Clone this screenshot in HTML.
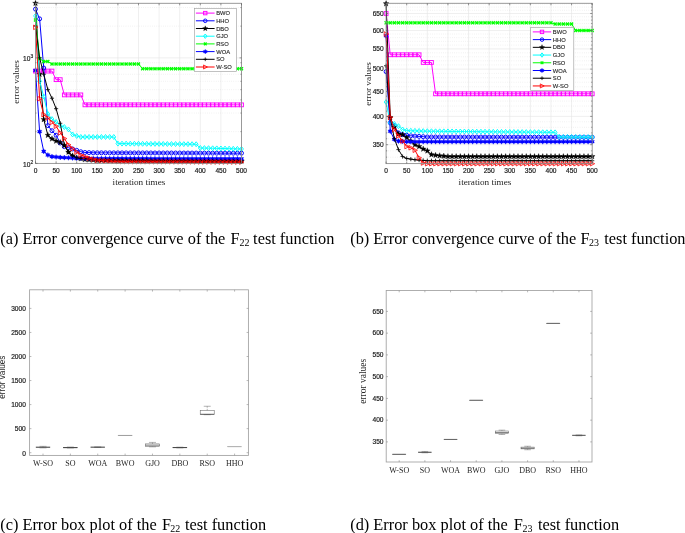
<!DOCTYPE html>
<html><head><meta charset="utf-8"><title>Figure</title>
<style>html,body{margin:0;padding:0;background:#fff;width:685px;height:533px;overflow:hidden}svg{display:block;will-change:transform}</style>
</head><body>
<svg width="685" height="533" viewBox="0 0 685 533">
<defs>
<clipPath id="ca"><rect x="35.5" y="0" width="209.0" height="164.4"/></clipPath>
<clipPath id="cb"><rect x="384.1" y="0" width="210.10000000000002" height="164.6"/></clipPath>
</defs>
<style>
.g{stroke:#e4e4e4;stroke-width:0.6}
.gm{stroke:#d2d2d2;stroke-width:0.5;stroke-dasharray:0.6 1.6}
.ax{stroke:#8f8f8f;stroke-width:0.9}
.axb{stroke:#a0a0a0;stroke-width:0.85}
.tk{stroke:#555;stroke-width:0.6}
.tkb{stroke:#8a8a8a;stroke-width:0.6}
.tl{font-family:"Liberation Sans",sans-serif;font-size:6.6px;fill:#1a1a1a;stroke:#1a1a1a;stroke-width:0.18px}
.lg{font-family:"Liberation Sans",sans-serif;font-size:5.8px;fill:#262626;stroke:#262626;stroke-width:0.12px}
.al{font-family:"Liberation Serif",serif;font-size:9.2px;fill:#262626}
.al2{font-family:"Liberation Serif",serif;font-size:9.5px;fill:#262626}
.al3{font-family:"Liberation Sans",sans-serif;font-size:8.2px;fill:#262626}
.bl{font-family:"Liberation Serif",serif;font-size:8px;fill:#262626}
.cap{font-family:"Liberation Serif",serif;font-size:16.35px;fill:#000}
.sub{font-size:10px}
</style>
<rect width="685" height="533" fill="#fff"/>
<line x1="56.1" y1="3.3" x2="56.1" y2="163.4" class="g"/>
<line x1="76.7" y1="3.3" x2="76.7" y2="163.4" class="g"/>
<line x1="97.3" y1="3.3" x2="97.3" y2="163.4" class="g"/>
<line x1="117.9" y1="3.3" x2="117.9" y2="163.4" class="g"/>
<line x1="138.5" y1="3.3" x2="138.5" y2="163.4" class="g"/>
<line x1="159.1" y1="3.3" x2="159.1" y2="163.4" class="g"/>
<line x1="179.7" y1="3.3" x2="179.7" y2="163.4" class="g"/>
<line x1="200.3" y1="3.3" x2="200.3" y2="163.4" class="g"/>
<line x1="220.9" y1="3.3" x2="220.9" y2="163.4" class="g"/>
<line x1="35.5" y1="57.9" x2="241.5" y2="57.9" class="g"/>
<line x1="35.5" y1="131.64" x2="241.5" y2="131.64" class="gm"/>
<line x1="35.5" y1="113.06" x2="241.5" y2="113.06" class="gm"/>
<line x1="35.5" y1="99.88" x2="241.5" y2="99.88" class="gm"/>
<line x1="35.5" y1="89.66" x2="241.5" y2="89.66" class="gm"/>
<line x1="35.5" y1="81.31" x2="241.5" y2="81.31" class="gm"/>
<line x1="35.5" y1="74.24" x2="241.5" y2="74.24" class="gm"/>
<line x1="35.5" y1="68.12" x2="241.5" y2="68.12" class="gm"/>
<line x1="35.5" y1="62.73" x2="241.5" y2="62.73" class="gm"/>
<line x1="35.5" y1="26.14" x2="241.5" y2="26.14" class="gm"/>
<line x1="35.5" y1="7.56" x2="241.5" y2="7.56" class="gm"/>
<g><path d="M35.5,71.08 L39.62,71.08 L43.74,71.08 L47.86,71.08 L51.98,71.08 L56.1,79.66 L60.22,79.66 L64.34,94.9 L68.46,94.9 L72.58,94.9 L76.7,94.9 L80.82,94.9 L84.94,104.84 L89.06,104.84 L93.18,104.84 L97.3,104.84 L101.42,104.84 L105.54,104.84 L109.66,104.84 L113.78,104.84 L117.9,104.84 L122.02,104.84 L126.14,104.84 L130.26,104.84 L134.38,104.84 L138.5,104.84 L142.62,104.84 L146.74,104.84 L150.86,104.84 L154.98,104.84 L159.1,104.84 L163.22,104.84 L167.34,104.84 L171.46,104.84 L175.58,104.84 L179.7,104.84 L183.82,104.84 L187.94,104.84 L192.06,104.84 L196.18,104.84 L200.3,104.84 L204.42,104.84 L208.54,104.84 L212.66,104.84 L216.78,104.84 L220.9,104.84 L225.02,104.84 L229.14,104.84 L233.26,104.84 L237.38,104.84 L241.5,104.84" fill="none" stroke="#ff00ff" stroke-width="1" stroke-linejoin="round"/><rect x="33.6" y="69.18" width="3.8" height="3.8" fill="none" stroke="#ff00ff" stroke-width="0.95"/><rect x="37.72" y="69.18" width="3.8" height="3.8" fill="none" stroke="#ff00ff" stroke-width="0.95"/><rect x="41.84" y="69.18" width="3.8" height="3.8" fill="none" stroke="#ff00ff" stroke-width="0.95"/><rect x="45.96" y="69.18" width="3.8" height="3.8" fill="none" stroke="#ff00ff" stroke-width="0.95"/><rect x="50.08" y="69.18" width="3.8" height="3.8" fill="none" stroke="#ff00ff" stroke-width="0.95"/><rect x="54.2" y="77.76" width="3.8" height="3.8" fill="none" stroke="#ff00ff" stroke-width="0.95"/><rect x="58.32" y="77.76" width="3.8" height="3.8" fill="none" stroke="#ff00ff" stroke-width="0.95"/><rect x="62.44" y="93" width="3.8" height="3.8" fill="none" stroke="#ff00ff" stroke-width="0.95"/><rect x="66.56" y="93" width="3.8" height="3.8" fill="none" stroke="#ff00ff" stroke-width="0.95"/><rect x="70.68" y="93" width="3.8" height="3.8" fill="none" stroke="#ff00ff" stroke-width="0.95"/><rect x="74.8" y="93" width="3.8" height="3.8" fill="none" stroke="#ff00ff" stroke-width="0.95"/><rect x="78.92" y="93" width="3.8" height="3.8" fill="none" stroke="#ff00ff" stroke-width="0.95"/><rect x="83.04" y="102.94" width="3.8" height="3.8" fill="none" stroke="#ff00ff" stroke-width="0.95"/><rect x="87.16" y="102.94" width="3.8" height="3.8" fill="none" stroke="#ff00ff" stroke-width="0.95"/><rect x="91.28" y="102.94" width="3.8" height="3.8" fill="none" stroke="#ff00ff" stroke-width="0.95"/><rect x="95.4" y="102.94" width="3.8" height="3.8" fill="none" stroke="#ff00ff" stroke-width="0.95"/><rect x="99.52" y="102.94" width="3.8" height="3.8" fill="none" stroke="#ff00ff" stroke-width="0.95"/><rect x="103.64" y="102.94" width="3.8" height="3.8" fill="none" stroke="#ff00ff" stroke-width="0.95"/><rect x="107.76" y="102.94" width="3.8" height="3.8" fill="none" stroke="#ff00ff" stroke-width="0.95"/><rect x="111.88" y="102.94" width="3.8" height="3.8" fill="none" stroke="#ff00ff" stroke-width="0.95"/><rect x="116" y="102.94" width="3.8" height="3.8" fill="none" stroke="#ff00ff" stroke-width="0.95"/><rect x="120.12" y="102.94" width="3.8" height="3.8" fill="none" stroke="#ff00ff" stroke-width="0.95"/><rect x="124.24" y="102.94" width="3.8" height="3.8" fill="none" stroke="#ff00ff" stroke-width="0.95"/><rect x="128.36" y="102.94" width="3.8" height="3.8" fill="none" stroke="#ff00ff" stroke-width="0.95"/><rect x="132.48" y="102.94" width="3.8" height="3.8" fill="none" stroke="#ff00ff" stroke-width="0.95"/><rect x="136.6" y="102.94" width="3.8" height="3.8" fill="none" stroke="#ff00ff" stroke-width="0.95"/><rect x="140.72" y="102.94" width="3.8" height="3.8" fill="none" stroke="#ff00ff" stroke-width="0.95"/><rect x="144.84" y="102.94" width="3.8" height="3.8" fill="none" stroke="#ff00ff" stroke-width="0.95"/><rect x="148.96" y="102.94" width="3.8" height="3.8" fill="none" stroke="#ff00ff" stroke-width="0.95"/><rect x="153.08" y="102.94" width="3.8" height="3.8" fill="none" stroke="#ff00ff" stroke-width="0.95"/><rect x="157.2" y="102.94" width="3.8" height="3.8" fill="none" stroke="#ff00ff" stroke-width="0.95"/><rect x="161.32" y="102.94" width="3.8" height="3.8" fill="none" stroke="#ff00ff" stroke-width="0.95"/><rect x="165.44" y="102.94" width="3.8" height="3.8" fill="none" stroke="#ff00ff" stroke-width="0.95"/><rect x="169.56" y="102.94" width="3.8" height="3.8" fill="none" stroke="#ff00ff" stroke-width="0.95"/><rect x="173.68" y="102.94" width="3.8" height="3.8" fill="none" stroke="#ff00ff" stroke-width="0.95"/><rect x="177.8" y="102.94" width="3.8" height="3.8" fill="none" stroke="#ff00ff" stroke-width="0.95"/><rect x="181.92" y="102.94" width="3.8" height="3.8" fill="none" stroke="#ff00ff" stroke-width="0.95"/><rect x="186.04" y="102.94" width="3.8" height="3.8" fill="none" stroke="#ff00ff" stroke-width="0.95"/><rect x="190.16" y="102.94" width="3.8" height="3.8" fill="none" stroke="#ff00ff" stroke-width="0.95"/><rect x="194.28" y="102.94" width="3.8" height="3.8" fill="none" stroke="#ff00ff" stroke-width="0.95"/><rect x="198.4" y="102.94" width="3.8" height="3.8" fill="none" stroke="#ff00ff" stroke-width="0.95"/><rect x="202.52" y="102.94" width="3.8" height="3.8" fill="none" stroke="#ff00ff" stroke-width="0.95"/><rect x="206.64" y="102.94" width="3.8" height="3.8" fill="none" stroke="#ff00ff" stroke-width="0.95"/><rect x="210.76" y="102.94" width="3.8" height="3.8" fill="none" stroke="#ff00ff" stroke-width="0.95"/><rect x="214.88" y="102.94" width="3.8" height="3.8" fill="none" stroke="#ff00ff" stroke-width="0.95"/><rect x="219" y="102.94" width="3.8" height="3.8" fill="none" stroke="#ff00ff" stroke-width="0.95"/><rect x="223.12" y="102.94" width="3.8" height="3.8" fill="none" stroke="#ff00ff" stroke-width="0.95"/><rect x="227.24" y="102.94" width="3.8" height="3.8" fill="none" stroke="#ff00ff" stroke-width="0.95"/><rect x="231.36" y="102.94" width="3.8" height="3.8" fill="none" stroke="#ff00ff" stroke-width="0.95"/><rect x="235.48" y="102.94" width="3.8" height="3.8" fill="none" stroke="#ff00ff" stroke-width="0.95"/><rect x="239.6" y="102.94" width="3.8" height="3.8" fill="none" stroke="#ff00ff" stroke-width="0.95"/></g>
<g><path d="M35.5,9.12 L39.62,18.85 L43.74,68.01 L47.86,125.64 L51.98,130.73 L56.1,135.21 L60.22,143.03 L64.34,146.69 L68.46,147.66 L72.58,148.98 L76.7,150.33 L80.82,151.73 L84.94,152.45 L89.06,152.63 L93.18,152.81 L97.3,152.82 L101.42,152.83 L105.54,152.84 L109.66,152.85 L113.78,152.86 L117.9,152.87 L122.02,152.88 L126.14,152.89 L130.26,152.9 L134.38,152.91 L138.5,152.92 L142.62,152.93 L146.74,152.94 L150.86,152.95 L154.98,152.96 L159.1,152.97 L163.22,152.98 L167.34,152.99 L171.46,153 L175.58,153.01 L179.7,153.02 L183.82,153.03 L187.94,153.04 L192.06,153.05 L196.18,153.06 L200.3,153.07 L204.42,153.08 L208.54,153.09 L212.66,153.11 L216.78,153.12 L220.9,153.13 L225.02,153.14 L229.14,153.15 L233.26,153.16 L237.38,153.17 L241.5,153.18" fill="none" stroke="#0000ff" stroke-width="1" stroke-linejoin="round"/><circle cx="35.5" cy="9.12" r="1.99" fill="none" stroke="#0000ff" stroke-width="0.95"/><circle cx="39.62" cy="18.85" r="1.99" fill="none" stroke="#0000ff" stroke-width="0.95"/><circle cx="43.74" cy="68.01" r="1.99" fill="none" stroke="#0000ff" stroke-width="0.95"/><circle cx="47.86" cy="125.64" r="1.99" fill="none" stroke="#0000ff" stroke-width="0.95"/><circle cx="51.98" cy="130.73" r="1.99" fill="none" stroke="#0000ff" stroke-width="0.95"/><circle cx="56.1" cy="135.21" r="1.99" fill="none" stroke="#0000ff" stroke-width="0.95"/><circle cx="60.22" cy="143.03" r="1.99" fill="none" stroke="#0000ff" stroke-width="0.95"/><circle cx="64.34" cy="146.69" r="1.99" fill="none" stroke="#0000ff" stroke-width="0.95"/><circle cx="68.46" cy="147.66" r="1.99" fill="none" stroke="#0000ff" stroke-width="0.95"/><circle cx="72.58" cy="148.98" r="1.99" fill="none" stroke="#0000ff" stroke-width="0.95"/><circle cx="76.7" cy="150.33" r="1.99" fill="none" stroke="#0000ff" stroke-width="0.95"/><circle cx="80.82" cy="151.73" r="1.99" fill="none" stroke="#0000ff" stroke-width="0.95"/><circle cx="84.94" cy="152.45" r="1.99" fill="none" stroke="#0000ff" stroke-width="0.95"/><circle cx="89.06" cy="152.63" r="1.99" fill="none" stroke="#0000ff" stroke-width="0.95"/><circle cx="93.18" cy="152.81" r="1.99" fill="none" stroke="#0000ff" stroke-width="0.95"/><circle cx="97.3" cy="152.82" r="1.99" fill="none" stroke="#0000ff" stroke-width="0.95"/><circle cx="101.42" cy="152.83" r="1.99" fill="none" stroke="#0000ff" stroke-width="0.95"/><circle cx="105.54" cy="152.84" r="1.99" fill="none" stroke="#0000ff" stroke-width="0.95"/><circle cx="109.66" cy="152.85" r="1.99" fill="none" stroke="#0000ff" stroke-width="0.95"/><circle cx="113.78" cy="152.86" r="1.99" fill="none" stroke="#0000ff" stroke-width="0.95"/><circle cx="117.9" cy="152.87" r="1.99" fill="none" stroke="#0000ff" stroke-width="0.95"/><circle cx="122.02" cy="152.88" r="1.99" fill="none" stroke="#0000ff" stroke-width="0.95"/><circle cx="126.14" cy="152.89" r="1.99" fill="none" stroke="#0000ff" stroke-width="0.95"/><circle cx="130.26" cy="152.9" r="1.99" fill="none" stroke="#0000ff" stroke-width="0.95"/><circle cx="134.38" cy="152.91" r="1.99" fill="none" stroke="#0000ff" stroke-width="0.95"/><circle cx="138.5" cy="152.92" r="1.99" fill="none" stroke="#0000ff" stroke-width="0.95"/><circle cx="142.62" cy="152.93" r="1.99" fill="none" stroke="#0000ff" stroke-width="0.95"/><circle cx="146.74" cy="152.94" r="1.99" fill="none" stroke="#0000ff" stroke-width="0.95"/><circle cx="150.86" cy="152.95" r="1.99" fill="none" stroke="#0000ff" stroke-width="0.95"/><circle cx="154.98" cy="152.96" r="1.99" fill="none" stroke="#0000ff" stroke-width="0.95"/><circle cx="159.1" cy="152.97" r="1.99" fill="none" stroke="#0000ff" stroke-width="0.95"/><circle cx="163.22" cy="152.98" r="1.99" fill="none" stroke="#0000ff" stroke-width="0.95"/><circle cx="167.34" cy="152.99" r="1.99" fill="none" stroke="#0000ff" stroke-width="0.95"/><circle cx="171.46" cy="153" r="1.99" fill="none" stroke="#0000ff" stroke-width="0.95"/><circle cx="175.58" cy="153.01" r="1.99" fill="none" stroke="#0000ff" stroke-width="0.95"/><circle cx="179.7" cy="153.02" r="1.99" fill="none" stroke="#0000ff" stroke-width="0.95"/><circle cx="183.82" cy="153.03" r="1.99" fill="none" stroke="#0000ff" stroke-width="0.95"/><circle cx="187.94" cy="153.04" r="1.99" fill="none" stroke="#0000ff" stroke-width="0.95"/><circle cx="192.06" cy="153.05" r="1.99" fill="none" stroke="#0000ff" stroke-width="0.95"/><circle cx="196.18" cy="153.06" r="1.99" fill="none" stroke="#0000ff" stroke-width="0.95"/><circle cx="200.3" cy="153.07" r="1.99" fill="none" stroke="#0000ff" stroke-width="0.95"/><circle cx="204.42" cy="153.08" r="1.99" fill="none" stroke="#0000ff" stroke-width="0.95"/><circle cx="208.54" cy="153.09" r="1.99" fill="none" stroke="#0000ff" stroke-width="0.95"/><circle cx="212.66" cy="153.11" r="1.99" fill="none" stroke="#0000ff" stroke-width="0.95"/><circle cx="216.78" cy="153.12" r="1.99" fill="none" stroke="#0000ff" stroke-width="0.95"/><circle cx="220.9" cy="153.13" r="1.99" fill="none" stroke="#0000ff" stroke-width="0.95"/><circle cx="225.02" cy="153.14" r="1.99" fill="none" stroke="#0000ff" stroke-width="0.95"/><circle cx="229.14" cy="153.15" r="1.99" fill="none" stroke="#0000ff" stroke-width="0.95"/><circle cx="233.26" cy="153.16" r="1.99" fill="none" stroke="#0000ff" stroke-width="0.95"/><circle cx="237.38" cy="153.17" r="1.99" fill="none" stroke="#0000ff" stroke-width="0.95"/><circle cx="241.5" cy="153.18" r="1.99" fill="none" stroke="#0000ff" stroke-width="0.95"/></g>
<g><path d="M35.5,3.2 L39.62,74.24 L43.74,119.44 L47.86,135.21 L51.98,138.82 L56.1,141.01 L60.22,142.44 L64.34,145.44 L68.46,152.09 L72.58,155.82 L76.7,157.8 L80.82,158.63 L84.94,159.45 L89.06,159.73 L93.18,160.02 L97.3,160.3 L101.42,160.32 L105.54,160.35 L109.66,160.37 L113.78,160.4 L117.9,160.42 L122.02,160.45 L126.14,160.47 L130.26,160.5 L134.38,160.52 L138.5,160.55 L142.62,160.57 L146.74,160.6 L150.86,160.62 L154.98,160.65 L159.1,160.67 L163.22,160.7 L167.34,160.72 L171.46,160.74 L175.58,160.77 L179.7,160.79 L183.82,160.82 L187.94,160.84 L192.06,160.87 L196.18,160.89 L200.3,160.92 L204.42,160.94 L208.54,160.97 L212.66,160.99 L216.78,161.02 L220.9,161.04 L225.02,161.07 L229.14,161.09 L233.26,161.12 L237.38,161.14 L241.5,161.16" fill="none" stroke="#000000" stroke-width="1" stroke-linejoin="round"/><polygon points="35.5,0.16 36.26,2.15 38.39,2.26 36.73,3.6 37.29,5.66 35.5,4.49 33.71,5.66 34.27,3.6 32.61,2.26 34.74,2.15" fill="#000000" stroke="#000000" stroke-width="0.3"/><polygon points="39.62,71.2 40.38,73.2 42.51,73.3 40.85,74.64 41.41,76.7 39.62,75.53 37.83,76.7 38.39,74.64 36.73,73.3 38.86,73.2" fill="#000000" stroke="#000000" stroke-width="0.3"/><polygon points="43.74,116.4 44.5,118.4 46.63,118.51 44.97,119.84 45.53,121.9 43.74,120.74 41.95,121.9 42.51,119.84 40.85,118.51 42.98,118.4" fill="#000000" stroke="#000000" stroke-width="0.3"/><polygon points="47.86,132.17 48.62,134.17 50.75,134.27 49.09,135.61 49.65,137.67 47.86,136.51 46.07,137.67 46.63,135.61 44.97,134.27 47.1,134.17" fill="#000000" stroke="#000000" stroke-width="0.3"/><polygon points="51.98,135.78 52.74,137.77 54.87,137.88 53.21,139.22 53.77,141.28 51.98,140.11 50.19,141.28 50.75,139.22 49.09,137.88 51.22,137.77" fill="#000000" stroke="#000000" stroke-width="0.3"/><polygon points="56.1,137.97 56.86,139.97 58.99,140.07 57.33,141.41 57.89,143.47 56.1,142.31 54.31,143.47 54.87,141.41 53.21,140.07 55.34,139.97" fill="#000000" stroke="#000000" stroke-width="0.3"/><polygon points="60.22,139.4 60.98,141.4 63.11,141.5 61.45,142.84 62.01,144.9 60.22,143.73 58.43,144.9 58.99,142.84 57.33,141.5 59.46,141.4" fill="#000000" stroke="#000000" stroke-width="0.3"/><polygon points="64.34,142.4 65.1,144.39 67.23,144.5 65.57,145.84 66.13,147.9 64.34,146.73 62.55,147.9 63.11,145.84 61.45,144.5 63.58,144.39" fill="#000000" stroke="#000000" stroke-width="0.3"/><polygon points="68.46,149.05 69.22,151.04 71.35,151.15 69.69,152.49 70.25,154.55 68.46,153.38 66.67,154.55 67.23,152.49 65.57,151.15 67.7,151.04" fill="#000000" stroke="#000000" stroke-width="0.3"/><polygon points="72.58,152.78 73.34,154.77 75.47,154.88 73.81,156.22 74.37,158.28 72.58,157.11 70.79,158.28 71.35,156.22 69.69,154.88 71.82,154.77" fill="#000000" stroke="#000000" stroke-width="0.3"/><polygon points="76.7,154.76 77.46,156.75 79.59,156.86 77.93,158.2 78.49,160.26 76.7,159.09 74.91,160.26 75.47,158.2 73.81,156.86 75.94,156.75" fill="#000000" stroke="#000000" stroke-width="0.3"/><polygon points="80.82,155.59 81.58,157.58 83.71,157.69 82.05,159.03 82.61,161.09 80.82,159.92 79.03,161.09 79.59,159.03 77.93,157.69 80.06,157.58" fill="#000000" stroke="#000000" stroke-width="0.3"/><polygon points="84.94,156.41 85.7,158.41 87.83,158.51 86.17,159.85 86.73,161.91 84.94,160.74 83.15,161.91 83.71,159.85 82.05,158.51 84.18,158.41" fill="#000000" stroke="#000000" stroke-width="0.3"/><polygon points="89.06,156.69 89.82,158.69 91.95,158.79 90.29,160.13 90.85,162.19 89.06,161.03 87.27,162.19 87.83,160.13 86.17,158.79 88.3,158.69" fill="#000000" stroke="#000000" stroke-width="0.3"/><polygon points="93.18,156.98 93.94,158.97 96.07,159.08 94.41,160.42 94.97,162.48 93.18,161.31 91.39,162.48 91.95,160.42 90.29,159.08 92.42,158.97" fill="#000000" stroke="#000000" stroke-width="0.3"/><polygon points="97.3,157.26 98.06,159.25 100.19,159.36 98.53,160.7 99.09,162.76 97.3,161.59 95.51,162.76 96.07,160.7 94.41,159.36 96.54,159.25" fill="#000000" stroke="#000000" stroke-width="0.3"/><polygon points="101.42,157.28 102.18,159.28 104.31,159.39 102.65,160.72 103.21,162.78 101.42,161.62 99.63,162.78 100.19,160.72 98.53,159.39 100.66,159.28" fill="#000000" stroke="#000000" stroke-width="0.3"/><polygon points="105.54,157.31 106.3,159.3 108.43,159.41 106.77,160.75 107.33,162.81 105.54,161.64 103.75,162.81 104.31,160.75 102.65,159.41 104.78,159.3" fill="#000000" stroke="#000000" stroke-width="0.3"/><polygon points="109.66,157.33 110.42,159.33 112.55,159.43 110.89,160.77 111.45,162.83 109.66,161.67 107.87,162.83 108.43,160.77 106.77,159.43 108.9,159.33" fill="#000000" stroke="#000000" stroke-width="0.3"/><polygon points="113.78,157.36 114.54,159.35 116.67,159.46 115.01,160.8 115.57,162.86 113.78,161.69 111.99,162.86 112.55,160.8 110.89,159.46 113.02,159.35" fill="#000000" stroke="#000000" stroke-width="0.3"/><polygon points="117.9,157.38 118.66,159.38 120.79,159.48 119.13,160.82 119.69,162.88 117.9,161.72 116.11,162.88 116.67,160.82 115.01,159.48 117.14,159.38" fill="#000000" stroke="#000000" stroke-width="0.3"/><polygon points="122.02,157.41 122.78,159.4 124.91,159.51 123.25,160.85 123.81,162.91 122.02,161.74 120.23,162.91 120.79,160.85 119.13,159.51 121.26,159.4" fill="#000000" stroke="#000000" stroke-width="0.3"/><polygon points="126.14,157.43 126.9,159.43 129.03,159.53 127.37,160.87 127.93,162.93 126.14,161.76 124.35,162.93 124.91,160.87 123.25,159.53 125.38,159.43" fill="#000000" stroke="#000000" stroke-width="0.3"/><polygon points="130.26,157.46 131.02,159.45 133.15,159.56 131.49,160.9 132.05,162.96 130.26,161.79 128.47,162.96 129.03,160.9 127.37,159.56 129.5,159.45" fill="#000000" stroke="#000000" stroke-width="0.3"/><polygon points="134.38,157.48 135.14,159.48 137.27,159.58 135.61,160.92 136.17,162.98 134.38,161.81 132.59,162.98 133.15,160.92 131.49,159.58 133.62,159.48" fill="#000000" stroke="#000000" stroke-width="0.3"/><polygon points="138.5,157.51 139.26,159.5 141.39,159.61 139.73,160.95 140.29,163.01 138.5,161.84 136.71,163.01 137.27,160.95 135.61,159.61 137.74,159.5" fill="#000000" stroke="#000000" stroke-width="0.3"/><polygon points="142.62,157.53 143.38,159.53 145.51,159.63 143.85,160.97 144.41,163.03 142.62,161.86 140.83,163.03 141.39,160.97 139.73,159.63 141.86,159.53" fill="#000000" stroke="#000000" stroke-width="0.3"/><polygon points="146.74,157.56 147.5,159.55 149.63,159.66 147.97,161 148.53,163.06 146.74,161.89 144.95,163.06 145.51,161 143.85,159.66 145.98,159.55" fill="#000000" stroke="#000000" stroke-width="0.3"/><polygon points="150.86,157.58 151.62,159.58 153.75,159.68 152.09,161.02 152.65,163.08 150.86,161.91 149.07,163.08 149.63,161.02 147.97,159.68 150.1,159.58" fill="#000000" stroke="#000000" stroke-width="0.3"/><polygon points="154.98,157.61 155.74,159.6 157.87,159.71 156.21,161.05 156.77,163.11 154.98,161.94 153.19,163.11 153.75,161.05 152.09,159.71 154.22,159.6" fill="#000000" stroke="#000000" stroke-width="0.3"/><polygon points="159.1,157.63 159.86,159.63 161.99,159.73 160.33,161.07 160.89,163.13 159.1,161.96 157.31,163.13 157.87,161.07 156.21,159.73 158.34,159.63" fill="#000000" stroke="#000000" stroke-width="0.3"/><polygon points="163.22,157.66 163.98,159.65 166.11,159.76 164.45,161.09 165.01,163.15 163.22,161.99 161.43,163.15 161.99,161.09 160.33,159.76 162.46,159.65" fill="#000000" stroke="#000000" stroke-width="0.3"/><polygon points="167.34,157.68 168.1,159.67 170.23,159.78 168.57,161.12 169.13,163.18 167.34,162.01 165.55,163.18 166.11,161.12 164.45,159.78 166.58,159.67" fill="#000000" stroke="#000000" stroke-width="0.3"/><polygon points="171.46,157.7 172.22,159.7 174.35,159.81 172.69,161.14 173.25,163.2 171.46,162.04 169.67,163.2 170.23,161.14 168.57,159.81 170.7,159.7" fill="#000000" stroke="#000000" stroke-width="0.3"/><polygon points="175.58,157.73 176.34,159.72 178.47,159.83 176.81,161.17 177.37,163.23 175.58,162.06 173.79,163.23 174.35,161.17 172.69,159.83 174.82,159.72" fill="#000000" stroke="#000000" stroke-width="0.3"/><polygon points="179.7,157.75 180.46,159.75 182.59,159.85 180.93,161.19 181.49,163.25 179.7,162.09 177.91,163.25 178.47,161.19 176.81,159.85 178.94,159.75" fill="#000000" stroke="#000000" stroke-width="0.3"/><polygon points="183.82,157.78 184.58,159.77 186.71,159.88 185.05,161.22 185.61,163.28 183.82,162.11 182.03,163.28 182.59,161.22 180.93,159.88 183.06,159.77" fill="#000000" stroke="#000000" stroke-width="0.3"/><polygon points="187.94,157.8 188.7,159.8 190.83,159.9 189.17,161.24 189.73,163.3 187.94,162.14 186.15,163.3 186.71,161.24 185.05,159.9 187.18,159.8" fill="#000000" stroke="#000000" stroke-width="0.3"/><polygon points="192.06,157.83 192.82,159.82 194.95,159.93 193.29,161.27 193.85,163.33 192.06,162.16 190.27,163.33 190.83,161.27 189.17,159.93 191.3,159.82" fill="#000000" stroke="#000000" stroke-width="0.3"/><polygon points="196.18,157.85 196.94,159.85 199.07,159.95 197.41,161.29 197.97,163.35 196.18,162.18 194.39,163.35 194.95,161.29 193.29,159.95 195.42,159.85" fill="#000000" stroke="#000000" stroke-width="0.3"/><polygon points="200.3,157.88 201.06,159.87 203.19,159.98 201.53,161.32 202.09,163.38 200.3,162.21 198.51,163.38 199.07,161.32 197.41,159.98 199.54,159.87" fill="#000000" stroke="#000000" stroke-width="0.3"/><polygon points="204.42,157.9 205.18,159.9 207.31,160 205.65,161.34 206.21,163.4 204.42,162.23 202.63,163.4 203.19,161.34 201.53,160 203.66,159.9" fill="#000000" stroke="#000000" stroke-width="0.3"/><polygon points="208.54,157.93 209.3,159.92 211.43,160.03 209.77,161.37 210.33,163.43 208.54,162.26 206.75,163.43 207.31,161.37 205.65,160.03 207.78,159.92" fill="#000000" stroke="#000000" stroke-width="0.3"/><polygon points="212.66,157.95 213.42,159.95 215.55,160.05 213.89,161.39 214.45,163.45 212.66,162.28 210.87,163.45 211.43,161.39 209.77,160.05 211.9,159.95" fill="#000000" stroke="#000000" stroke-width="0.3"/><polygon points="216.78,157.98 217.54,159.97 219.67,160.08 218.01,161.42 218.57,163.48 216.78,162.31 214.99,163.48 215.55,161.42 213.89,160.08 216.02,159.97" fill="#000000" stroke="#000000" stroke-width="0.3"/><polygon points="220.9,158 221.66,160 223.79,160.1 222.13,161.44 222.69,163.5 220.9,162.33 219.11,163.5 219.67,161.44 218.01,160.1 220.14,160" fill="#000000" stroke="#000000" stroke-width="0.3"/><polygon points="225.02,158.03 225.78,160.02 227.91,160.13 226.25,161.46 226.81,163.53 225.02,162.36 223.23,163.53 223.79,161.46 222.13,160.13 224.26,160.02" fill="#000000" stroke="#000000" stroke-width="0.3"/><polygon points="229.14,158.05 229.9,160.05 232.03,160.15 230.37,161.49 230.93,163.55 229.14,162.38 227.35,163.55 227.91,161.49 226.25,160.15 228.38,160.05" fill="#000000" stroke="#000000" stroke-width="0.3"/><polygon points="233.26,158.08 234.02,160.07 236.15,160.18 234.49,161.51 235.05,163.57 233.26,162.41 231.47,163.57 232.03,161.51 230.37,160.18 232.5,160.07" fill="#000000" stroke="#000000" stroke-width="0.3"/><polygon points="237.38,158.1 238.14,160.09 240.27,160.2 238.61,161.54 239.17,163.6 237.38,162.43 235.59,163.6 236.15,161.54 234.49,160.2 236.62,160.09" fill="#000000" stroke="#000000" stroke-width="0.3"/><polygon points="241.5,158.12 242.26,160.12 244.39,160.23 242.73,161.56 243.29,163.62 241.5,162.46 239.71,163.62 240.27,161.56 238.61,160.23 240.74,160.12" fill="#000000" stroke="#000000" stroke-width="0.3"/></g>
<g><path d="M35.5,15.92 L39.62,81.31 L43.74,96.57 L47.86,113.99 L51.98,119.09 L56.1,121.97 L60.22,125.64 L64.34,127.07 L68.46,129.41 L72.58,134.48 L76.7,135.96 L80.82,136.98 L84.94,136.98 L89.06,136.98 L93.18,136.98 L97.3,136.98 L101.42,136.98 L105.54,136.98 L109.66,136.98 L113.78,136.98 L117.9,143.62 L122.02,143.65 L126.14,143.68 L130.26,143.71 L134.38,143.74 L138.5,143.77 L142.62,143.81 L146.74,143.84 L150.86,143.87 L154.98,143.9 L159.1,143.93 L163.22,143.96 L167.34,143.99 L171.46,144.03 L175.58,144.06 L179.7,144.09 L183.82,144.12 L187.94,144.15 L192.06,144.18 L196.18,144.22 L200.3,147.98 L204.42,148.08 L208.54,148.18 L212.66,148.28 L216.78,148.38 L220.9,148.48 L225.02,148.58 L229.14,148.68 L233.26,148.78 L237.38,148.88 L241.5,148.98" fill="none" stroke="#00ffff" stroke-width="1" stroke-linejoin="round"/><polygon points="35.5,13.45 37.4,15.92 35.5,18.39 33.6,15.92" fill="none" stroke="#00ffff" stroke-width="0.95"/><polygon points="39.62,78.84 41.52,81.31 39.62,83.78 37.72,81.31" fill="none" stroke="#00ffff" stroke-width="0.95"/><polygon points="43.74,94.1 45.64,96.57 43.74,99.04 41.84,96.57" fill="none" stroke="#00ffff" stroke-width="0.95"/><polygon points="47.86,111.52 49.76,113.99 47.86,116.46 45.96,113.99" fill="none" stroke="#00ffff" stroke-width="0.95"/><polygon points="51.98,116.62 53.88,119.09 51.98,121.56 50.08,119.09" fill="none" stroke="#00ffff" stroke-width="0.95"/><polygon points="56.1,119.5 58,121.97 56.1,124.44 54.2,121.97" fill="none" stroke="#00ffff" stroke-width="0.95"/><polygon points="60.22,123.17 62.12,125.64 60.22,128.11 58.32,125.64" fill="none" stroke="#00ffff" stroke-width="0.95"/><polygon points="64.34,124.6 66.24,127.07 64.34,129.54 62.44,127.07" fill="none" stroke="#00ffff" stroke-width="0.95"/><polygon points="68.46,126.94 70.36,129.41 68.46,131.88 66.56,129.41" fill="none" stroke="#00ffff" stroke-width="0.95"/><polygon points="72.58,132.01 74.48,134.48 72.58,136.95 70.68,134.48" fill="none" stroke="#00ffff" stroke-width="0.95"/><polygon points="76.7,133.49 78.6,135.96 76.7,138.43 74.8,135.96" fill="none" stroke="#00ffff" stroke-width="0.95"/><polygon points="80.82,134.51 82.72,136.98 80.82,139.45 78.92,136.98" fill="none" stroke="#00ffff" stroke-width="0.95"/><polygon points="84.94,134.51 86.84,136.98 84.94,139.45 83.04,136.98" fill="none" stroke="#00ffff" stroke-width="0.95"/><polygon points="89.06,134.51 90.96,136.98 89.06,139.45 87.16,136.98" fill="none" stroke="#00ffff" stroke-width="0.95"/><polygon points="93.18,134.51 95.08,136.98 93.18,139.45 91.28,136.98" fill="none" stroke="#00ffff" stroke-width="0.95"/><polygon points="97.3,134.51 99.2,136.98 97.3,139.45 95.4,136.98" fill="none" stroke="#00ffff" stroke-width="0.95"/><polygon points="101.42,134.51 103.32,136.98 101.42,139.45 99.52,136.98" fill="none" stroke="#00ffff" stroke-width="0.95"/><polygon points="105.54,134.51 107.44,136.98 105.54,139.45 103.64,136.98" fill="none" stroke="#00ffff" stroke-width="0.95"/><polygon points="109.66,134.51 111.56,136.98 109.66,139.45 107.76,136.98" fill="none" stroke="#00ffff" stroke-width="0.95"/><polygon points="113.78,134.51 115.68,136.98 113.78,139.45 111.88,136.98" fill="none" stroke="#00ffff" stroke-width="0.95"/><polygon points="117.9,141.15 119.8,143.62 117.9,146.09 116,143.62" fill="none" stroke="#00ffff" stroke-width="0.95"/><polygon points="122.02,141.18 123.92,143.65 122.02,146.12 120.12,143.65" fill="none" stroke="#00ffff" stroke-width="0.95"/><polygon points="126.14,141.21 128.04,143.68 126.14,146.15 124.24,143.68" fill="none" stroke="#00ffff" stroke-width="0.95"/><polygon points="130.26,141.24 132.16,143.71 130.26,146.18 128.36,143.71" fill="none" stroke="#00ffff" stroke-width="0.95"/><polygon points="134.38,141.27 136.28,143.74 134.38,146.21 132.48,143.74" fill="none" stroke="#00ffff" stroke-width="0.95"/><polygon points="138.5,141.3 140.4,143.77 138.5,146.24 136.6,143.77" fill="none" stroke="#00ffff" stroke-width="0.95"/><polygon points="142.62,141.34 144.52,143.81 142.62,146.28 140.72,143.81" fill="none" stroke="#00ffff" stroke-width="0.95"/><polygon points="146.74,141.37 148.64,143.84 146.74,146.31 144.84,143.84" fill="none" stroke="#00ffff" stroke-width="0.95"/><polygon points="150.86,141.4 152.76,143.87 150.86,146.34 148.96,143.87" fill="none" stroke="#00ffff" stroke-width="0.95"/><polygon points="154.98,141.43 156.88,143.9 154.98,146.37 153.08,143.9" fill="none" stroke="#00ffff" stroke-width="0.95"/><polygon points="159.1,141.46 161,143.93 159.1,146.4 157.2,143.93" fill="none" stroke="#00ffff" stroke-width="0.95"/><polygon points="163.22,141.49 165.12,143.96 163.22,146.43 161.32,143.96" fill="none" stroke="#00ffff" stroke-width="0.95"/><polygon points="167.34,141.52 169.24,143.99 167.34,146.46 165.44,143.99" fill="none" stroke="#00ffff" stroke-width="0.95"/><polygon points="171.46,141.56 173.36,144.03 171.46,146.5 169.56,144.03" fill="none" stroke="#00ffff" stroke-width="0.95"/><polygon points="175.58,141.59 177.48,144.06 175.58,146.53 173.68,144.06" fill="none" stroke="#00ffff" stroke-width="0.95"/><polygon points="179.7,141.62 181.6,144.09 179.7,146.56 177.8,144.09" fill="none" stroke="#00ffff" stroke-width="0.95"/><polygon points="183.82,141.65 185.72,144.12 183.82,146.59 181.92,144.12" fill="none" stroke="#00ffff" stroke-width="0.95"/><polygon points="187.94,141.68 189.84,144.15 187.94,146.62 186.04,144.15" fill="none" stroke="#00ffff" stroke-width="0.95"/><polygon points="192.06,141.71 193.96,144.18 192.06,146.65 190.16,144.18" fill="none" stroke="#00ffff" stroke-width="0.95"/><polygon points="196.18,141.75 198.08,144.22 196.18,146.69 194.28,144.22" fill="none" stroke="#00ffff" stroke-width="0.95"/><polygon points="200.3,145.51 202.2,147.98 200.3,150.45 198.4,147.98" fill="none" stroke="#00ffff" stroke-width="0.95"/><polygon points="204.42,145.61 206.32,148.08 204.42,150.55 202.52,148.08" fill="none" stroke="#00ffff" stroke-width="0.95"/><polygon points="208.54,145.71 210.44,148.18 208.54,150.65 206.64,148.18" fill="none" stroke="#00ffff" stroke-width="0.95"/><polygon points="212.66,145.81 214.56,148.28 212.66,150.75 210.76,148.28" fill="none" stroke="#00ffff" stroke-width="0.95"/><polygon points="216.78,145.91 218.68,148.38 216.78,150.85 214.88,148.38" fill="none" stroke="#00ffff" stroke-width="0.95"/><polygon points="220.9,146.01 222.8,148.48 220.9,150.95 219,148.48" fill="none" stroke="#00ffff" stroke-width="0.95"/><polygon points="225.02,146.11 226.92,148.58 225.02,151.05 223.12,148.58" fill="none" stroke="#00ffff" stroke-width="0.95"/><polygon points="229.14,146.21 231.04,148.68 229.14,151.15 227.24,148.68" fill="none" stroke="#00ffff" stroke-width="0.95"/><polygon points="233.26,146.31 235.16,148.78 233.26,151.25 231.36,148.78" fill="none" stroke="#00ffff" stroke-width="0.95"/><polygon points="237.38,146.41 239.28,148.88 237.38,151.35 235.48,148.88" fill="none" stroke="#00ffff" stroke-width="0.95"/><polygon points="241.5,146.51 243.4,148.98 241.5,151.45 239.6,148.98" fill="none" stroke="#00ffff" stroke-width="0.95"/></g>
<g><path d="M35.5,19.94 L39.62,58.64 L43.74,61.47 L47.86,61.47 L51.98,63.97 L56.1,63.97 L60.22,63.97 L64.34,63.97 L68.46,63.97 L72.58,63.97 L76.7,63.97 L80.82,63.97 L84.94,63.97 L89.06,63.97 L93.18,63.97 L97.3,63.97 L101.42,63.97 L105.54,63.97 L109.66,63.97 L113.78,63.97 L117.9,63.97 L122.02,63.97 L126.14,63.97 L130.26,63.97 L134.38,63.97 L138.5,63.97 L142.62,68.7 L146.74,68.7 L150.86,68.7 L154.98,68.7 L159.1,68.7 L163.22,68.7 L167.34,68.7 L171.46,68.7 L175.58,68.7 L179.7,68.7 L183.82,68.7 L187.94,68.7 L192.06,68.7 L196.18,68.7 L200.3,68.7 L204.42,68.7 L208.54,68.7 L212.66,68.7 L216.78,68.7 L220.9,68.7 L225.02,68.7 L229.14,68.7 L233.26,68.7 L237.38,68.7 L241.5,68.7" fill="none" stroke="#00ff00" stroke-width="1" stroke-linejoin="round"/><path d="M33.98,18.42L37.02,21.46M33.98,21.46L37.02,18.42" stroke="#00ff00" stroke-width="1.3"/><path d="M38.1,57.12L41.14,60.16M38.1,60.16L41.14,57.12" stroke="#00ff00" stroke-width="1.3"/><path d="M42.22,59.95L45.26,62.99M42.22,62.99L45.26,59.95" stroke="#00ff00" stroke-width="1.3"/><path d="M46.34,59.95L49.38,62.99M46.34,62.99L49.38,59.95" stroke="#00ff00" stroke-width="1.3"/><path d="M50.46,62.45L53.5,65.49M50.46,65.49L53.5,62.45" stroke="#00ff00" stroke-width="1.3"/><path d="M54.58,62.45L57.62,65.49M54.58,65.49L57.62,62.45" stroke="#00ff00" stroke-width="1.3"/><path d="M58.7,62.45L61.74,65.49M58.7,65.49L61.74,62.45" stroke="#00ff00" stroke-width="1.3"/><path d="M62.82,62.45L65.86,65.49M62.82,65.49L65.86,62.45" stroke="#00ff00" stroke-width="1.3"/><path d="M66.94,62.45L69.98,65.49M66.94,65.49L69.98,62.45" stroke="#00ff00" stroke-width="1.3"/><path d="M71.06,62.45L74.1,65.49M71.06,65.49L74.1,62.45" stroke="#00ff00" stroke-width="1.3"/><path d="M75.18,62.45L78.22,65.49M75.18,65.49L78.22,62.45" stroke="#00ff00" stroke-width="1.3"/><path d="M79.3,62.45L82.34,65.49M79.3,65.49L82.34,62.45" stroke="#00ff00" stroke-width="1.3"/><path d="M83.42,62.45L86.46,65.49M83.42,65.49L86.46,62.45" stroke="#00ff00" stroke-width="1.3"/><path d="M87.54,62.45L90.58,65.49M87.54,65.49L90.58,62.45" stroke="#00ff00" stroke-width="1.3"/><path d="M91.66,62.45L94.7,65.49M91.66,65.49L94.7,62.45" stroke="#00ff00" stroke-width="1.3"/><path d="M95.78,62.45L98.82,65.49M95.78,65.49L98.82,62.45" stroke="#00ff00" stroke-width="1.3"/><path d="M99.9,62.45L102.94,65.49M99.9,65.49L102.94,62.45" stroke="#00ff00" stroke-width="1.3"/><path d="M104.02,62.45L107.06,65.49M104.02,65.49L107.06,62.45" stroke="#00ff00" stroke-width="1.3"/><path d="M108.14,62.45L111.18,65.49M108.14,65.49L111.18,62.45" stroke="#00ff00" stroke-width="1.3"/><path d="M112.26,62.45L115.3,65.49M112.26,65.49L115.3,62.45" stroke="#00ff00" stroke-width="1.3"/><path d="M116.38,62.45L119.42,65.49M116.38,65.49L119.42,62.45" stroke="#00ff00" stroke-width="1.3"/><path d="M120.5,62.45L123.54,65.49M120.5,65.49L123.54,62.45" stroke="#00ff00" stroke-width="1.3"/><path d="M124.62,62.45L127.66,65.49M124.62,65.49L127.66,62.45" stroke="#00ff00" stroke-width="1.3"/><path d="M128.74,62.45L131.78,65.49M128.74,65.49L131.78,62.45" stroke="#00ff00" stroke-width="1.3"/><path d="M132.86,62.45L135.9,65.49M132.86,65.49L135.9,62.45" stroke="#00ff00" stroke-width="1.3"/><path d="M136.98,62.45L140.02,65.49M136.98,65.49L140.02,62.45" stroke="#00ff00" stroke-width="1.3"/><path d="M141.1,67.18L144.14,70.22M141.1,70.22L144.14,67.18" stroke="#00ff00" stroke-width="1.3"/><path d="M145.22,67.18L148.26,70.22M145.22,70.22L148.26,67.18" stroke="#00ff00" stroke-width="1.3"/><path d="M149.34,67.18L152.38,70.22M149.34,70.22L152.38,67.18" stroke="#00ff00" stroke-width="1.3"/><path d="M153.46,67.18L156.5,70.22M153.46,70.22L156.5,67.18" stroke="#00ff00" stroke-width="1.3"/><path d="M157.58,67.18L160.62,70.22M157.58,70.22L160.62,67.18" stroke="#00ff00" stroke-width="1.3"/><path d="M161.7,67.18L164.74,70.22M161.7,70.22L164.74,67.18" stroke="#00ff00" stroke-width="1.3"/><path d="M165.82,67.18L168.86,70.22M165.82,70.22L168.86,67.18" stroke="#00ff00" stroke-width="1.3"/><path d="M169.94,67.18L172.98,70.22M169.94,70.22L172.98,67.18" stroke="#00ff00" stroke-width="1.3"/><path d="M174.06,67.18L177.1,70.22M174.06,70.22L177.1,67.18" stroke="#00ff00" stroke-width="1.3"/><path d="M178.18,67.18L181.22,70.22M178.18,70.22L181.22,67.18" stroke="#00ff00" stroke-width="1.3"/><path d="M182.3,67.18L185.34,70.22M182.3,70.22L185.34,67.18" stroke="#00ff00" stroke-width="1.3"/><path d="M186.42,67.18L189.46,70.22M186.42,70.22L189.46,67.18" stroke="#00ff00" stroke-width="1.3"/><path d="M190.54,67.18L193.58,70.22M190.54,70.22L193.58,67.18" stroke="#00ff00" stroke-width="1.3"/><path d="M194.66,67.18L197.7,70.22M194.66,70.22L197.7,67.18" stroke="#00ff00" stroke-width="1.3"/><path d="M198.78,67.18L201.82,70.22M198.78,70.22L201.82,67.18" stroke="#00ff00" stroke-width="1.3"/><path d="M202.9,67.18L205.94,70.22M202.9,70.22L205.94,67.18" stroke="#00ff00" stroke-width="1.3"/><path d="M207.02,67.18L210.06,70.22M207.02,70.22L210.06,67.18" stroke="#00ff00" stroke-width="1.3"/><path d="M211.14,67.18L214.18,70.22M211.14,70.22L214.18,67.18" stroke="#00ff00" stroke-width="1.3"/><path d="M215.26,67.18L218.3,70.22M215.26,70.22L218.3,67.18" stroke="#00ff00" stroke-width="1.3"/><path d="M219.38,67.18L222.42,70.22M219.38,70.22L222.42,67.18" stroke="#00ff00" stroke-width="1.3"/><path d="M223.5,67.18L226.54,70.22M223.5,70.22L226.54,67.18" stroke="#00ff00" stroke-width="1.3"/><path d="M227.62,67.18L230.66,70.22M227.62,70.22L230.66,67.18" stroke="#00ff00" stroke-width="1.3"/><path d="M231.74,67.18L234.78,70.22M231.74,70.22L234.78,67.18" stroke="#00ff00" stroke-width="1.3"/><path d="M235.86,67.18L238.9,70.22M235.86,70.22L238.9,67.18" stroke="#00ff00" stroke-width="1.3"/><path d="M239.98,67.18L243.02,70.22M239.98,70.22L243.02,67.18" stroke="#00ff00" stroke-width="1.3"/></g>
<g><path d="M35.5,70.47 L39.62,131.64 L43.74,151.38 L47.86,155.05 L51.98,156.6 L56.1,157 L60.22,157.4 L64.34,157.6 L68.46,157.8 L72.58,158 L76.7,158.21 L80.82,158.29 L84.94,158.37 L89.06,158.45 L93.18,158.54 L97.3,158.62 L101.42,158.62 L105.54,158.63 L109.66,158.64 L113.78,158.64 L117.9,158.65 L122.02,158.65 L126.14,158.66 L130.26,158.67 L134.38,158.67 L138.5,158.68 L142.62,158.68 L146.74,158.69 L150.86,158.7 L154.98,158.7 L159.1,158.71 L163.22,158.71 L167.34,158.72 L171.46,158.72 L175.58,158.73 L179.7,158.74 L183.82,158.74 L187.94,158.75 L192.06,158.75 L196.18,158.76 L200.3,158.77 L204.42,158.77 L208.54,158.78 L212.66,158.78 L216.78,158.79 L220.9,158.8 L225.02,158.8 L229.14,158.81 L233.26,158.81 L237.38,158.82 L241.5,158.83" fill="none" stroke="#0000ff" stroke-width="1" stroke-linejoin="round"/><polygon points="35.5,67.91 36.26,69.16 37.72,69.19 37.02,70.47 37.72,71.76 36.26,71.79 35.5,73.04 34.74,71.79 33.28,71.76 33.98,70.47 33.28,69.19 34.74,69.16" fill="#0000ff" stroke="#0000ff" stroke-width="0.3"/><polygon points="39.62,129.08 40.38,130.32 41.84,130.36 41.14,131.64 41.84,132.92 40.38,132.96 39.62,134.21 38.86,132.96 37.4,132.92 38.1,131.64 37.4,130.36 38.86,130.32" fill="#0000ff" stroke="#0000ff" stroke-width="0.3"/><polygon points="43.74,148.81 44.5,150.06 45.96,150.1 45.26,151.38 45.96,152.66 44.5,152.7 43.74,153.94 42.98,152.7 41.52,152.66 42.22,151.38 41.52,150.1 42.98,150.06" fill="#0000ff" stroke="#0000ff" stroke-width="0.3"/><polygon points="47.86,152.48 48.62,153.73 50.08,153.76 49.38,155.05 50.08,156.33 48.62,156.36 47.86,157.61 47.1,156.36 45.64,156.33 46.34,155.05 45.64,153.76 47.1,153.73" fill="#0000ff" stroke="#0000ff" stroke-width="0.3"/><polygon points="51.98,154.03 52.74,155.28 54.2,155.32 53.5,156.6 54.2,157.88 52.74,157.92 51.98,159.16 51.22,157.92 49.76,157.88 50.46,156.6 49.76,155.32 51.22,155.28" fill="#0000ff" stroke="#0000ff" stroke-width="0.3"/><polygon points="56.1,154.43 56.86,155.68 58.32,155.72 57.62,157 58.32,158.28 56.86,158.31 56.1,159.56 55.34,158.31 53.88,158.28 54.58,157 53.88,155.72 55.34,155.68" fill="#0000ff" stroke="#0000ff" stroke-width="0.3"/><polygon points="60.22,154.83 60.98,156.08 62.44,156.11 61.74,157.4 62.44,158.68 60.98,158.71 60.22,159.96 59.46,158.71 58,158.68 58.7,157.4 58,156.11 59.46,156.08" fill="#0000ff" stroke="#0000ff" stroke-width="0.3"/><polygon points="64.34,155.03 65.1,156.28 66.56,156.32 65.86,157.6 66.56,158.88 65.1,158.92 64.34,160.16 63.58,158.92 62.12,158.88 62.82,157.6 62.12,156.32 63.58,156.28" fill="#0000ff" stroke="#0000ff" stroke-width="0.3"/><polygon points="68.46,155.24 69.22,156.49 70.68,156.52 69.98,157.8 70.68,159.08 69.22,159.12 68.46,160.37 67.7,159.12 66.24,159.08 66.94,157.8 66.24,156.52 67.7,156.49" fill="#0000ff" stroke="#0000ff" stroke-width="0.3"/><polygon points="72.58,155.44 73.34,156.69 74.8,156.72 74.1,158 74.8,159.29 73.34,159.32 72.58,160.57 71.82,159.32 70.36,159.29 71.06,158 70.36,156.72 71.82,156.69" fill="#0000ff" stroke="#0000ff" stroke-width="0.3"/><polygon points="76.7,155.64 77.46,156.89 78.92,156.92 78.22,158.21 78.92,159.49 77.46,159.52 76.7,160.77 75.94,159.52 74.48,159.49 75.18,158.21 74.48,156.92 75.94,156.89" fill="#0000ff" stroke="#0000ff" stroke-width="0.3"/><polygon points="80.82,155.72 81.58,156.97 83.04,157.01 82.34,158.29 83.04,159.57 81.58,159.61 80.82,160.85 80.06,159.61 78.6,159.57 79.3,158.29 78.6,157.01 80.06,156.97" fill="#0000ff" stroke="#0000ff" stroke-width="0.3"/><polygon points="84.94,155.81 85.7,157.06 87.16,157.09 86.46,158.37 87.16,159.65 85.7,159.69 84.94,160.94 84.18,159.69 82.72,159.65 83.42,158.37 82.72,157.09 84.18,157.06" fill="#0000ff" stroke="#0000ff" stroke-width="0.3"/><polygon points="89.06,155.89 89.82,157.14 91.28,157.17 90.58,158.45 91.28,159.74 89.82,159.77 89.06,161.02 88.3,159.77 86.84,159.74 87.54,158.45 86.84,157.17 88.3,157.14" fill="#0000ff" stroke="#0000ff" stroke-width="0.3"/><polygon points="93.18,155.97 93.94,157.22 95.4,157.25 94.7,158.54 95.4,159.82 93.94,159.85 93.18,161.1 92.42,159.85 90.96,159.82 91.66,158.54 90.96,157.25 92.42,157.22" fill="#0000ff" stroke="#0000ff" stroke-width="0.3"/><polygon points="97.3,156.05 98.06,157.3 99.52,157.34 98.82,158.62 99.52,159.9 98.06,159.93 97.3,161.18 96.54,159.93 95.08,159.9 95.78,158.62 95.08,157.34 96.54,157.3" fill="#0000ff" stroke="#0000ff" stroke-width="0.3"/><polygon points="101.42,156.06 102.18,157.31 103.64,157.34 102.94,158.62 103.64,159.91 102.18,159.94 101.42,161.19 100.66,159.94 99.2,159.91 99.9,158.62 99.2,157.34 100.66,157.31" fill="#0000ff" stroke="#0000ff" stroke-width="0.3"/><polygon points="105.54,156.07 106.3,157.31 107.76,157.35 107.06,158.63 107.76,159.91 106.3,159.95 105.54,161.2 104.78,159.95 103.32,159.91 104.02,158.63 103.32,157.35 104.78,157.31" fill="#0000ff" stroke="#0000ff" stroke-width="0.3"/><polygon points="109.66,156.07 110.42,157.32 111.88,157.35 111.18,158.64 111.88,159.92 110.42,159.95 109.66,161.2 108.9,159.95 107.44,159.92 108.14,158.64 107.44,157.35 108.9,157.32" fill="#0000ff" stroke="#0000ff" stroke-width="0.3"/><polygon points="113.78,156.08 114.54,157.33 116,157.36 115.3,158.64 116,159.92 114.54,159.96 113.78,161.21 113.02,159.96 111.56,159.92 112.26,158.64 111.56,157.36 113.02,157.33" fill="#0000ff" stroke="#0000ff" stroke-width="0.3"/><polygon points="117.9,156.08 118.66,157.33 120.12,157.37 119.42,158.65 120.12,159.93 118.66,159.96 117.9,161.21 117.14,159.96 115.68,159.93 116.38,158.65 115.68,157.37 117.14,157.33" fill="#0000ff" stroke="#0000ff" stroke-width="0.3"/><polygon points="122.02,156.09 122.78,157.34 124.24,157.37 123.54,158.65 124.24,159.94 122.78,159.97 122.02,161.22 121.26,159.97 119.8,159.94 120.5,158.65 119.8,157.37 121.26,157.34" fill="#0000ff" stroke="#0000ff" stroke-width="0.3"/><polygon points="126.14,156.09 126.9,157.34 128.36,157.38 127.66,158.66 128.36,159.94 126.9,159.98 126.14,161.22 125.38,159.98 123.92,159.94 124.62,158.66 123.92,157.38 125.38,157.34" fill="#0000ff" stroke="#0000ff" stroke-width="0.3"/><polygon points="130.26,156.1 131.02,157.35 132.48,157.38 131.78,158.67 132.48,159.95 131.02,159.98 130.26,161.23 129.5,159.98 128.04,159.95 128.74,158.67 128.04,157.38 129.5,157.35" fill="#0000ff" stroke="#0000ff" stroke-width="0.3"/><polygon points="134.38,156.11 135.14,157.36 136.6,157.39 135.9,158.67 136.6,159.95 135.14,159.99 134.38,161.24 133.62,159.99 132.16,159.95 132.86,158.67 132.16,157.39 133.62,157.36" fill="#0000ff" stroke="#0000ff" stroke-width="0.3"/><polygon points="138.5,156.11 139.26,157.36 140.72,157.4 140.02,158.68 140.72,159.96 139.26,159.99 138.5,161.24 137.74,159.99 136.28,159.96 136.98,158.68 136.28,157.4 137.74,157.36" fill="#0000ff" stroke="#0000ff" stroke-width="0.3"/><polygon points="142.62,156.12 143.38,157.37 144.84,157.4 144.14,158.68 144.84,159.97 143.38,160 142.62,161.25 141.86,160 140.4,159.97 141.1,158.68 140.4,157.4 141.86,157.37" fill="#0000ff" stroke="#0000ff" stroke-width="0.3"/><polygon points="146.74,156.12 147.5,157.37 148.96,157.41 148.26,158.69 148.96,159.97 147.5,160.01 146.74,161.25 145.98,160.01 144.52,159.97 145.22,158.69 144.52,157.41 145.98,157.37" fill="#0000ff" stroke="#0000ff" stroke-width="0.3"/><polygon points="150.86,156.13 151.62,157.38 153.08,157.41 152.38,158.7 153.08,159.98 151.62,160.01 150.86,161.26 150.1,160.01 148.64,159.98 149.34,158.7 148.64,157.41 150.1,157.38" fill="#0000ff" stroke="#0000ff" stroke-width="0.3"/><polygon points="154.98,156.14 155.74,157.38 157.2,157.42 156.5,158.7 157.2,159.98 155.74,160.02 154.98,161.27 154.22,160.02 152.76,159.98 153.46,158.7 152.76,157.42 154.22,157.38" fill="#0000ff" stroke="#0000ff" stroke-width="0.3"/><polygon points="159.1,156.14 159.86,157.39 161.32,157.42 160.62,158.71 161.32,159.99 159.86,160.02 159.1,161.27 158.34,160.02 156.88,159.99 157.58,158.71 156.88,157.42 158.34,157.39" fill="#0000ff" stroke="#0000ff" stroke-width="0.3"/><polygon points="163.22,156.15 163.98,157.4 165.44,157.43 164.74,158.71 165.44,160 163.98,160.03 163.22,161.28 162.46,160.03 161,160 161.7,158.71 161,157.43 162.46,157.4" fill="#0000ff" stroke="#0000ff" stroke-width="0.3"/><polygon points="167.34,156.15 168.1,157.4 169.56,157.44 168.86,158.72 169.56,160 168.1,160.04 167.34,161.28 166.58,160.04 165.12,160 165.82,158.72 165.12,157.44 166.58,157.4" fill="#0000ff" stroke="#0000ff" stroke-width="0.3"/><polygon points="171.46,156.16 172.22,157.41 173.68,157.44 172.98,158.72 173.68,160.01 172.22,160.04 171.46,161.29 170.7,160.04 169.24,160.01 169.94,158.72 169.24,157.44 170.7,157.41" fill="#0000ff" stroke="#0000ff" stroke-width="0.3"/><polygon points="175.58,156.17 176.34,157.41 177.8,157.45 177.1,158.73 177.8,160.01 176.34,160.05 175.58,161.3 174.82,160.05 173.36,160.01 174.06,158.73 173.36,157.45 174.82,157.41" fill="#0000ff" stroke="#0000ff" stroke-width="0.3"/><polygon points="179.7,156.17 180.46,157.42 181.92,157.45 181.22,158.74 181.92,160.02 180.46,160.05 179.7,161.3 178.94,160.05 177.48,160.02 178.18,158.74 177.48,157.45 178.94,157.42" fill="#0000ff" stroke="#0000ff" stroke-width="0.3"/><polygon points="183.82,156.18 184.58,157.43 186.04,157.46 185.34,158.74 186.04,160.03 184.58,160.06 183.82,161.31 183.06,160.06 181.6,160.03 182.3,158.74 181.6,157.46 183.06,157.43" fill="#0000ff" stroke="#0000ff" stroke-width="0.3"/><polygon points="187.94,156.18 188.7,157.43 190.16,157.47 189.46,158.75 190.16,160.03 188.7,160.06 187.94,161.31 187.18,160.06 185.72,160.03 186.42,158.75 185.72,157.47 187.18,157.43" fill="#0000ff" stroke="#0000ff" stroke-width="0.3"/><polygon points="192.06,156.19 192.82,157.44 194.28,157.47 193.58,158.75 194.28,160.04 192.82,160.07 192.06,161.32 191.3,160.07 189.84,160.04 190.54,158.75 189.84,157.47 191.3,157.44" fill="#0000ff" stroke="#0000ff" stroke-width="0.3"/><polygon points="196.18,156.2 196.94,157.44 198.4,157.48 197.7,158.76 198.4,160.04 196.94,160.08 196.18,161.33 195.42,160.08 193.96,160.04 194.66,158.76 193.96,157.48 195.42,157.44" fill="#0000ff" stroke="#0000ff" stroke-width="0.3"/><polygon points="200.3,156.2 201.06,157.45 202.52,157.48 201.82,158.77 202.52,160.05 201.06,160.08 200.3,161.33 199.54,160.08 198.08,160.05 198.78,158.77 198.08,157.48 199.54,157.45" fill="#0000ff" stroke="#0000ff" stroke-width="0.3"/><polygon points="204.42,156.21 205.18,157.46 206.64,157.49 205.94,158.77 206.64,160.05 205.18,160.09 204.42,161.34 203.66,160.09 202.2,160.05 202.9,158.77 202.2,157.49 203.66,157.46" fill="#0000ff" stroke="#0000ff" stroke-width="0.3"/><polygon points="208.54,156.21 209.3,157.46 210.76,157.5 210.06,158.78 210.76,160.06 209.3,160.09 208.54,161.34 207.78,160.09 206.32,160.06 207.02,158.78 206.32,157.5 207.78,157.46" fill="#0000ff" stroke="#0000ff" stroke-width="0.3"/><polygon points="212.66,156.22 213.42,157.47 214.88,157.5 214.18,158.78 214.88,160.07 213.42,160.1 212.66,161.35 211.9,160.1 210.44,160.07 211.14,158.78 210.44,157.5 211.9,157.47" fill="#0000ff" stroke="#0000ff" stroke-width="0.3"/><polygon points="216.78,156.22 217.54,157.47 219,157.51 218.3,158.79 219,160.07 217.54,160.11 216.78,161.35 216.02,160.11 214.56,160.07 215.26,158.79 214.56,157.51 216.02,157.47" fill="#0000ff" stroke="#0000ff" stroke-width="0.3"/><polygon points="220.9,156.23 221.66,157.48 223.12,157.51 222.42,158.8 223.12,160.08 221.66,160.11 220.9,161.36 220.14,160.11 218.68,160.08 219.38,158.8 218.68,157.51 220.14,157.48" fill="#0000ff" stroke="#0000ff" stroke-width="0.3"/><polygon points="225.02,156.24 225.78,157.49 227.24,157.52 226.54,158.8 227.24,160.08 225.78,160.12 225.02,161.37 224.26,160.12 222.8,160.08 223.5,158.8 222.8,157.52 224.26,157.49" fill="#0000ff" stroke="#0000ff" stroke-width="0.3"/><polygon points="229.14,156.24 229.9,157.49 231.36,157.53 230.66,158.81 231.36,160.09 229.9,160.12 229.14,161.37 228.38,160.12 226.92,160.09 227.62,158.81 226.92,157.53 228.38,157.49" fill="#0000ff" stroke="#0000ff" stroke-width="0.3"/><polygon points="233.26,156.25 234.02,157.5 235.48,157.53 234.78,158.81 235.48,160.1 234.02,160.13 233.26,161.38 232.5,160.13 231.04,160.1 231.74,158.81 231.04,157.53 232.5,157.5" fill="#0000ff" stroke="#0000ff" stroke-width="0.3"/><polygon points="237.38,156.25 238.14,157.5 239.6,157.54 238.9,158.82 239.6,160.1 238.14,160.14 237.38,161.38 236.62,160.14 235.16,160.1 235.86,158.82 235.16,157.54 236.62,157.5" fill="#0000ff" stroke="#0000ff" stroke-width="0.3"/><polygon points="241.5,156.26 242.26,157.51 243.72,157.54 243.02,158.83 243.72,160.11 242.26,160.14 241.5,161.39 240.74,160.14 239.28,160.11 239.98,158.83 239.28,157.54 240.74,157.51" fill="#0000ff" stroke="#0000ff" stroke-width="0.3"/></g>
<g><path d="M35.5,26.14 L39.62,57.9 L43.74,74.24 L47.86,89.66 L51.98,98.2 L56.1,108.7 L60.22,123.29 L64.34,144.82 L68.46,152.09 L72.58,155.82 L76.7,157.8 L80.82,158.21 L84.94,158.63 L89.06,159.04 L93.18,159.46 L97.3,159.87 L101.42,159.91 L105.54,159.95 L109.66,159.98 L113.78,160.02 L117.9,160.06 L122.02,160.1 L126.14,160.13 L130.26,160.17 L134.38,160.21 L138.5,160.24 L142.62,160.28 L146.74,160.32 L150.86,160.35 L154.98,160.39 L159.1,160.43 L163.22,160.46 L167.34,160.5 L171.46,160.54 L175.58,160.57 L179.7,160.61 L183.82,160.65 L187.94,160.69 L192.06,160.72 L196.18,160.76 L200.3,160.8 L204.42,160.83 L208.54,160.87 L212.66,160.91 L216.78,160.94 L220.9,160.98 L225.02,161.02 L229.14,161.05 L233.26,161.09 L237.38,161.13 L241.5,161.16" fill="none" stroke="#000000" stroke-width="1" stroke-linejoin="round"/><path d="M33.41,26.14L37.59,26.14M35.5,24.05L35.5,28.23" stroke="#000000" stroke-width="0.8"/><path d="M37.53,57.9L41.71,57.9M39.62,55.81L39.62,59.99" stroke="#000000" stroke-width="0.8"/><path d="M41.65,74.24L45.83,74.24M43.74,72.15L43.74,76.33" stroke="#000000" stroke-width="0.8"/><path d="M45.77,89.66L49.95,89.66M47.86,87.57L47.86,91.75" stroke="#000000" stroke-width="0.8"/><path d="M49.89,98.2L54.07,98.2M51.98,96.11L51.98,100.29" stroke="#000000" stroke-width="0.8"/><path d="M54.01,108.7L58.19,108.7M56.1,106.61L56.1,110.79" stroke="#000000" stroke-width="0.8"/><path d="M58.13,123.29L62.31,123.29M60.22,121.2L60.22,125.38" stroke="#000000" stroke-width="0.8"/><path d="M62.25,144.82L66.43,144.82M64.34,142.73L64.34,146.91" stroke="#000000" stroke-width="0.8"/><path d="M66.37,152.09L70.55,152.09M68.46,150L68.46,154.18" stroke="#000000" stroke-width="0.8"/><path d="M70.49,155.82L74.67,155.82M72.58,153.73L72.58,157.91" stroke="#000000" stroke-width="0.8"/><path d="M74.61,157.8L78.79,157.8M76.7,155.71L76.7,159.89" stroke="#000000" stroke-width="0.8"/><path d="M78.73,158.21L82.91,158.21M80.82,156.12L80.82,160.3" stroke="#000000" stroke-width="0.8"/><path d="M82.85,158.63L87.03,158.63M84.94,156.54L84.94,160.72" stroke="#000000" stroke-width="0.8"/><path d="M86.97,159.04L91.15,159.04M89.06,156.95L89.06,161.13" stroke="#000000" stroke-width="0.8"/><path d="M91.09,159.46L95.27,159.46M93.18,157.37L93.18,161.55" stroke="#000000" stroke-width="0.8"/><path d="M95.21,159.87L99.39,159.87M97.3,157.78L97.3,161.96" stroke="#000000" stroke-width="0.8"/><path d="M99.33,159.91L103.51,159.91M101.42,157.82L101.42,162" stroke="#000000" stroke-width="0.8"/><path d="M103.45,159.95L107.63,159.95M105.54,157.86L105.54,162.04" stroke="#000000" stroke-width="0.8"/><path d="M107.57,159.98L111.75,159.98M109.66,157.89L109.66,162.07" stroke="#000000" stroke-width="0.8"/><path d="M111.69,160.02L115.87,160.02M113.78,157.93L113.78,162.11" stroke="#000000" stroke-width="0.8"/><path d="M115.81,160.06L119.99,160.06M117.9,157.97L117.9,162.15" stroke="#000000" stroke-width="0.8"/><path d="M119.93,160.1L124.11,160.1M122.02,158.01L122.02,162.19" stroke="#000000" stroke-width="0.8"/><path d="M124.05,160.13L128.23,160.13M126.14,158.04L126.14,162.22" stroke="#000000" stroke-width="0.8"/><path d="M128.17,160.17L132.35,160.17M130.26,158.08L130.26,162.26" stroke="#000000" stroke-width="0.8"/><path d="M132.29,160.21L136.47,160.21M134.38,158.12L134.38,162.3" stroke="#000000" stroke-width="0.8"/><path d="M136.41,160.24L140.59,160.24M138.5,158.15L138.5,162.33" stroke="#000000" stroke-width="0.8"/><path d="M140.53,160.28L144.71,160.28M142.62,158.19L142.62,162.37" stroke="#000000" stroke-width="0.8"/><path d="M144.65,160.32L148.83,160.32M146.74,158.23L146.74,162.41" stroke="#000000" stroke-width="0.8"/><path d="M148.77,160.35L152.95,160.35M150.86,158.26L150.86,162.44" stroke="#000000" stroke-width="0.8"/><path d="M152.89,160.39L157.07,160.39M154.98,158.3L154.98,162.48" stroke="#000000" stroke-width="0.8"/><path d="M157.01,160.43L161.19,160.43M159.1,158.34L159.1,162.52" stroke="#000000" stroke-width="0.8"/><path d="M161.13,160.46L165.31,160.46M163.22,158.37L163.22,162.55" stroke="#000000" stroke-width="0.8"/><path d="M165.25,160.5L169.43,160.5M167.34,158.41L167.34,162.59" stroke="#000000" stroke-width="0.8"/><path d="M169.37,160.54L173.55,160.54M171.46,158.45L171.46,162.63" stroke="#000000" stroke-width="0.8"/><path d="M173.49,160.57L177.67,160.57M175.58,158.48L175.58,162.66" stroke="#000000" stroke-width="0.8"/><path d="M177.61,160.61L181.79,160.61M179.7,158.52L179.7,162.7" stroke="#000000" stroke-width="0.8"/><path d="M181.73,160.65L185.91,160.65M183.82,158.56L183.82,162.74" stroke="#000000" stroke-width="0.8"/><path d="M185.85,160.69L190.03,160.69M187.94,158.6L187.94,162.78" stroke="#000000" stroke-width="0.8"/><path d="M189.97,160.72L194.15,160.72M192.06,158.63L192.06,162.81" stroke="#000000" stroke-width="0.8"/><path d="M194.09,160.76L198.27,160.76M196.18,158.67L196.18,162.85" stroke="#000000" stroke-width="0.8"/><path d="M198.21,160.8L202.39,160.8M200.3,158.71L200.3,162.89" stroke="#000000" stroke-width="0.8"/><path d="M202.33,160.83L206.51,160.83M204.42,158.74L204.42,162.92" stroke="#000000" stroke-width="0.8"/><path d="M206.45,160.87L210.63,160.87M208.54,158.78L208.54,162.96" stroke="#000000" stroke-width="0.8"/><path d="M210.57,160.91L214.75,160.91M212.66,158.82L212.66,163" stroke="#000000" stroke-width="0.8"/><path d="M214.69,160.94L218.87,160.94M216.78,158.85L216.78,163.03" stroke="#000000" stroke-width="0.8"/><path d="M218.81,160.98L222.99,160.98M220.9,158.89L220.9,163.07" stroke="#000000" stroke-width="0.8"/><path d="M222.93,161.02L227.11,161.02M225.02,158.93L225.02,163.11" stroke="#000000" stroke-width="0.8"/><path d="M227.05,161.05L231.23,161.05M229.14,158.96L229.14,163.14" stroke="#000000" stroke-width="0.8"/><path d="M231.17,161.09L235.35,161.09M233.26,159L233.26,163.18" stroke="#000000" stroke-width="0.8"/><path d="M235.29,161.13L239.47,161.13M237.38,159.04L237.38,163.22" stroke="#000000" stroke-width="0.8"/><path d="M239.41,161.16L243.59,161.16M241.5,159.07L241.5,163.25" stroke="#000000" stroke-width="0.8"/></g>
<g><path d="M35.5,27.3 L39.62,98.75 L43.74,114.62 L47.86,117.89 L51.98,122.34 L56.1,126.24 L60.22,132.8 L64.34,138.55 L68.46,144.82 L72.58,148.64 L76.7,152.09 L80.82,155.05 L84.94,156.63 L89.06,158.21 L93.18,159.25 L97.3,160.3 L101.42,160.56 L105.54,160.82 L109.66,161.08 L113.78,161.34 L117.9,161.6 L122.02,161.62 L126.14,161.63 L130.26,161.65 L134.38,161.66 L138.5,161.68 L142.62,161.69 L146.74,161.71 L150.86,161.72 L154.98,161.74 L159.1,161.75 L163.22,161.77 L167.34,161.78 L171.46,161.79 L175.58,161.81 L179.7,161.82 L183.82,161.84 L187.94,161.85 L192.06,161.87 L196.18,161.88 L200.3,161.9 L204.42,161.91 L208.54,161.93 L212.66,161.94 L216.78,161.96 L220.9,161.97 L225.02,161.99 L229.14,162 L233.26,162.02 L237.38,162.03 L241.5,162.05" fill="none" stroke="#ff0000" stroke-width="1" stroke-linejoin="round"/><polygon points="33.6,25.02 37.97,27.3 33.6,29.58" fill="none" stroke="#ff0000" stroke-width="0.8"/><polygon points="37.72,96.47 42.09,98.75 37.72,101.03" fill="none" stroke="#ff0000" stroke-width="0.8"/><polygon points="41.84,112.34 46.21,114.62 41.84,116.9" fill="none" stroke="#ff0000" stroke-width="0.8"/><polygon points="45.96,115.61 50.33,117.89 45.96,120.17" fill="none" stroke="#ff0000" stroke-width="0.8"/><polygon points="50.08,120.06 54.45,122.34 50.08,124.62" fill="none" stroke="#ff0000" stroke-width="0.8"/><polygon points="54.2,123.96 58.57,126.24 54.2,128.52" fill="none" stroke="#ff0000" stroke-width="0.8"/><polygon points="58.32,130.52 62.69,132.8 58.32,135.08" fill="none" stroke="#ff0000" stroke-width="0.8"/><polygon points="62.44,136.27 66.81,138.55 62.44,140.83" fill="none" stroke="#ff0000" stroke-width="0.8"/><polygon points="66.56,142.54 70.93,144.82 66.56,147.1" fill="none" stroke="#ff0000" stroke-width="0.8"/><polygon points="70.68,146.36 75.05,148.64 70.68,150.92" fill="none" stroke="#ff0000" stroke-width="0.8"/><polygon points="74.8,149.81 79.17,152.09 74.8,154.37" fill="none" stroke="#ff0000" stroke-width="0.8"/><polygon points="78.92,152.77 83.29,155.05 78.92,157.33" fill="none" stroke="#ff0000" stroke-width="0.8"/><polygon points="83.04,154.35 87.41,156.63 83.04,158.91" fill="none" stroke="#ff0000" stroke-width="0.8"/><polygon points="87.16,155.93 91.53,158.21 87.16,160.49" fill="none" stroke="#ff0000" stroke-width="0.8"/><polygon points="91.28,156.97 95.65,159.25 91.28,161.53" fill="none" stroke="#ff0000" stroke-width="0.8"/><polygon points="95.4,158.02 99.77,160.3 95.4,162.58" fill="none" stroke="#ff0000" stroke-width="0.8"/><polygon points="99.52,158.28 103.89,160.56 99.52,162.84" fill="none" stroke="#ff0000" stroke-width="0.8"/><polygon points="103.64,158.54 108.01,160.82 103.64,163.1" fill="none" stroke="#ff0000" stroke-width="0.8"/><polygon points="107.76,158.8 112.13,161.08 107.76,163.36" fill="none" stroke="#ff0000" stroke-width="0.8"/><polygon points="111.88,159.06 116.25,161.34 111.88,163.62" fill="none" stroke="#ff0000" stroke-width="0.8"/><polygon points="116,159.32 120.37,161.6 116,163.88" fill="none" stroke="#ff0000" stroke-width="0.8"/><polygon points="120.12,159.34 124.49,161.62 120.12,163.9" fill="none" stroke="#ff0000" stroke-width="0.8"/><polygon points="124.24,159.35 128.61,161.63 124.24,163.91" fill="none" stroke="#ff0000" stroke-width="0.8"/><polygon points="128.36,159.37 132.73,161.65 128.36,163.93" fill="none" stroke="#ff0000" stroke-width="0.8"/><polygon points="132.48,159.38 136.85,161.66 132.48,163.94" fill="none" stroke="#ff0000" stroke-width="0.8"/><polygon points="136.6,159.4 140.97,161.68 136.6,163.96" fill="none" stroke="#ff0000" stroke-width="0.8"/><polygon points="140.72,159.41 145.09,161.69 140.72,163.97" fill="none" stroke="#ff0000" stroke-width="0.8"/><polygon points="144.84,159.43 149.21,161.71 144.84,163.99" fill="none" stroke="#ff0000" stroke-width="0.8"/><polygon points="148.96,159.44 153.33,161.72 148.96,164" fill="none" stroke="#ff0000" stroke-width="0.8"/><polygon points="153.08,159.46 157.45,161.74 153.08,164.02" fill="none" stroke="#ff0000" stroke-width="0.8"/><polygon points="157.2,159.47 161.57,161.75 157.2,164.03" fill="none" stroke="#ff0000" stroke-width="0.8"/><polygon points="161.32,159.49 165.69,161.77 161.32,164.05" fill="none" stroke="#ff0000" stroke-width="0.8"/><polygon points="165.44,159.5 169.81,161.78 165.44,164.06" fill="none" stroke="#ff0000" stroke-width="0.8"/><polygon points="169.56,159.51 173.93,161.79 169.56,164.07" fill="none" stroke="#ff0000" stroke-width="0.8"/><polygon points="173.68,159.53 178.05,161.81 173.68,164.09" fill="none" stroke="#ff0000" stroke-width="0.8"/><polygon points="177.8,159.54 182.17,161.82 177.8,164.1" fill="none" stroke="#ff0000" stroke-width="0.8"/><polygon points="181.92,159.56 186.29,161.84 181.92,164.12" fill="none" stroke="#ff0000" stroke-width="0.8"/><polygon points="186.04,159.57 190.41,161.85 186.04,164.13" fill="none" stroke="#ff0000" stroke-width="0.8"/><polygon points="190.16,159.59 194.53,161.87 190.16,164.15" fill="none" stroke="#ff0000" stroke-width="0.8"/><polygon points="194.28,159.6 198.65,161.88 194.28,164.16" fill="none" stroke="#ff0000" stroke-width="0.8"/><polygon points="198.4,159.62 202.77,161.9 198.4,164.18" fill="none" stroke="#ff0000" stroke-width="0.8"/><polygon points="202.52,159.63 206.89,161.91 202.52,164.19" fill="none" stroke="#ff0000" stroke-width="0.8"/><polygon points="206.64,159.65 211.01,161.93 206.64,164.21" fill="none" stroke="#ff0000" stroke-width="0.8"/><polygon points="210.76,159.66 215.13,161.94 210.76,164.22" fill="none" stroke="#ff0000" stroke-width="0.8"/><polygon points="214.88,159.68 219.25,161.96 214.88,164.24" fill="none" stroke="#ff0000" stroke-width="0.8"/><polygon points="219,159.69 223.37,161.97 219,164.25" fill="none" stroke="#ff0000" stroke-width="0.8"/><polygon points="223.12,159.71 227.49,161.99 223.12,164.27" fill="none" stroke="#ff0000" stroke-width="0.8"/><polygon points="227.24,159.72 231.61,162 227.24,164.28" fill="none" stroke="#ff0000" stroke-width="0.8"/><polygon points="231.36,159.74 235.73,162.02 231.36,164.3" fill="none" stroke="#ff0000" stroke-width="0.8"/><polygon points="235.48,159.75 239.85,162.03 235.48,164.31" fill="none" stroke="#ff0000" stroke-width="0.8"/><polygon points="239.6,159.77 243.97,162.05 239.6,164.33" fill="none" stroke="#ff0000" stroke-width="0.8"/></g>
<rect x="35.5" y="3.3" width="206" height="160.1" fill="none" class="ax"/>
<line x1="35.5" y1="163.4" x2="35.5" y2="161.4" class="tk"/>
<line x1="35.5" y1="3.3" x2="35.5" y2="5.3" class="tk"/>
<text x="35.5" y="172.8" class="tl" text-anchor="middle">0</text>
<line x1="56.1" y1="163.4" x2="56.1" y2="161.4" class="tk"/>
<line x1="56.1" y1="3.3" x2="56.1" y2="5.3" class="tk"/>
<text x="56.1" y="172.8" class="tl" text-anchor="middle">50</text>
<line x1="76.7" y1="163.4" x2="76.7" y2="161.4" class="tk"/>
<line x1="76.7" y1="3.3" x2="76.7" y2="5.3" class="tk"/>
<text x="76.7" y="172.8" class="tl" text-anchor="middle">100</text>
<line x1="97.3" y1="163.4" x2="97.3" y2="161.4" class="tk"/>
<line x1="97.3" y1="3.3" x2="97.3" y2="5.3" class="tk"/>
<text x="97.3" y="172.8" class="tl" text-anchor="middle">150</text>
<line x1="117.9" y1="163.4" x2="117.9" y2="161.4" class="tk"/>
<line x1="117.9" y1="3.3" x2="117.9" y2="5.3" class="tk"/>
<text x="117.9" y="172.8" class="tl" text-anchor="middle">200</text>
<line x1="138.5" y1="163.4" x2="138.5" y2="161.4" class="tk"/>
<line x1="138.5" y1="3.3" x2="138.5" y2="5.3" class="tk"/>
<text x="138.5" y="172.8" class="tl" text-anchor="middle">250</text>
<line x1="159.1" y1="163.4" x2="159.1" y2="161.4" class="tk"/>
<line x1="159.1" y1="3.3" x2="159.1" y2="5.3" class="tk"/>
<text x="159.1" y="172.8" class="tl" text-anchor="middle">300</text>
<line x1="179.7" y1="163.4" x2="179.7" y2="161.4" class="tk"/>
<line x1="179.7" y1="3.3" x2="179.7" y2="5.3" class="tk"/>
<text x="179.7" y="172.8" class="tl" text-anchor="middle">350</text>
<line x1="200.3" y1="163.4" x2="200.3" y2="161.4" class="tk"/>
<line x1="200.3" y1="3.3" x2="200.3" y2="5.3" class="tk"/>
<text x="200.3" y="172.8" class="tl" text-anchor="middle">400</text>
<line x1="220.9" y1="163.4" x2="220.9" y2="161.4" class="tk"/>
<line x1="220.9" y1="3.3" x2="220.9" y2="5.3" class="tk"/>
<text x="220.9" y="172.8" class="tl" text-anchor="middle">450</text>
<line x1="241.5" y1="163.4" x2="241.5" y2="161.4" class="tk"/>
<line x1="241.5" y1="3.3" x2="241.5" y2="5.3" class="tk"/>
<text x="241.5" y="172.8" class="tl" text-anchor="middle">500</text>
<line x1="35.5" y1="163.4" x2="37.5" y2="163.4" class="tk"/>
<line x1="241.5" y1="163.4" x2="239.5" y2="163.4" class="tk"/>
<line x1="35.5" y1="57.9" x2="37.5" y2="57.9" class="tk"/>
<line x1="241.5" y1="57.9" x2="239.5" y2="57.9" class="tk"/>
<line x1="35.5" y1="131.64" x2="36.5" y2="131.64" class="tk"/>
<line x1="241.5" y1="131.64" x2="240.5" y2="131.64" class="tk"/>
<line x1="35.5" y1="113.06" x2="36.5" y2="113.06" class="tk"/>
<line x1="241.5" y1="113.06" x2="240.5" y2="113.06" class="tk"/>
<line x1="35.5" y1="99.88" x2="36.5" y2="99.88" class="tk"/>
<line x1="241.5" y1="99.88" x2="240.5" y2="99.88" class="tk"/>
<line x1="35.5" y1="89.66" x2="36.5" y2="89.66" class="tk"/>
<line x1="241.5" y1="89.66" x2="240.5" y2="89.66" class="tk"/>
<line x1="35.5" y1="81.31" x2="36.5" y2="81.31" class="tk"/>
<line x1="241.5" y1="81.31" x2="240.5" y2="81.31" class="tk"/>
<line x1="35.5" y1="74.24" x2="36.5" y2="74.24" class="tk"/>
<line x1="241.5" y1="74.24" x2="240.5" y2="74.24" class="tk"/>
<line x1="35.5" y1="68.12" x2="36.5" y2="68.12" class="tk"/>
<line x1="241.5" y1="68.12" x2="240.5" y2="68.12" class="tk"/>
<line x1="35.5" y1="62.73" x2="36.5" y2="62.73" class="tk"/>
<line x1="241.5" y1="62.73" x2="240.5" y2="62.73" class="tk"/>
<line x1="35.5" y1="26.14" x2="36.5" y2="26.14" class="tk"/>
<line x1="241.5" y1="26.14" x2="240.5" y2="26.14" class="tk"/>
<line x1="35.5" y1="7.56" x2="36.5" y2="7.56" class="tk"/>
<line x1="241.5" y1="7.56" x2="240.5" y2="7.56" class="tk"/>
<text x="23.1" y="166.9" class="tl" font-size="6.8">10<tspan dy="-2.7" font-size="4.9">2</tspan></text>
<text x="23.1" y="61.2" class="tl" font-size="6.8">10<tspan dy="-3.4" font-size="4.9">3</tspan></text>
<text x="139" y="185" class="al" text-anchor="middle">iteration times</text>
<text transform="translate(19.3,82) rotate(-90)" class="al" text-anchor="middle">error values</text>
<rect x="194.3" y="8.6" width="42.3" height="62.8" fill="#fff" stroke="#999" stroke-width="0.6"/>
<line x1="195.9" y1="13.1" x2="214.6" y2="13.1" stroke="#ff00ff" stroke-width="1"/>
<rect x="203.55" y="11.4" width="3.4" height="3.4" fill="none" stroke="#ff00ff" stroke-width="0.95"/>
<text x="216.2" y="15.2" class="lg">BWO</text>
<line x1="195.9" y1="20.8" x2="214.6" y2="20.8" stroke="#0000ff" stroke-width="1"/>
<circle cx="205.25" cy="20.8" r="1.78" fill="none" stroke="#0000ff" stroke-width="0.95"/>
<text x="216.2" y="22.9" class="lg">HHO</text>
<line x1="195.9" y1="28.5" x2="214.6" y2="28.5" stroke="#000000" stroke-width="1"/>
<polygon points="205.25,25.78 205.93,27.56 207.84,27.66 206.35,28.86 206.85,30.7 205.25,29.66 203.65,30.7 204.15,28.86 202.66,27.66 204.57,27.56" fill="#000000" stroke="#000000" stroke-width="0.3"/>
<text x="216.2" y="30.6" class="lg">DBO</text>
<line x1="195.9" y1="36.2" x2="214.6" y2="36.2" stroke="#00ffff" stroke-width="1"/>
<polygon points="205.25,33.99 206.95,36.2 205.25,38.41 203.55,36.2" fill="none" stroke="#00ffff" stroke-width="0.95"/>
<text x="216.2" y="38.3" class="lg">GJO</text>
<line x1="195.9" y1="43.9" x2="214.6" y2="43.9" stroke="#00ff00" stroke-width="1"/>
<path d="M203.89,42.54L206.61,45.26M203.89,45.26L206.61,42.54" stroke="#00ff00" stroke-width="1.3"/>
<text x="216.2" y="46" class="lg">RSO</text>
<line x1="195.9" y1="51.6" x2="214.6" y2="51.6" stroke="#0000ff" stroke-width="1"/>
<polygon points="205.25,49.3 205.93,50.42 207.24,50.45 206.61,51.6 207.24,52.75 205.93,52.78 205.25,53.9 204.57,52.78 203.26,52.75 203.89,51.6 203.26,50.45 204.57,50.42" fill="#0000ff" stroke="#0000ff" stroke-width="0.3"/>
<text x="216.2" y="53.7" class="lg">WOA</text>
<line x1="195.9" y1="59.3" x2="214.6" y2="59.3" stroke="#000000" stroke-width="1"/>
<path d="M203.38,59.3L207.12,59.3M205.25,57.43L205.25,61.17" stroke="#000000" stroke-width="0.8"/>
<text x="216.2" y="61.4" class="lg">SO</text>
<line x1="195.9" y1="67" x2="214.6" y2="67" stroke="#ff0000" stroke-width="1"/>
<polygon points="203.55,64.96 207.46,67 203.55,69.04" fill="none" stroke="#ff0000" stroke-width="0.8"/>
<text x="216.2" y="69.1" class="lg">W-SO</text>
<line x1="406.71" y1="3.3" x2="406.71" y2="163.6" class="g"/>
<line x1="427.32" y1="3.3" x2="427.32" y2="163.6" class="g"/>
<line x1="447.93" y1="3.3" x2="447.93" y2="163.6" class="g"/>
<line x1="468.54" y1="3.3" x2="468.54" y2="163.6" class="g"/>
<line x1="489.15" y1="3.3" x2="489.15" y2="163.6" class="g"/>
<line x1="509.76" y1="3.3" x2="509.76" y2="163.6" class="g"/>
<line x1="530.37" y1="3.3" x2="530.37" y2="163.6" class="g"/>
<line x1="550.98" y1="3.3" x2="550.98" y2="163.6" class="g"/>
<line x1="571.59" y1="3.3" x2="571.59" y2="163.6" class="g"/>
<line x1="386.1" y1="157.17" x2="592.2" y2="157.17" class="gm"/>
<line x1="386.1" y1="150.84" x2="592.2" y2="150.84" class="gm"/>
<line x1="386.1" y1="144.7" x2="592.2" y2="144.7" class="g"/>
<line x1="386.1" y1="138.73" x2="592.2" y2="138.73" class="gm"/>
<line x1="386.1" y1="132.92" x2="592.2" y2="132.92" class="gm"/>
<line x1="386.1" y1="127.27" x2="592.2" y2="127.27" class="gm"/>
<line x1="386.1" y1="121.77" x2="592.2" y2="121.77" class="gm"/>
<line x1="386.1" y1="116.4" x2="592.2" y2="116.4" class="g"/>
<line x1="386.1" y1="111.17" x2="592.2" y2="111.17" class="gm"/>
<line x1="386.1" y1="106.06" x2="592.2" y2="106.06" class="gm"/>
<line x1="386.1" y1="101.07" x2="592.2" y2="101.07" class="gm"/>
<line x1="386.1" y1="96.2" x2="592.2" y2="96.2" class="gm"/>
<line x1="386.1" y1="91.44" x2="592.2" y2="91.44" class="g"/>
<line x1="386.1" y1="86.78" x2="592.2" y2="86.78" class="gm"/>
<line x1="386.1" y1="82.22" x2="592.2" y2="82.22" class="gm"/>
<line x1="386.1" y1="77.76" x2="592.2" y2="77.76" class="gm"/>
<line x1="386.1" y1="73.39" x2="592.2" y2="73.39" class="gm"/>
<line x1="386.1" y1="69.11" x2="592.2" y2="69.11" class="g"/>
<line x1="386.1" y1="64.91" x2="592.2" y2="64.91" class="gm"/>
<line x1="386.1" y1="60.8" x2="592.2" y2="60.8" class="gm"/>
<line x1="386.1" y1="56.76" x2="592.2" y2="56.76" class="gm"/>
<line x1="386.1" y1="52.8" x2="592.2" y2="52.8" class="gm"/>
<line x1="386.1" y1="48.91" x2="592.2" y2="48.91" class="g"/>
<line x1="386.1" y1="45.09" x2="592.2" y2="45.09" class="gm"/>
<line x1="386.1" y1="41.34" x2="592.2" y2="41.34" class="gm"/>
<line x1="386.1" y1="37.65" x2="592.2" y2="37.65" class="gm"/>
<line x1="386.1" y1="34.03" x2="592.2" y2="34.03" class="gm"/>
<line x1="386.1" y1="30.47" x2="592.2" y2="30.47" class="g"/>
<line x1="386.1" y1="26.96" x2="592.2" y2="26.96" class="gm"/>
<line x1="386.1" y1="23.52" x2="592.2" y2="23.52" class="gm"/>
<line x1="386.1" y1="20.13" x2="592.2" y2="20.13" class="gm"/>
<line x1="386.1" y1="16.79" x2="592.2" y2="16.79" class="gm"/>
<line x1="386.1" y1="13.5" x2="592.2" y2="13.5" class="g"/>
<line x1="386.1" y1="10.27" x2="592.2" y2="10.27" class="gm"/>
<line x1="386.1" y1="7.08" x2="592.2" y2="7.08" class="gm"/>
<line x1="386.1" y1="3.94" x2="592.2" y2="3.94" class="gm"/>
<g><path d="M386.1,13.5 L390.22,54.77 L394.34,54.77 L398.47,54.77 L402.59,54.77 L406.71,54.77 L410.83,54.77 L414.95,54.77 L419.08,54.77 L423.2,62.43 L427.32,62.43 L431.44,62.43 L435.56,93.81 L439.69,93.81 L443.81,93.81 L447.93,93.81 L452.05,93.81 L456.17,93.81 L460.3,93.81 L464.42,93.81 L468.54,93.81 L472.66,93.81 L476.78,93.81 L480.91,93.81 L485.03,93.81 L489.15,93.81 L493.27,93.81 L497.39,93.81 L501.52,93.81 L505.64,93.81 L509.76,93.81 L513.88,93.81 L518,93.81 L522.13,93.81 L526.25,93.81 L530.37,93.81 L534.49,93.81 L538.61,93.81 L542.74,93.81 L546.86,93.81 L550.98,93.81 L555.1,93.81 L559.22,93.81 L563.35,93.81 L567.47,93.81 L571.59,93.81 L575.71,93.81 L579.83,93.81 L583.96,93.81 L588.08,93.81 L592.2,93.81" fill="none" stroke="#ff00ff" stroke-width="1" stroke-linejoin="round"/><rect x="384.2" y="11.6" width="3.8" height="3.8" fill="none" stroke="#ff00ff" stroke-width="0.95"/><rect x="388.32" y="52.87" width="3.8" height="3.8" fill="none" stroke="#ff00ff" stroke-width="0.95"/><rect x="392.44" y="52.87" width="3.8" height="3.8" fill="none" stroke="#ff00ff" stroke-width="0.95"/><rect x="396.57" y="52.87" width="3.8" height="3.8" fill="none" stroke="#ff00ff" stroke-width="0.95"/><rect x="400.69" y="52.87" width="3.8" height="3.8" fill="none" stroke="#ff00ff" stroke-width="0.95"/><rect x="404.81" y="52.87" width="3.8" height="3.8" fill="none" stroke="#ff00ff" stroke-width="0.95"/><rect x="408.93" y="52.87" width="3.8" height="3.8" fill="none" stroke="#ff00ff" stroke-width="0.95"/><rect x="413.05" y="52.87" width="3.8" height="3.8" fill="none" stroke="#ff00ff" stroke-width="0.95"/><rect x="417.18" y="52.87" width="3.8" height="3.8" fill="none" stroke="#ff00ff" stroke-width="0.95"/><rect x="421.3" y="60.53" width="3.8" height="3.8" fill="none" stroke="#ff00ff" stroke-width="0.95"/><rect x="425.42" y="60.53" width="3.8" height="3.8" fill="none" stroke="#ff00ff" stroke-width="0.95"/><rect x="429.54" y="60.53" width="3.8" height="3.8" fill="none" stroke="#ff00ff" stroke-width="0.95"/><rect x="433.66" y="91.91" width="3.8" height="3.8" fill="none" stroke="#ff00ff" stroke-width="0.95"/><rect x="437.79" y="91.91" width="3.8" height="3.8" fill="none" stroke="#ff00ff" stroke-width="0.95"/><rect x="441.91" y="91.91" width="3.8" height="3.8" fill="none" stroke="#ff00ff" stroke-width="0.95"/><rect x="446.03" y="91.91" width="3.8" height="3.8" fill="none" stroke="#ff00ff" stroke-width="0.95"/><rect x="450.15" y="91.91" width="3.8" height="3.8" fill="none" stroke="#ff00ff" stroke-width="0.95"/><rect x="454.27" y="91.91" width="3.8" height="3.8" fill="none" stroke="#ff00ff" stroke-width="0.95"/><rect x="458.4" y="91.91" width="3.8" height="3.8" fill="none" stroke="#ff00ff" stroke-width="0.95"/><rect x="462.52" y="91.91" width="3.8" height="3.8" fill="none" stroke="#ff00ff" stroke-width="0.95"/><rect x="466.64" y="91.91" width="3.8" height="3.8" fill="none" stroke="#ff00ff" stroke-width="0.95"/><rect x="470.76" y="91.91" width="3.8" height="3.8" fill="none" stroke="#ff00ff" stroke-width="0.95"/><rect x="474.88" y="91.91" width="3.8" height="3.8" fill="none" stroke="#ff00ff" stroke-width="0.95"/><rect x="479.01" y="91.91" width="3.8" height="3.8" fill="none" stroke="#ff00ff" stroke-width="0.95"/><rect x="483.13" y="91.91" width="3.8" height="3.8" fill="none" stroke="#ff00ff" stroke-width="0.95"/><rect x="487.25" y="91.91" width="3.8" height="3.8" fill="none" stroke="#ff00ff" stroke-width="0.95"/><rect x="491.37" y="91.91" width="3.8" height="3.8" fill="none" stroke="#ff00ff" stroke-width="0.95"/><rect x="495.49" y="91.91" width="3.8" height="3.8" fill="none" stroke="#ff00ff" stroke-width="0.95"/><rect x="499.62" y="91.91" width="3.8" height="3.8" fill="none" stroke="#ff00ff" stroke-width="0.95"/><rect x="503.74" y="91.91" width="3.8" height="3.8" fill="none" stroke="#ff00ff" stroke-width="0.95"/><rect x="507.86" y="91.91" width="3.8" height="3.8" fill="none" stroke="#ff00ff" stroke-width="0.95"/><rect x="511.98" y="91.91" width="3.8" height="3.8" fill="none" stroke="#ff00ff" stroke-width="0.95"/><rect x="516.1" y="91.91" width="3.8" height="3.8" fill="none" stroke="#ff00ff" stroke-width="0.95"/><rect x="520.23" y="91.91" width="3.8" height="3.8" fill="none" stroke="#ff00ff" stroke-width="0.95"/><rect x="524.35" y="91.91" width="3.8" height="3.8" fill="none" stroke="#ff00ff" stroke-width="0.95"/><rect x="528.47" y="91.91" width="3.8" height="3.8" fill="none" stroke="#ff00ff" stroke-width="0.95"/><rect x="532.59" y="91.91" width="3.8" height="3.8" fill="none" stroke="#ff00ff" stroke-width="0.95"/><rect x="536.71" y="91.91" width="3.8" height="3.8" fill="none" stroke="#ff00ff" stroke-width="0.95"/><rect x="540.84" y="91.91" width="3.8" height="3.8" fill="none" stroke="#ff00ff" stroke-width="0.95"/><rect x="544.96" y="91.91" width="3.8" height="3.8" fill="none" stroke="#ff00ff" stroke-width="0.95"/><rect x="549.08" y="91.91" width="3.8" height="3.8" fill="none" stroke="#ff00ff" stroke-width="0.95"/><rect x="553.2" y="91.91" width="3.8" height="3.8" fill="none" stroke="#ff00ff" stroke-width="0.95"/><rect x="557.32" y="91.91" width="3.8" height="3.8" fill="none" stroke="#ff00ff" stroke-width="0.95"/><rect x="561.45" y="91.91" width="3.8" height="3.8" fill="none" stroke="#ff00ff" stroke-width="0.95"/><rect x="565.57" y="91.91" width="3.8" height="3.8" fill="none" stroke="#ff00ff" stroke-width="0.95"/><rect x="569.69" y="91.91" width="3.8" height="3.8" fill="none" stroke="#ff00ff" stroke-width="0.95"/><rect x="573.81" y="91.91" width="3.8" height="3.8" fill="none" stroke="#ff00ff" stroke-width="0.95"/><rect x="577.93" y="91.91" width="3.8" height="3.8" fill="none" stroke="#ff00ff" stroke-width="0.95"/><rect x="582.06" y="91.91" width="3.8" height="3.8" fill="none" stroke="#ff00ff" stroke-width="0.95"/><rect x="586.18" y="91.91" width="3.8" height="3.8" fill="none" stroke="#ff00ff" stroke-width="0.95"/><rect x="590.3" y="91.91" width="3.8" height="3.8" fill="none" stroke="#ff00ff" stroke-width="0.95"/></g>
<g><path d="M386.1,71.67 L390.22,122.86 L394.34,125.6 L398.47,132.92 L402.59,134.65 L406.71,135.23 L410.83,135.81 L414.95,136.1 L419.08,136.39 L423.2,136.68 L427.32,136.97 L431.44,136.98 L435.56,136.98 L439.69,136.99 L443.81,136.99 L447.93,137 L452.05,137.01 L456.17,137.01 L460.3,137.02 L464.42,137.02 L468.54,137.03 L472.66,137.04 L476.78,137.04 L480.91,137.05 L485.03,137.05 L489.15,137.06 L493.27,137.06 L497.39,137.07 L501.52,137.08 L505.64,137.08 L509.76,137.09 L513.88,137.09 L518,137.1 L522.13,137.11 L526.25,137.11 L530.37,137.12 L534.49,137.12 L538.61,137.13 L542.74,137.13 L546.86,137.14 L550.98,137.15 L555.1,137.15 L559.22,137.16 L563.35,137.16 L567.47,137.17 L571.59,137.18 L575.71,137.18 L579.83,137.19 L583.96,137.19 L588.08,137.2 L592.2,137.2" fill="none" stroke="#0000ff" stroke-width="1" stroke-linejoin="round"/><circle cx="386.1" cy="71.67" r="1.99" fill="none" stroke="#0000ff" stroke-width="0.95"/><circle cx="390.22" cy="122.86" r="1.99" fill="none" stroke="#0000ff" stroke-width="0.95"/><circle cx="394.34" cy="125.6" r="1.99" fill="none" stroke="#0000ff" stroke-width="0.95"/><circle cx="398.47" cy="132.92" r="1.99" fill="none" stroke="#0000ff" stroke-width="0.95"/><circle cx="402.59" cy="134.65" r="1.99" fill="none" stroke="#0000ff" stroke-width="0.95"/><circle cx="406.71" cy="135.23" r="1.99" fill="none" stroke="#0000ff" stroke-width="0.95"/><circle cx="410.83" cy="135.81" r="1.99" fill="none" stroke="#0000ff" stroke-width="0.95"/><circle cx="414.95" cy="136.1" r="1.99" fill="none" stroke="#0000ff" stroke-width="0.95"/><circle cx="419.08" cy="136.39" r="1.99" fill="none" stroke="#0000ff" stroke-width="0.95"/><circle cx="423.2" cy="136.68" r="1.99" fill="none" stroke="#0000ff" stroke-width="0.95"/><circle cx="427.32" cy="136.97" r="1.99" fill="none" stroke="#0000ff" stroke-width="0.95"/><circle cx="431.44" cy="136.98" r="1.99" fill="none" stroke="#0000ff" stroke-width="0.95"/><circle cx="435.56" cy="136.98" r="1.99" fill="none" stroke="#0000ff" stroke-width="0.95"/><circle cx="439.69" cy="136.99" r="1.99" fill="none" stroke="#0000ff" stroke-width="0.95"/><circle cx="443.81" cy="136.99" r="1.99" fill="none" stroke="#0000ff" stroke-width="0.95"/><circle cx="447.93" cy="137" r="1.99" fill="none" stroke="#0000ff" stroke-width="0.95"/><circle cx="452.05" cy="137.01" r="1.99" fill="none" stroke="#0000ff" stroke-width="0.95"/><circle cx="456.17" cy="137.01" r="1.99" fill="none" stroke="#0000ff" stroke-width="0.95"/><circle cx="460.3" cy="137.02" r="1.99" fill="none" stroke="#0000ff" stroke-width="0.95"/><circle cx="464.42" cy="137.02" r="1.99" fill="none" stroke="#0000ff" stroke-width="0.95"/><circle cx="468.54" cy="137.03" r="1.99" fill="none" stroke="#0000ff" stroke-width="0.95"/><circle cx="472.66" cy="137.04" r="1.99" fill="none" stroke="#0000ff" stroke-width="0.95"/><circle cx="476.78" cy="137.04" r="1.99" fill="none" stroke="#0000ff" stroke-width="0.95"/><circle cx="480.91" cy="137.05" r="1.99" fill="none" stroke="#0000ff" stroke-width="0.95"/><circle cx="485.03" cy="137.05" r="1.99" fill="none" stroke="#0000ff" stroke-width="0.95"/><circle cx="489.15" cy="137.06" r="1.99" fill="none" stroke="#0000ff" stroke-width="0.95"/><circle cx="493.27" cy="137.06" r="1.99" fill="none" stroke="#0000ff" stroke-width="0.95"/><circle cx="497.39" cy="137.07" r="1.99" fill="none" stroke="#0000ff" stroke-width="0.95"/><circle cx="501.52" cy="137.08" r="1.99" fill="none" stroke="#0000ff" stroke-width="0.95"/><circle cx="505.64" cy="137.08" r="1.99" fill="none" stroke="#0000ff" stroke-width="0.95"/><circle cx="509.76" cy="137.09" r="1.99" fill="none" stroke="#0000ff" stroke-width="0.95"/><circle cx="513.88" cy="137.09" r="1.99" fill="none" stroke="#0000ff" stroke-width="0.95"/><circle cx="518" cy="137.1" r="1.99" fill="none" stroke="#0000ff" stroke-width="0.95"/><circle cx="522.13" cy="137.11" r="1.99" fill="none" stroke="#0000ff" stroke-width="0.95"/><circle cx="526.25" cy="137.11" r="1.99" fill="none" stroke="#0000ff" stroke-width="0.95"/><circle cx="530.37" cy="137.12" r="1.99" fill="none" stroke="#0000ff" stroke-width="0.95"/><circle cx="534.49" cy="137.12" r="1.99" fill="none" stroke="#0000ff" stroke-width="0.95"/><circle cx="538.61" cy="137.13" r="1.99" fill="none" stroke="#0000ff" stroke-width="0.95"/><circle cx="542.74" cy="137.13" r="1.99" fill="none" stroke="#0000ff" stroke-width="0.95"/><circle cx="546.86" cy="137.14" r="1.99" fill="none" stroke="#0000ff" stroke-width="0.95"/><circle cx="550.98" cy="137.15" r="1.99" fill="none" stroke="#0000ff" stroke-width="0.95"/><circle cx="555.1" cy="137.15" r="1.99" fill="none" stroke="#0000ff" stroke-width="0.95"/><circle cx="559.22" cy="137.16" r="1.99" fill="none" stroke="#0000ff" stroke-width="0.95"/><circle cx="563.35" cy="137.16" r="1.99" fill="none" stroke="#0000ff" stroke-width="0.95"/><circle cx="567.47" cy="137.17" r="1.99" fill="none" stroke="#0000ff" stroke-width="0.95"/><circle cx="571.59" cy="137.18" r="1.99" fill="none" stroke="#0000ff" stroke-width="0.95"/><circle cx="575.71" cy="137.18" r="1.99" fill="none" stroke="#0000ff" stroke-width="0.95"/><circle cx="579.83" cy="137.19" r="1.99" fill="none" stroke="#0000ff" stroke-width="0.95"/><circle cx="583.96" cy="137.19" r="1.99" fill="none" stroke="#0000ff" stroke-width="0.95"/><circle cx="588.08" cy="137.2" r="1.99" fill="none" stroke="#0000ff" stroke-width="0.95"/><circle cx="592.2" cy="137.2" r="1.99" fill="none" stroke="#0000ff" stroke-width="0.95"/></g>
<g><path d="M386.1,3.63 L390.22,117.46 L394.34,127.27 L398.47,134.07 L402.59,134.65 L406.71,137.56 L410.83,141.1 L414.95,144.7 L419.08,146.52 L423.2,148.98 L427.32,150.84 L431.44,154.62 L435.56,155.25 L439.69,155.68 L443.81,156.1 L447.93,156.53 L452.05,156.53 L456.17,156.53 L460.3,156.53 L464.42,156.53 L468.54,156.53 L472.66,156.53 L476.78,156.53 L480.91,156.53 L485.03,156.53 L489.15,156.53 L493.27,156.53 L497.39,156.53 L501.52,156.53 L505.64,156.53 L509.76,156.53 L513.88,156.53 L518,156.53 L522.13,156.53 L526.25,156.53 L530.37,156.53 L534.49,156.53 L538.61,156.53 L542.74,156.53 L546.86,156.53 L550.98,156.53 L555.1,156.53 L559.22,156.53 L563.35,156.53 L567.47,156.53 L571.59,156.53 L575.71,156.53 L579.83,156.53 L583.96,156.53 L588.08,156.53 L592.2,156.53" fill="none" stroke="#000000" stroke-width="1" stroke-linejoin="round"/><polygon points="386.1,0.59 386.86,2.58 388.99,2.69 387.33,4.03 387.89,6.09 386.1,4.92 384.31,6.09 384.87,4.03 383.21,2.69 385.34,2.58" fill="#000000" stroke="#000000" stroke-width="0.3"/><polygon points="390.22,114.42 390.98,116.42 393.11,116.52 391.45,117.86 392.01,119.92 390.22,118.75 388.44,119.92 388.99,117.86 387.33,116.52 389.46,116.42" fill="#000000" stroke="#000000" stroke-width="0.3"/><polygon points="394.34,124.23 395.1,126.23 397.24,126.33 395.57,127.67 396.13,129.73 394.34,128.56 392.56,129.73 393.12,127.67 391.45,126.33 393.58,126.23" fill="#000000" stroke="#000000" stroke-width="0.3"/><polygon points="398.47,131.03 399.23,133.03 401.36,133.13 399.69,134.47 400.25,136.53 398.47,135.36 396.68,136.53 397.24,134.47 395.57,133.13 397.71,133.03" fill="#000000" stroke="#000000" stroke-width="0.3"/><polygon points="402.59,131.61 403.35,133.6 405.48,133.71 403.82,135.05 404.37,137.11 402.59,135.94 400.8,137.11 401.36,135.05 399.7,133.71 401.83,133.6" fill="#000000" stroke="#000000" stroke-width="0.3"/><polygon points="406.71,134.52 407.47,136.51 409.6,136.62 407.94,137.95 408.5,140.01 406.71,138.85 404.92,140.01 405.48,137.95 403.82,136.62 405.95,136.51" fill="#000000" stroke="#000000" stroke-width="0.3"/><polygon points="410.83,138.06 411.59,140.05 413.72,140.16 412.06,141.5 412.62,143.56 410.83,142.39 409.05,143.56 409.6,141.5 407.94,140.16 410.07,140.05" fill="#000000" stroke="#000000" stroke-width="0.3"/><polygon points="414.95,141.66 415.71,143.65 417.85,143.76 416.18,145.1 416.74,147.16 414.95,145.99 413.17,147.16 413.73,145.1 412.06,143.76 414.19,143.65" fill="#000000" stroke="#000000" stroke-width="0.3"/><polygon points="419.08,143.48 419.84,145.48 421.97,145.59 420.3,146.92 420.86,148.98 419.08,147.82 417.29,148.98 417.85,146.92 416.18,145.59 418.32,145.48" fill="#000000" stroke="#000000" stroke-width="0.3"/><polygon points="423.2,145.94 423.96,147.94 426.09,148.04 424.43,149.38 424.98,151.44 423.2,150.27 421.41,151.44 421.97,149.38 420.31,148.04 422.44,147.94" fill="#000000" stroke="#000000" stroke-width="0.3"/><polygon points="427.32,147.8 428.08,149.8 430.21,149.9 428.55,151.24 429.11,153.3 427.32,152.14 425.53,153.3 426.09,151.24 424.43,149.9 426.56,149.8" fill="#000000" stroke="#000000" stroke-width="0.3"/><polygon points="431.44,151.58 432.2,153.57 434.33,153.68 432.67,155.02 433.23,157.08 431.44,155.91 429.66,157.08 430.21,155.02 428.55,153.68 430.68,153.57" fill="#000000" stroke="#000000" stroke-width="0.3"/><polygon points="435.56,152.21 436.32,154.21 438.46,154.31 436.79,155.65 437.35,157.71 435.56,156.54 433.78,157.71 434.34,155.65 432.67,154.31 434.8,154.21" fill="#000000" stroke="#000000" stroke-width="0.3"/><polygon points="439.69,152.64 440.45,154.63 442.58,154.74 440.91,156.08 441.47,158.14 439.69,156.97 437.9,158.14 438.46,156.08 436.79,154.74 438.93,154.63" fill="#000000" stroke="#000000" stroke-width="0.3"/><polygon points="443.81,153.06 444.57,155.06 446.7,155.16 445.04,156.5 445.59,158.56 443.81,157.4 442.02,158.56 442.58,156.5 440.92,155.16 443.05,155.06" fill="#000000" stroke="#000000" stroke-width="0.3"/><polygon points="447.93,153.49 448.69,155.48 450.82,155.59 449.16,156.93 449.72,158.99 447.93,157.82 446.14,158.99 446.7,156.93 445.04,155.59 447.17,155.48" fill="#000000" stroke="#000000" stroke-width="0.3"/><polygon points="452.05,153.49 452.81,155.48 454.94,155.59 453.28,156.93 453.84,158.99 452.05,157.82 450.27,158.99 450.82,156.93 449.16,155.59 451.29,155.48" fill="#000000" stroke="#000000" stroke-width="0.3"/><polygon points="456.17,153.49 456.93,155.48 459.07,155.59 457.4,156.93 457.96,158.99 456.17,157.82 454.39,158.99 454.95,156.93 453.28,155.59 455.41,155.48" fill="#000000" stroke="#000000" stroke-width="0.3"/><polygon points="460.3,153.49 461.06,155.48 463.19,155.59 461.52,156.93 462.08,158.99 460.3,157.82 458.51,158.99 459.07,156.93 457.4,155.59 459.54,155.48" fill="#000000" stroke="#000000" stroke-width="0.3"/><polygon points="464.42,153.49 465.18,155.48 467.31,155.59 465.65,156.93 466.2,158.99 464.42,157.82 462.63,158.99 463.19,156.93 461.53,155.59 463.66,155.48" fill="#000000" stroke="#000000" stroke-width="0.3"/><polygon points="468.54,153.49 469.3,155.48 471.43,155.59 469.77,156.93 470.33,158.99 468.54,157.82 466.75,158.99 467.31,156.93 465.65,155.59 467.78,155.48" fill="#000000" stroke="#000000" stroke-width="0.3"/><polygon points="472.66,153.49 473.42,155.48 475.55,155.59 473.89,156.93 474.45,158.99 472.66,157.82 470.88,158.99 471.43,156.93 469.77,155.59 471.9,155.48" fill="#000000" stroke="#000000" stroke-width="0.3"/><polygon points="476.78,153.49 477.54,155.48 479.68,155.59 478.01,156.93 478.57,158.99 476.78,157.82 475,158.99 475.56,156.93 473.89,155.59 476.02,155.48" fill="#000000" stroke="#000000" stroke-width="0.3"/><polygon points="480.91,153.49 481.67,155.48 483.8,155.59 482.13,156.93 482.69,158.99 480.91,157.82 479.12,158.99 479.68,156.93 478.01,155.59 480.15,155.48" fill="#000000" stroke="#000000" stroke-width="0.3"/><polygon points="485.03,153.49 485.79,155.48 487.92,155.59 486.26,156.93 486.81,158.99 485.03,157.82 483.24,158.99 483.8,156.93 482.14,155.59 484.27,155.48" fill="#000000" stroke="#000000" stroke-width="0.3"/><polygon points="489.15,153.49 489.91,155.48 492.04,155.59 490.38,156.93 490.94,158.99 489.15,157.82 487.36,158.99 487.92,156.93 486.26,155.59 488.39,155.48" fill="#000000" stroke="#000000" stroke-width="0.3"/><polygon points="493.27,153.49 494.03,155.48 496.16,155.59 494.5,156.93 495.06,158.99 493.27,157.82 491.49,158.99 492.04,156.93 490.38,155.59 492.51,155.48" fill="#000000" stroke="#000000" stroke-width="0.3"/><polygon points="497.39,153.49 498.15,155.48 500.29,155.59 498.62,156.93 499.18,158.99 497.39,157.82 495.61,158.99 496.17,156.93 494.5,155.59 496.63,155.48" fill="#000000" stroke="#000000" stroke-width="0.3"/><polygon points="501.52,153.49 502.28,155.48 504.41,155.59 502.74,156.93 503.3,158.99 501.52,157.82 499.73,158.99 500.29,156.93 498.62,155.59 500.76,155.48" fill="#000000" stroke="#000000" stroke-width="0.3"/><polygon points="505.64,153.49 506.4,155.48 508.53,155.59 506.87,156.93 507.42,158.99 505.64,157.82 503.85,158.99 504.41,156.93 502.75,155.59 504.88,155.48" fill="#000000" stroke="#000000" stroke-width="0.3"/><polygon points="509.76,153.49 510.52,155.48 512.65,155.59 510.99,156.93 511.55,158.99 509.76,157.82 507.97,158.99 508.53,156.93 506.87,155.59 509,155.48" fill="#000000" stroke="#000000" stroke-width="0.3"/><polygon points="513.88,153.49 514.64,155.48 516.77,155.59 515.11,156.93 515.67,158.99 513.88,157.82 512.1,158.99 512.65,156.93 510.99,155.59 513.12,155.48" fill="#000000" stroke="#000000" stroke-width="0.3"/><polygon points="518,153.49 518.76,155.48 520.9,155.59 519.23,156.93 519.79,158.99 518,157.82 516.22,158.99 516.78,156.93 515.11,155.59 517.24,155.48" fill="#000000" stroke="#000000" stroke-width="0.3"/><polygon points="522.13,153.49 522.89,155.48 525.02,155.59 523.35,156.93 523.91,158.99 522.13,157.82 520.34,158.99 520.9,156.93 519.23,155.59 521.37,155.48" fill="#000000" stroke="#000000" stroke-width="0.3"/><polygon points="526.25,153.49 527.01,155.48 529.14,155.59 527.48,156.93 528.03,158.99 526.25,157.82 524.46,158.99 525.02,156.93 523.36,155.59 525.49,155.48" fill="#000000" stroke="#000000" stroke-width="0.3"/><polygon points="530.37,153.49 531.13,155.48 533.26,155.59 531.6,156.93 532.16,158.99 530.37,157.82 528.58,158.99 529.14,156.93 527.48,155.59 529.61,155.48" fill="#000000" stroke="#000000" stroke-width="0.3"/><polygon points="534.49,153.49 535.25,155.48 537.38,155.59 535.72,156.93 536.28,158.99 534.49,157.82 532.71,158.99 533.26,156.93 531.6,155.59 533.73,155.48" fill="#000000" stroke="#000000" stroke-width="0.3"/><polygon points="538.61,153.49 539.37,155.48 541.51,155.59 539.84,156.93 540.4,158.99 538.61,157.82 536.83,158.99 537.39,156.93 535.72,155.59 537.85,155.48" fill="#000000" stroke="#000000" stroke-width="0.3"/><polygon points="542.74,153.49 543.5,155.48 545.63,155.59 543.96,156.93 544.52,158.99 542.74,157.82 540.95,158.99 541.51,156.93 539.84,155.59 541.98,155.48" fill="#000000" stroke="#000000" stroke-width="0.3"/><polygon points="546.86,153.49 547.62,155.48 549.75,155.59 548.09,156.93 548.64,158.99 546.86,157.82 545.07,158.99 545.63,156.93 543.97,155.59 546.1,155.48" fill="#000000" stroke="#000000" stroke-width="0.3"/><polygon points="550.98,153.49 551.74,155.48 553.87,155.59 552.21,156.93 552.77,158.99 550.98,157.82 549.19,158.99 549.75,156.93 548.09,155.59 550.22,155.48" fill="#000000" stroke="#000000" stroke-width="0.3"/><polygon points="555.1,153.49 555.86,155.48 557.99,155.59 556.33,156.93 556.89,158.99 555.1,157.82 553.32,158.99 553.87,156.93 552.21,155.59 554.34,155.48" fill="#000000" stroke="#000000" stroke-width="0.3"/><polygon points="559.22,153.49 559.98,155.48 562.12,155.59 560.45,156.93 561.01,158.99 559.22,157.82 557.44,158.99 558,156.93 556.33,155.59 558.46,155.48" fill="#000000" stroke="#000000" stroke-width="0.3"/><polygon points="563.35,153.49 564.11,155.48 566.24,155.59 564.57,156.93 565.13,158.99 563.35,157.82 561.56,158.99 562.12,156.93 560.45,155.59 562.59,155.48" fill="#000000" stroke="#000000" stroke-width="0.3"/><polygon points="567.47,153.49 568.23,155.48 570.36,155.59 568.7,156.93 569.25,158.99 567.47,157.82 565.68,158.99 566.24,156.93 564.58,155.59 566.71,155.48" fill="#000000" stroke="#000000" stroke-width="0.3"/><polygon points="571.59,153.49 572.35,155.48 574.48,155.59 572.82,156.93 573.38,158.99 571.59,157.82 569.8,158.99 570.36,156.93 568.7,155.59 570.83,155.48" fill="#000000" stroke="#000000" stroke-width="0.3"/><polygon points="575.71,153.49 576.47,155.48 578.6,155.59 576.94,156.93 577.5,158.99 575.71,157.82 573.93,158.99 574.48,156.93 572.82,155.59 574.95,155.48" fill="#000000" stroke="#000000" stroke-width="0.3"/><polygon points="579.83,153.49 580.59,155.48 582.73,155.59 581.06,156.93 581.62,158.99 579.83,157.82 578.05,158.99 578.61,156.93 576.94,155.59 579.07,155.48" fill="#000000" stroke="#000000" stroke-width="0.3"/><polygon points="583.96,153.49 584.72,155.48 586.85,155.59 585.18,156.93 585.74,158.99 583.96,157.82 582.17,158.99 582.73,156.93 581.06,155.59 583.2,155.48" fill="#000000" stroke="#000000" stroke-width="0.3"/><polygon points="588.08,153.49 588.84,155.48 590.97,155.59 589.31,156.93 589.86,158.99 588.08,157.82 586.29,158.99 586.85,156.93 585.19,155.59 587.32,155.48" fill="#000000" stroke="#000000" stroke-width="0.3"/><polygon points="592.2,153.49 592.96,155.48 595.09,155.59 593.43,156.93 593.99,158.99 592.2,157.82 590.41,158.99 590.97,156.93 589.31,155.59 591.44,155.48" fill="#000000" stroke="#000000" stroke-width="0.3"/></g>
<g><path d="M386.1,102.06 L390.22,122.86 L394.34,123.95 L398.47,126.16 L402.59,129.51 L406.71,130.64 L410.83,130.76 L414.95,130.87 L419.08,130.98 L423.2,131.1 L427.32,131.21 L431.44,131.25 L435.56,131.28 L439.69,131.32 L443.81,131.36 L447.93,131.4 L452.05,131.43 L456.17,131.47 L460.3,131.51 L464.42,131.54 L468.54,131.58 L472.66,131.62 L476.78,131.65 L480.91,131.69 L485.03,131.73 L489.15,131.76 L493.27,131.8 L497.39,131.84 L501.52,131.87 L505.64,131.91 L509.76,131.95 L513.88,131.98 L518,132.02 L522.13,132.06 L526.25,132.09 L530.37,132.13 L534.49,132.17 L538.61,132.2 L542.74,132.24 L546.86,132.28 L550.98,132.31 L555.1,132.35 L559.22,136.97 L563.35,137 L567.47,137.03 L571.59,137.06 L575.71,137.09 L579.83,137.12 L583.96,137.15 L588.08,137.18 L592.2,137.2" fill="none" stroke="#00ffff" stroke-width="1" stroke-linejoin="round"/><polygon points="386.1,99.59 388,102.06 386.1,104.53 384.2,102.06" fill="none" stroke="#00ffff" stroke-width="0.95"/><polygon points="390.22,120.39 392.12,122.86 390.22,125.33 388.32,122.86" fill="none" stroke="#00ffff" stroke-width="0.95"/><polygon points="394.34,121.48 396.24,123.95 394.34,126.42 392.44,123.95" fill="none" stroke="#00ffff" stroke-width="0.95"/><polygon points="398.47,123.69 400.37,126.16 398.47,128.63 396.57,126.16" fill="none" stroke="#00ffff" stroke-width="0.95"/><polygon points="402.59,127.04 404.49,129.51 402.59,131.98 400.69,129.51" fill="none" stroke="#00ffff" stroke-width="0.95"/><polygon points="406.71,128.17 408.61,130.64 406.71,133.11 404.81,130.64" fill="none" stroke="#00ffff" stroke-width="0.95"/><polygon points="410.83,128.29 412.73,130.76 410.83,133.23 408.93,130.76" fill="none" stroke="#00ffff" stroke-width="0.95"/><polygon points="414.95,128.4 416.85,130.87 414.95,133.34 413.05,130.87" fill="none" stroke="#00ffff" stroke-width="0.95"/><polygon points="419.08,128.51 420.98,130.98 419.08,133.45 417.18,130.98" fill="none" stroke="#00ffff" stroke-width="0.95"/><polygon points="423.2,128.63 425.1,131.1 423.2,133.57 421.3,131.1" fill="none" stroke="#00ffff" stroke-width="0.95"/><polygon points="427.32,128.74 429.22,131.21 427.32,133.68 425.42,131.21" fill="none" stroke="#00ffff" stroke-width="0.95"/><polygon points="431.44,128.78 433.34,131.25 431.44,133.72 429.54,131.25" fill="none" stroke="#00ffff" stroke-width="0.95"/><polygon points="435.56,128.81 437.46,131.28 435.56,133.75 433.66,131.28" fill="none" stroke="#00ffff" stroke-width="0.95"/><polygon points="439.69,128.85 441.59,131.32 439.69,133.79 437.79,131.32" fill="none" stroke="#00ffff" stroke-width="0.95"/><polygon points="443.81,128.89 445.71,131.36 443.81,133.83 441.91,131.36" fill="none" stroke="#00ffff" stroke-width="0.95"/><polygon points="447.93,128.93 449.83,131.4 447.93,133.87 446.03,131.4" fill="none" stroke="#00ffff" stroke-width="0.95"/><polygon points="452.05,128.96 453.95,131.43 452.05,133.9 450.15,131.43" fill="none" stroke="#00ffff" stroke-width="0.95"/><polygon points="456.17,129 458.07,131.47 456.17,133.94 454.27,131.47" fill="none" stroke="#00ffff" stroke-width="0.95"/><polygon points="460.3,129.04 462.2,131.51 460.3,133.98 458.4,131.51" fill="none" stroke="#00ffff" stroke-width="0.95"/><polygon points="464.42,129.07 466.32,131.54 464.42,134.01 462.52,131.54" fill="none" stroke="#00ffff" stroke-width="0.95"/><polygon points="468.54,129.11 470.44,131.58 468.54,134.05 466.64,131.58" fill="none" stroke="#00ffff" stroke-width="0.95"/><polygon points="472.66,129.15 474.56,131.62 472.66,134.09 470.76,131.62" fill="none" stroke="#00ffff" stroke-width="0.95"/><polygon points="476.78,129.18 478.68,131.65 476.78,134.12 474.88,131.65" fill="none" stroke="#00ffff" stroke-width="0.95"/><polygon points="480.91,129.22 482.81,131.69 480.91,134.16 479.01,131.69" fill="none" stroke="#00ffff" stroke-width="0.95"/><polygon points="485.03,129.26 486.93,131.73 485.03,134.2 483.13,131.73" fill="none" stroke="#00ffff" stroke-width="0.95"/><polygon points="489.15,129.29 491.05,131.76 489.15,134.23 487.25,131.76" fill="none" stroke="#00ffff" stroke-width="0.95"/><polygon points="493.27,129.33 495.17,131.8 493.27,134.27 491.37,131.8" fill="none" stroke="#00ffff" stroke-width="0.95"/><polygon points="497.39,129.37 499.29,131.84 497.39,134.31 495.49,131.84" fill="none" stroke="#00ffff" stroke-width="0.95"/><polygon points="501.52,129.4 503.42,131.87 501.52,134.34 499.62,131.87" fill="none" stroke="#00ffff" stroke-width="0.95"/><polygon points="505.64,129.44 507.54,131.91 505.64,134.38 503.74,131.91" fill="none" stroke="#00ffff" stroke-width="0.95"/><polygon points="509.76,129.48 511.66,131.95 509.76,134.42 507.86,131.95" fill="none" stroke="#00ffff" stroke-width="0.95"/><polygon points="513.88,129.51 515.78,131.98 513.88,134.45 511.98,131.98" fill="none" stroke="#00ffff" stroke-width="0.95"/><polygon points="518,129.55 519.9,132.02 518,134.49 516.1,132.02" fill="none" stroke="#00ffff" stroke-width="0.95"/><polygon points="522.13,129.59 524.03,132.06 522.13,134.53 520.23,132.06" fill="none" stroke="#00ffff" stroke-width="0.95"/><polygon points="526.25,129.62 528.15,132.09 526.25,134.56 524.35,132.09" fill="none" stroke="#00ffff" stroke-width="0.95"/><polygon points="530.37,129.66 532.27,132.13 530.37,134.6 528.47,132.13" fill="none" stroke="#00ffff" stroke-width="0.95"/><polygon points="534.49,129.7 536.39,132.17 534.49,134.64 532.59,132.17" fill="none" stroke="#00ffff" stroke-width="0.95"/><polygon points="538.61,129.73 540.51,132.2 538.61,134.67 536.71,132.2" fill="none" stroke="#00ffff" stroke-width="0.95"/><polygon points="542.74,129.77 544.64,132.24 542.74,134.71 540.84,132.24" fill="none" stroke="#00ffff" stroke-width="0.95"/><polygon points="546.86,129.81 548.76,132.28 546.86,134.75 544.96,132.28" fill="none" stroke="#00ffff" stroke-width="0.95"/><polygon points="550.98,129.84 552.88,132.31 550.98,134.78 549.08,132.31" fill="none" stroke="#00ffff" stroke-width="0.95"/><polygon points="555.1,129.88 557,132.35 555.1,134.82 553.2,132.35" fill="none" stroke="#00ffff" stroke-width="0.95"/><polygon points="559.22,134.5 561.12,136.97 559.22,139.44 557.32,136.97" fill="none" stroke="#00ffff" stroke-width="0.95"/><polygon points="563.35,134.53 565.25,137 563.35,139.47 561.45,137" fill="none" stroke="#00ffff" stroke-width="0.95"/><polygon points="567.47,134.56 569.37,137.03 567.47,139.5 565.57,137.03" fill="none" stroke="#00ffff" stroke-width="0.95"/><polygon points="571.59,134.59 573.49,137.06 571.59,139.53 569.69,137.06" fill="none" stroke="#00ffff" stroke-width="0.95"/><polygon points="575.71,134.62 577.61,137.09 575.71,139.56 573.81,137.09" fill="none" stroke="#00ffff" stroke-width="0.95"/><polygon points="579.83,134.65 581.73,137.12 579.83,139.59 577.93,137.12" fill="none" stroke="#00ffff" stroke-width="0.95"/><polygon points="583.96,134.68 585.86,137.15 583.96,139.62 582.06,137.15" fill="none" stroke="#00ffff" stroke-width="0.95"/><polygon points="588.08,134.71 589.98,137.18 588.08,139.65 586.18,137.18" fill="none" stroke="#00ffff" stroke-width="0.95"/><polygon points="592.2,134.73 594.1,137.2 592.2,139.67 590.3,137.2" fill="none" stroke="#00ffff" stroke-width="0.95"/></g>
<g><path d="M386.1,22.84 L390.22,22.84 L394.34,22.84 L398.47,22.84 L402.59,22.84 L406.71,22.84 L410.83,22.84 L414.95,22.84 L419.08,22.84 L423.2,22.84 L427.32,22.84 L431.44,22.84 L435.56,22.84 L439.69,22.84 L443.81,22.84 L447.93,22.84 L452.05,22.84 L456.17,22.84 L460.3,22.84 L464.42,22.84 L468.54,22.84 L472.66,22.84 L476.78,22.84 L480.91,22.84 L485.03,22.84 L489.15,22.84 L493.27,22.84 L497.39,22.84 L501.52,22.84 L505.64,22.84 L509.76,22.84 L513.88,22.84 L518,22.84 L522.13,22.84 L526.25,22.84 L530.37,22.84 L534.49,22.84 L538.61,22.84 L542.74,22.84 L546.86,22.84 L550.98,22.84 L555.1,24.03 L559.22,24.03 L563.35,24.03 L567.47,24.03 L571.59,24.03 L575.71,30.47 L579.83,30.47 L583.96,30.47 L588.08,30.47 L592.2,30.47" fill="none" stroke="#00ff00" stroke-width="1" stroke-linejoin="round"/><path d="M384.58,21.32L387.62,24.36M384.58,24.36L387.62,21.32" stroke="#00ff00" stroke-width="1.3"/><path d="M388.7,21.32L391.74,24.36M388.7,24.36L391.74,21.32" stroke="#00ff00" stroke-width="1.3"/><path d="M392.82,21.32L395.86,24.36M392.82,24.36L395.86,21.32" stroke="#00ff00" stroke-width="1.3"/><path d="M396.95,21.32L399.99,24.36M396.95,24.36L399.99,21.32" stroke="#00ff00" stroke-width="1.3"/><path d="M401.07,21.32L404.11,24.36M401.07,24.36L404.11,21.32" stroke="#00ff00" stroke-width="1.3"/><path d="M405.19,21.32L408.23,24.36M405.19,24.36L408.23,21.32" stroke="#00ff00" stroke-width="1.3"/><path d="M409.31,21.32L412.35,24.36M409.31,24.36L412.35,21.32" stroke="#00ff00" stroke-width="1.3"/><path d="M413.43,21.32L416.47,24.36M413.43,24.36L416.47,21.32" stroke="#00ff00" stroke-width="1.3"/><path d="M417.56,21.32L420.6,24.36M417.56,24.36L420.6,21.32" stroke="#00ff00" stroke-width="1.3"/><path d="M421.68,21.32L424.72,24.36M421.68,24.36L424.72,21.32" stroke="#00ff00" stroke-width="1.3"/><path d="M425.8,21.32L428.84,24.36M425.8,24.36L428.84,21.32" stroke="#00ff00" stroke-width="1.3"/><path d="M429.92,21.32L432.96,24.36M429.92,24.36L432.96,21.32" stroke="#00ff00" stroke-width="1.3"/><path d="M434.04,21.32L437.08,24.36M434.04,24.36L437.08,21.32" stroke="#00ff00" stroke-width="1.3"/><path d="M438.17,21.32L441.21,24.36M438.17,24.36L441.21,21.32" stroke="#00ff00" stroke-width="1.3"/><path d="M442.29,21.32L445.33,24.36M442.29,24.36L445.33,21.32" stroke="#00ff00" stroke-width="1.3"/><path d="M446.41,21.32L449.45,24.36M446.41,24.36L449.45,21.32" stroke="#00ff00" stroke-width="1.3"/><path d="M450.53,21.32L453.57,24.36M450.53,24.36L453.57,21.32" stroke="#00ff00" stroke-width="1.3"/><path d="M454.65,21.32L457.69,24.36M454.65,24.36L457.69,21.32" stroke="#00ff00" stroke-width="1.3"/><path d="M458.78,21.32L461.82,24.36M458.78,24.36L461.82,21.32" stroke="#00ff00" stroke-width="1.3"/><path d="M462.9,21.32L465.94,24.36M462.9,24.36L465.94,21.32" stroke="#00ff00" stroke-width="1.3"/><path d="M467.02,21.32L470.06,24.36M467.02,24.36L470.06,21.32" stroke="#00ff00" stroke-width="1.3"/><path d="M471.14,21.32L474.18,24.36M471.14,24.36L474.18,21.32" stroke="#00ff00" stroke-width="1.3"/><path d="M475.26,21.32L478.3,24.36M475.26,24.36L478.3,21.32" stroke="#00ff00" stroke-width="1.3"/><path d="M479.39,21.32L482.43,24.36M479.39,24.36L482.43,21.32" stroke="#00ff00" stroke-width="1.3"/><path d="M483.51,21.32L486.55,24.36M483.51,24.36L486.55,21.32" stroke="#00ff00" stroke-width="1.3"/><path d="M487.63,21.32L490.67,24.36M487.63,24.36L490.67,21.32" stroke="#00ff00" stroke-width="1.3"/><path d="M491.75,21.32L494.79,24.36M491.75,24.36L494.79,21.32" stroke="#00ff00" stroke-width="1.3"/><path d="M495.87,21.32L498.91,24.36M495.87,24.36L498.91,21.32" stroke="#00ff00" stroke-width="1.3"/><path d="M500,21.32L503.04,24.36M500,24.36L503.04,21.32" stroke="#00ff00" stroke-width="1.3"/><path d="M504.12,21.32L507.16,24.36M504.12,24.36L507.16,21.32" stroke="#00ff00" stroke-width="1.3"/><path d="M508.24,21.32L511.28,24.36M508.24,24.36L511.28,21.32" stroke="#00ff00" stroke-width="1.3"/><path d="M512.36,21.32L515.4,24.36M512.36,24.36L515.4,21.32" stroke="#00ff00" stroke-width="1.3"/><path d="M516.48,21.32L519.52,24.36M516.48,24.36L519.52,21.32" stroke="#00ff00" stroke-width="1.3"/><path d="M520.61,21.32L523.65,24.36M520.61,24.36L523.65,21.32" stroke="#00ff00" stroke-width="1.3"/><path d="M524.73,21.32L527.77,24.36M524.73,24.36L527.77,21.32" stroke="#00ff00" stroke-width="1.3"/><path d="M528.85,21.32L531.89,24.36M528.85,24.36L531.89,21.32" stroke="#00ff00" stroke-width="1.3"/><path d="M532.97,21.32L536.01,24.36M532.97,24.36L536.01,21.32" stroke="#00ff00" stroke-width="1.3"/><path d="M537.09,21.32L540.13,24.36M537.09,24.36L540.13,21.32" stroke="#00ff00" stroke-width="1.3"/><path d="M541.22,21.32L544.26,24.36M541.22,24.36L544.26,21.32" stroke="#00ff00" stroke-width="1.3"/><path d="M545.34,21.32L548.38,24.36M545.34,24.36L548.38,21.32" stroke="#00ff00" stroke-width="1.3"/><path d="M549.46,21.32L552.5,24.36M549.46,24.36L552.5,21.32" stroke="#00ff00" stroke-width="1.3"/><path d="M553.58,22.51L556.62,25.55M553.58,25.55L556.62,22.51" stroke="#00ff00" stroke-width="1.3"/><path d="M557.7,22.51L560.74,25.55M557.7,25.55L560.74,22.51" stroke="#00ff00" stroke-width="1.3"/><path d="M561.83,22.51L564.87,25.55M561.83,25.55L564.87,22.51" stroke="#00ff00" stroke-width="1.3"/><path d="M565.95,22.51L568.99,25.55M565.95,25.55L568.99,22.51" stroke="#00ff00" stroke-width="1.3"/><path d="M570.07,22.51L573.11,25.55M570.07,25.55L573.11,22.51" stroke="#00ff00" stroke-width="1.3"/><path d="M574.19,28.95L577.23,31.99M574.19,31.99L577.23,28.95" stroke="#00ff00" stroke-width="1.3"/><path d="M578.31,28.95L581.35,31.99M578.31,31.99L581.35,28.95" stroke="#00ff00" stroke-width="1.3"/><path d="M582.44,28.95L585.48,31.99M582.44,31.99L585.48,28.95" stroke="#00ff00" stroke-width="1.3"/><path d="M586.56,28.95L589.6,31.99M586.56,31.99L589.6,28.95" stroke="#00ff00" stroke-width="1.3"/><path d="M590.68,28.95L593.72,31.99M590.68,31.99L593.72,28.95" stroke="#00ff00" stroke-width="1.3"/></g>
<g><path d="M386.1,35.83 L390.22,131.21 L394.34,139.32 L398.47,141.1 L402.59,141.4 L406.71,141.69 L410.83,141.69 L414.95,141.69 L419.08,141.69 L423.2,141.69 L427.32,141.69 L431.44,141.69 L435.56,141.69 L439.69,141.69 L443.81,141.69 L447.93,141.69 L452.05,141.69 L456.17,141.69 L460.3,141.69 L464.42,141.69 L468.54,141.69 L472.66,141.69 L476.78,141.69 L480.91,141.69 L485.03,141.69 L489.15,141.69 L493.27,141.69 L497.39,141.69 L501.52,141.69 L505.64,141.69 L509.76,141.69 L513.88,141.69 L518,141.69 L522.13,141.69 L526.25,141.69 L530.37,141.69 L534.49,141.69 L538.61,141.69 L542.74,141.69 L546.86,141.69 L550.98,141.69 L555.1,141.69 L559.22,141.69 L563.35,141.69 L567.47,141.69 L571.59,141.69 L575.71,141.69 L579.83,141.69 L583.96,141.69 L588.08,141.69 L592.2,141.69" fill="none" stroke="#0000ff" stroke-width="1" stroke-linejoin="round"/><polygon points="386.1,33.27 386.86,34.52 388.32,34.55 387.62,35.83 388.32,37.12 386.86,37.15 386.1,38.4 385.34,37.15 383.88,37.12 384.58,35.83 383.88,34.55 385.34,34.52" fill="#0000ff" stroke="#0000ff" stroke-width="0.3"/><polygon points="390.22,128.65 390.98,129.89 392.44,129.93 391.74,131.21 392.44,132.49 390.98,132.53 390.22,133.78 389.46,132.53 388,132.49 388.7,131.21 388,129.93 389.46,129.89" fill="#0000ff" stroke="#0000ff" stroke-width="0.3"/><polygon points="394.34,136.75 395.1,138 396.57,138.04 395.86,139.32 396.57,140.6 395.1,140.64 394.34,141.88 393.58,140.64 392.12,140.6 392.82,139.32 392.12,138.04 393.58,138" fill="#0000ff" stroke="#0000ff" stroke-width="0.3"/><polygon points="398.47,138.53 399.23,139.78 400.69,139.82 399.99,141.1 400.69,142.38 399.23,142.41 398.47,143.66 397.71,142.41 396.24,142.38 396.95,141.1 396.24,139.82 397.71,139.78" fill="#0000ff" stroke="#0000ff" stroke-width="0.3"/><polygon points="402.59,138.83 403.35,140.08 404.81,140.11 404.11,141.4 404.81,142.68 403.35,142.71 402.59,143.96 401.83,142.71 400.37,142.68 401.07,141.4 400.37,140.11 401.83,140.08" fill="#0000ff" stroke="#0000ff" stroke-width="0.3"/><polygon points="406.71,139.13 407.47,140.38 408.93,140.41 408.23,141.69 408.93,142.98 407.47,143.01 406.71,144.26 405.95,143.01 404.49,142.98 405.19,141.69 404.49,140.41 405.95,140.38" fill="#0000ff" stroke="#0000ff" stroke-width="0.3"/><polygon points="410.83,139.13 411.59,140.38 413.05,140.41 412.35,141.69 413.05,142.98 411.59,143.01 410.83,144.26 410.07,143.01 408.61,142.98 409.31,141.69 408.61,140.41 410.07,140.38" fill="#0000ff" stroke="#0000ff" stroke-width="0.3"/><polygon points="414.95,139.13 415.71,140.38 417.18,140.41 416.47,141.69 417.18,142.98 415.71,143.01 414.95,144.26 414.19,143.01 412.73,142.98 413.43,141.69 412.73,140.41 414.19,140.38" fill="#0000ff" stroke="#0000ff" stroke-width="0.3"/><polygon points="419.08,139.13 419.84,140.38 421.3,140.41 420.6,141.69 421.3,142.98 419.84,143.01 419.08,144.26 418.32,143.01 416.85,142.98 417.56,141.69 416.85,140.41 418.32,140.38" fill="#0000ff" stroke="#0000ff" stroke-width="0.3"/><polygon points="423.2,139.13 423.96,140.38 425.42,140.41 424.72,141.69 425.42,142.98 423.96,143.01 423.2,144.26 422.44,143.01 420.98,142.98 421.68,141.69 420.98,140.41 422.44,140.38" fill="#0000ff" stroke="#0000ff" stroke-width="0.3"/><polygon points="427.32,139.13 428.08,140.38 429.54,140.41 428.84,141.69 429.54,142.98 428.08,143.01 427.32,144.26 426.56,143.01 425.1,142.98 425.8,141.69 425.1,140.41 426.56,140.38" fill="#0000ff" stroke="#0000ff" stroke-width="0.3"/><polygon points="431.44,139.13 432.2,140.38 433.66,140.41 432.96,141.69 433.66,142.98 432.2,143.01 431.44,144.26 430.68,143.01 429.22,142.98 429.92,141.69 429.22,140.41 430.68,140.38" fill="#0000ff" stroke="#0000ff" stroke-width="0.3"/><polygon points="435.56,139.13 436.32,140.38 437.79,140.41 437.08,141.69 437.79,142.98 436.32,143.01 435.56,144.26 434.8,143.01 433.34,142.98 434.04,141.69 433.34,140.41 434.8,140.38" fill="#0000ff" stroke="#0000ff" stroke-width="0.3"/><polygon points="439.69,139.13 440.45,140.38 441.91,140.41 441.21,141.69 441.91,142.98 440.45,143.01 439.69,144.26 438.93,143.01 437.46,142.98 438.17,141.69 437.46,140.41 438.93,140.38" fill="#0000ff" stroke="#0000ff" stroke-width="0.3"/><polygon points="443.81,139.13 444.57,140.38 446.03,140.41 445.33,141.69 446.03,142.98 444.57,143.01 443.81,144.26 443.05,143.01 441.59,142.98 442.29,141.69 441.59,140.41 443.05,140.38" fill="#0000ff" stroke="#0000ff" stroke-width="0.3"/><polygon points="447.93,139.13 448.69,140.38 450.15,140.41 449.45,141.69 450.15,142.98 448.69,143.01 447.93,144.26 447.17,143.01 445.71,142.98 446.41,141.69 445.71,140.41 447.17,140.38" fill="#0000ff" stroke="#0000ff" stroke-width="0.3"/><polygon points="452.05,139.13 452.81,140.38 454.27,140.41 453.57,141.69 454.27,142.98 452.81,143.01 452.05,144.26 451.29,143.01 449.83,142.98 450.53,141.69 449.83,140.41 451.29,140.38" fill="#0000ff" stroke="#0000ff" stroke-width="0.3"/><polygon points="456.17,139.13 456.93,140.38 458.4,140.41 457.69,141.69 458.4,142.98 456.93,143.01 456.17,144.26 455.41,143.01 453.95,142.98 454.65,141.69 453.95,140.41 455.41,140.38" fill="#0000ff" stroke="#0000ff" stroke-width="0.3"/><polygon points="460.3,139.13 461.06,140.38 462.52,140.41 461.82,141.69 462.52,142.98 461.06,143.01 460.3,144.26 459.54,143.01 458.07,142.98 458.78,141.69 458.07,140.41 459.54,140.38" fill="#0000ff" stroke="#0000ff" stroke-width="0.3"/><polygon points="464.42,139.13 465.18,140.38 466.64,140.41 465.94,141.69 466.64,142.98 465.18,143.01 464.42,144.26 463.66,143.01 462.2,142.98 462.9,141.69 462.2,140.41 463.66,140.38" fill="#0000ff" stroke="#0000ff" stroke-width="0.3"/><polygon points="468.54,139.13 469.3,140.38 470.76,140.41 470.06,141.69 470.76,142.98 469.3,143.01 468.54,144.26 467.78,143.01 466.32,142.98 467.02,141.69 466.32,140.41 467.78,140.38" fill="#0000ff" stroke="#0000ff" stroke-width="0.3"/><polygon points="472.66,139.13 473.42,140.38 474.88,140.41 474.18,141.69 474.88,142.98 473.42,143.01 472.66,144.26 471.9,143.01 470.44,142.98 471.14,141.69 470.44,140.41 471.9,140.38" fill="#0000ff" stroke="#0000ff" stroke-width="0.3"/><polygon points="476.78,139.13 477.54,140.38 479.01,140.41 478.3,141.69 479.01,142.98 477.54,143.01 476.78,144.26 476.02,143.01 474.56,142.98 475.26,141.69 474.56,140.41 476.02,140.38" fill="#0000ff" stroke="#0000ff" stroke-width="0.3"/><polygon points="480.91,139.13 481.67,140.38 483.13,140.41 482.43,141.69 483.13,142.98 481.67,143.01 480.91,144.26 480.15,143.01 478.68,142.98 479.39,141.69 478.68,140.41 480.15,140.38" fill="#0000ff" stroke="#0000ff" stroke-width="0.3"/><polygon points="485.03,139.13 485.79,140.38 487.25,140.41 486.55,141.69 487.25,142.98 485.79,143.01 485.03,144.26 484.27,143.01 482.81,142.98 483.51,141.69 482.81,140.41 484.27,140.38" fill="#0000ff" stroke="#0000ff" stroke-width="0.3"/><polygon points="489.15,139.13 489.91,140.38 491.37,140.41 490.67,141.69 491.37,142.98 489.91,143.01 489.15,144.26 488.39,143.01 486.93,142.98 487.63,141.69 486.93,140.41 488.39,140.38" fill="#0000ff" stroke="#0000ff" stroke-width="0.3"/><polygon points="493.27,139.13 494.03,140.38 495.49,140.41 494.79,141.69 495.49,142.98 494.03,143.01 493.27,144.26 492.51,143.01 491.05,142.98 491.75,141.69 491.05,140.41 492.51,140.38" fill="#0000ff" stroke="#0000ff" stroke-width="0.3"/><polygon points="497.39,139.13 498.15,140.38 499.62,140.41 498.91,141.69 499.62,142.98 498.15,143.01 497.39,144.26 496.63,143.01 495.17,142.98 495.87,141.69 495.17,140.41 496.63,140.38" fill="#0000ff" stroke="#0000ff" stroke-width="0.3"/><polygon points="501.52,139.13 502.28,140.38 503.74,140.41 503.04,141.69 503.74,142.98 502.28,143.01 501.52,144.26 500.76,143.01 499.29,142.98 500,141.69 499.29,140.41 500.76,140.38" fill="#0000ff" stroke="#0000ff" stroke-width="0.3"/><polygon points="505.64,139.13 506.4,140.38 507.86,140.41 507.16,141.69 507.86,142.98 506.4,143.01 505.64,144.26 504.88,143.01 503.42,142.98 504.12,141.69 503.42,140.41 504.88,140.38" fill="#0000ff" stroke="#0000ff" stroke-width="0.3"/><polygon points="509.76,139.13 510.52,140.38 511.98,140.41 511.28,141.69 511.98,142.98 510.52,143.01 509.76,144.26 509,143.01 507.54,142.98 508.24,141.69 507.54,140.41 509,140.38" fill="#0000ff" stroke="#0000ff" stroke-width="0.3"/><polygon points="513.88,139.13 514.64,140.38 516.1,140.41 515.4,141.69 516.1,142.98 514.64,143.01 513.88,144.26 513.12,143.01 511.66,142.98 512.36,141.69 511.66,140.41 513.12,140.38" fill="#0000ff" stroke="#0000ff" stroke-width="0.3"/><polygon points="518,139.13 518.76,140.38 520.23,140.41 519.52,141.69 520.23,142.98 518.76,143.01 518,144.26 517.24,143.01 515.78,142.98 516.48,141.69 515.78,140.41 517.24,140.38" fill="#0000ff" stroke="#0000ff" stroke-width="0.3"/><polygon points="522.13,139.13 522.89,140.38 524.35,140.41 523.65,141.69 524.35,142.98 522.89,143.01 522.13,144.26 521.37,143.01 519.9,142.98 520.61,141.69 519.9,140.41 521.37,140.38" fill="#0000ff" stroke="#0000ff" stroke-width="0.3"/><polygon points="526.25,139.13 527.01,140.38 528.47,140.41 527.77,141.69 528.47,142.98 527.01,143.01 526.25,144.26 525.49,143.01 524.03,142.98 524.73,141.69 524.03,140.41 525.49,140.38" fill="#0000ff" stroke="#0000ff" stroke-width="0.3"/><polygon points="530.37,139.13 531.13,140.38 532.59,140.41 531.89,141.69 532.59,142.98 531.13,143.01 530.37,144.26 529.61,143.01 528.15,142.98 528.85,141.69 528.15,140.41 529.61,140.38" fill="#0000ff" stroke="#0000ff" stroke-width="0.3"/><polygon points="534.49,139.13 535.25,140.38 536.71,140.41 536.01,141.69 536.71,142.98 535.25,143.01 534.49,144.26 533.73,143.01 532.27,142.98 532.97,141.69 532.27,140.41 533.73,140.38" fill="#0000ff" stroke="#0000ff" stroke-width="0.3"/><polygon points="538.61,139.13 539.37,140.38 540.84,140.41 540.13,141.69 540.84,142.98 539.37,143.01 538.61,144.26 537.85,143.01 536.39,142.98 537.09,141.69 536.39,140.41 537.85,140.38" fill="#0000ff" stroke="#0000ff" stroke-width="0.3"/><polygon points="542.74,139.13 543.5,140.38 544.96,140.41 544.26,141.69 544.96,142.98 543.5,143.01 542.74,144.26 541.98,143.01 540.51,142.98 541.22,141.69 540.51,140.41 541.98,140.38" fill="#0000ff" stroke="#0000ff" stroke-width="0.3"/><polygon points="546.86,139.13 547.62,140.38 549.08,140.41 548.38,141.69 549.08,142.98 547.62,143.01 546.86,144.26 546.1,143.01 544.64,142.98 545.34,141.69 544.64,140.41 546.1,140.38" fill="#0000ff" stroke="#0000ff" stroke-width="0.3"/><polygon points="550.98,139.13 551.74,140.38 553.2,140.41 552.5,141.69 553.2,142.98 551.74,143.01 550.98,144.26 550.22,143.01 548.76,142.98 549.46,141.69 548.76,140.41 550.22,140.38" fill="#0000ff" stroke="#0000ff" stroke-width="0.3"/><polygon points="555.1,139.13 555.86,140.38 557.32,140.41 556.62,141.69 557.32,142.98 555.86,143.01 555.1,144.26 554.34,143.01 552.88,142.98 553.58,141.69 552.88,140.41 554.34,140.38" fill="#0000ff" stroke="#0000ff" stroke-width="0.3"/><polygon points="559.22,139.13 559.98,140.38 561.45,140.41 560.74,141.69 561.45,142.98 559.98,143.01 559.22,144.26 558.46,143.01 557,142.98 557.7,141.69 557,140.41 558.46,140.38" fill="#0000ff" stroke="#0000ff" stroke-width="0.3"/><polygon points="563.35,139.13 564.11,140.38 565.57,140.41 564.87,141.69 565.57,142.98 564.11,143.01 563.35,144.26 562.59,143.01 561.12,142.98 561.83,141.69 561.12,140.41 562.59,140.38" fill="#0000ff" stroke="#0000ff" stroke-width="0.3"/><polygon points="567.47,139.13 568.23,140.38 569.69,140.41 568.99,141.69 569.69,142.98 568.23,143.01 567.47,144.26 566.71,143.01 565.25,142.98 565.95,141.69 565.25,140.41 566.71,140.38" fill="#0000ff" stroke="#0000ff" stroke-width="0.3"/><polygon points="571.59,139.13 572.35,140.38 573.81,140.41 573.11,141.69 573.81,142.98 572.35,143.01 571.59,144.26 570.83,143.01 569.37,142.98 570.07,141.69 569.37,140.41 570.83,140.38" fill="#0000ff" stroke="#0000ff" stroke-width="0.3"/><polygon points="575.71,139.13 576.47,140.38 577.93,140.41 577.23,141.69 577.93,142.98 576.47,143.01 575.71,144.26 574.95,143.01 573.49,142.98 574.19,141.69 573.49,140.41 574.95,140.38" fill="#0000ff" stroke="#0000ff" stroke-width="0.3"/><polygon points="579.83,139.13 580.59,140.38 582.06,140.41 581.35,141.69 582.06,142.98 580.59,143.01 579.83,144.26 579.07,143.01 577.61,142.98 578.31,141.69 577.61,140.41 579.07,140.38" fill="#0000ff" stroke="#0000ff" stroke-width="0.3"/><polygon points="583.96,139.13 584.72,140.38 586.18,140.41 585.48,141.69 586.18,142.98 584.72,143.01 583.96,144.26 583.2,143.01 581.73,142.98 582.44,141.69 581.73,140.41 583.2,140.38" fill="#0000ff" stroke="#0000ff" stroke-width="0.3"/><polygon points="588.08,139.13 588.84,140.38 590.3,140.41 589.6,141.69 590.3,142.98 588.84,143.01 588.08,144.26 587.32,143.01 585.86,142.98 586.56,141.69 585.86,140.41 587.32,140.38" fill="#0000ff" stroke="#0000ff" stroke-width="0.3"/><polygon points="592.2,139.13 592.96,140.38 594.42,140.41 593.72,141.69 594.42,142.98 592.96,143.01 592.2,144.26 591.44,143.01 589.98,142.98 590.68,141.69 589.98,140.41 591.44,140.38" fill="#0000ff" stroke="#0000ff" stroke-width="0.3"/></g>
<g><path d="M386.1,65.74 L390.22,117.46 L394.34,138.73 L398.47,149.6 L402.59,156.53 L406.71,158.46 L410.83,159.11 L414.95,159.76 L419.08,160.08 L423.2,160.41 L427.32,160.73 L431.44,160.73 L435.56,160.73 L439.69,160.73 L443.81,160.73 L447.93,160.73 L452.05,160.73 L456.17,160.73 L460.3,160.73 L464.42,160.73 L468.54,160.73 L472.66,160.73 L476.78,160.73 L480.91,160.73 L485.03,160.73 L489.15,160.73 L493.27,160.73 L497.39,160.73 L501.52,160.73 L505.64,160.73 L509.76,160.73 L513.88,160.73 L518,160.73 L522.13,160.73 L526.25,160.73 L530.37,160.73 L534.49,160.73 L538.61,160.73 L542.74,160.73 L546.86,160.73 L550.98,160.73 L555.1,160.73 L559.22,160.73 L563.35,160.73 L567.47,160.73 L571.59,160.73 L575.71,160.73 L579.83,160.73 L583.96,160.73 L588.08,160.73 L592.2,160.73" fill="none" stroke="#000000" stroke-width="1" stroke-linejoin="round"/><path d="M384.01,65.74L388.19,65.74M386.1,63.65L386.1,67.83" stroke="#000000" stroke-width="0.8"/><path d="M388.13,117.46L392.31,117.46M390.22,115.37L390.22,119.55" stroke="#000000" stroke-width="0.8"/><path d="M392.25,138.73L396.43,138.73M394.34,136.64L394.34,140.82" stroke="#000000" stroke-width="0.8"/><path d="M396.38,149.6L400.56,149.6M398.47,147.51L398.47,151.69" stroke="#000000" stroke-width="0.8"/><path d="M400.5,156.53L404.68,156.53M402.59,154.44L402.59,158.62" stroke="#000000" stroke-width="0.8"/><path d="M404.62,158.46L408.8,158.46M406.71,156.37L406.71,160.55" stroke="#000000" stroke-width="0.8"/><path d="M408.74,159.11L412.92,159.11M410.83,157.02L410.83,161.2" stroke="#000000" stroke-width="0.8"/><path d="M412.86,159.76L417.04,159.76M414.95,157.67L414.95,161.85" stroke="#000000" stroke-width="0.8"/><path d="M416.99,160.08L421.17,160.08M419.08,157.99L419.08,162.17" stroke="#000000" stroke-width="0.8"/><path d="M421.11,160.41L425.29,160.41M423.2,158.32L423.2,162.5" stroke="#000000" stroke-width="0.8"/><path d="M425.23,160.73L429.41,160.73M427.32,158.64L427.32,162.82" stroke="#000000" stroke-width="0.8"/><path d="M429.35,160.73L433.53,160.73M431.44,158.64L431.44,162.82" stroke="#000000" stroke-width="0.8"/><path d="M433.47,160.73L437.65,160.73M435.56,158.64L435.56,162.82" stroke="#000000" stroke-width="0.8"/><path d="M437.6,160.73L441.78,160.73M439.69,158.64L439.69,162.82" stroke="#000000" stroke-width="0.8"/><path d="M441.72,160.73L445.9,160.73M443.81,158.64L443.81,162.82" stroke="#000000" stroke-width="0.8"/><path d="M445.84,160.73L450.02,160.73M447.93,158.64L447.93,162.82" stroke="#000000" stroke-width="0.8"/><path d="M449.96,160.73L454.14,160.73M452.05,158.64L452.05,162.82" stroke="#000000" stroke-width="0.8"/><path d="M454.08,160.73L458.26,160.73M456.17,158.64L456.17,162.82" stroke="#000000" stroke-width="0.8"/><path d="M458.21,160.73L462.39,160.73M460.3,158.64L460.3,162.82" stroke="#000000" stroke-width="0.8"/><path d="M462.33,160.73L466.51,160.73M464.42,158.64L464.42,162.82" stroke="#000000" stroke-width="0.8"/><path d="M466.45,160.73L470.63,160.73M468.54,158.64L468.54,162.82" stroke="#000000" stroke-width="0.8"/><path d="M470.57,160.73L474.75,160.73M472.66,158.64L472.66,162.82" stroke="#000000" stroke-width="0.8"/><path d="M474.69,160.73L478.87,160.73M476.78,158.64L476.78,162.82" stroke="#000000" stroke-width="0.8"/><path d="M478.82,160.73L483,160.73M480.91,158.64L480.91,162.82" stroke="#000000" stroke-width="0.8"/><path d="M482.94,160.73L487.12,160.73M485.03,158.64L485.03,162.82" stroke="#000000" stroke-width="0.8"/><path d="M487.06,160.73L491.24,160.73M489.15,158.64L489.15,162.82" stroke="#000000" stroke-width="0.8"/><path d="M491.18,160.73L495.36,160.73M493.27,158.64L493.27,162.82" stroke="#000000" stroke-width="0.8"/><path d="M495.3,160.73L499.48,160.73M497.39,158.64L497.39,162.82" stroke="#000000" stroke-width="0.8"/><path d="M499.43,160.73L503.61,160.73M501.52,158.64L501.52,162.82" stroke="#000000" stroke-width="0.8"/><path d="M503.55,160.73L507.73,160.73M505.64,158.64L505.64,162.82" stroke="#000000" stroke-width="0.8"/><path d="M507.67,160.73L511.85,160.73M509.76,158.64L509.76,162.82" stroke="#000000" stroke-width="0.8"/><path d="M511.79,160.73L515.97,160.73M513.88,158.64L513.88,162.82" stroke="#000000" stroke-width="0.8"/><path d="M515.91,160.73L520.09,160.73M518,158.64L518,162.82" stroke="#000000" stroke-width="0.8"/><path d="M520.04,160.73L524.22,160.73M522.13,158.64L522.13,162.82" stroke="#000000" stroke-width="0.8"/><path d="M524.16,160.73L528.34,160.73M526.25,158.64L526.25,162.82" stroke="#000000" stroke-width="0.8"/><path d="M528.28,160.73L532.46,160.73M530.37,158.64L530.37,162.82" stroke="#000000" stroke-width="0.8"/><path d="M532.4,160.73L536.58,160.73M534.49,158.64L534.49,162.82" stroke="#000000" stroke-width="0.8"/><path d="M536.52,160.73L540.7,160.73M538.61,158.64L538.61,162.82" stroke="#000000" stroke-width="0.8"/><path d="M540.65,160.73L544.83,160.73M542.74,158.64L542.74,162.82" stroke="#000000" stroke-width="0.8"/><path d="M544.77,160.73L548.95,160.73M546.86,158.64L546.86,162.82" stroke="#000000" stroke-width="0.8"/><path d="M548.89,160.73L553.07,160.73M550.98,158.64L550.98,162.82" stroke="#000000" stroke-width="0.8"/><path d="M553.01,160.73L557.19,160.73M555.1,158.64L555.1,162.82" stroke="#000000" stroke-width="0.8"/><path d="M557.13,160.73L561.31,160.73M559.22,158.64L559.22,162.82" stroke="#000000" stroke-width="0.8"/><path d="M561.26,160.73L565.44,160.73M563.35,158.64L563.35,162.82" stroke="#000000" stroke-width="0.8"/><path d="M565.38,160.73L569.56,160.73M567.47,158.64L567.47,162.82" stroke="#000000" stroke-width="0.8"/><path d="M569.5,160.73L573.68,160.73M571.59,158.64L571.59,162.82" stroke="#000000" stroke-width="0.8"/><path d="M573.62,160.73L577.8,160.73M575.71,158.64L575.71,162.82" stroke="#000000" stroke-width="0.8"/><path d="M577.74,160.73L581.92,160.73M579.83,158.64L579.83,162.82" stroke="#000000" stroke-width="0.8"/><path d="M581.87,160.73L586.05,160.73M583.96,158.64L583.96,162.82" stroke="#000000" stroke-width="0.8"/><path d="M585.99,160.73L590.17,160.73M588.08,158.64L588.08,162.82" stroke="#000000" stroke-width="0.8"/><path d="M590.11,160.73L594.29,160.73M592.2,158.64L592.2,162.82" stroke="#000000" stroke-width="0.8"/></g>
<g><path d="M386.1,34.03 L390.22,117.46 L394.34,129.51 L398.47,135.81 L402.59,141.1 L406.71,146.52 L410.83,147.75 L414.95,150.22 L419.08,157.81 L423.2,163.03 L427.32,163.69 L431.44,163.69 L435.56,163.69 L439.69,163.69 L443.81,163.69 L447.93,163.69 L452.05,163.69 L456.17,163.69 L460.3,163.69 L464.42,163.69 L468.54,163.69 L472.66,163.69 L476.78,163.69 L480.91,163.69 L485.03,163.69 L489.15,163.69 L493.27,163.69 L497.39,163.69 L501.52,163.69 L505.64,163.69 L509.76,163.69 L513.88,163.69 L518,163.69 L522.13,163.69 L526.25,163.69 L530.37,163.69 L534.49,163.69 L538.61,163.69 L542.74,163.69 L546.86,163.69 L550.98,163.69 L555.1,163.69 L559.22,163.69 L563.35,163.69 L567.47,163.69 L571.59,163.69 L575.71,163.69 L579.83,163.69 L583.96,163.69 L588.08,163.69 L592.2,163.69" fill="none" stroke="#ff0000" stroke-width="1" stroke-linejoin="round"/><polygon points="384.2,31.75 388.57,34.03 384.2,36.31" fill="none" stroke="#ff0000" stroke-width="0.8"/><polygon points="388.32,115.18 392.69,117.46 388.32,119.74" fill="none" stroke="#ff0000" stroke-width="0.8"/><polygon points="392.44,127.23 396.81,129.51 392.44,131.79" fill="none" stroke="#ff0000" stroke-width="0.8"/><polygon points="396.57,133.53 400.94,135.81 396.57,138.09" fill="none" stroke="#ff0000" stroke-width="0.8"/><polygon points="400.69,138.82 405.06,141.1 400.69,143.38" fill="none" stroke="#ff0000" stroke-width="0.8"/><polygon points="404.81,144.24 409.18,146.52 404.81,148.8" fill="none" stroke="#ff0000" stroke-width="0.8"/><polygon points="408.93,145.47 413.3,147.75 408.93,150.03" fill="none" stroke="#ff0000" stroke-width="0.8"/><polygon points="413.05,147.94 417.42,150.22 413.05,152.5" fill="none" stroke="#ff0000" stroke-width="0.8"/><polygon points="417.18,155.53 421.55,157.81 417.18,160.09" fill="none" stroke="#ff0000" stroke-width="0.8"/><polygon points="421.3,160.75 425.67,163.03 421.3,165.31" fill="none" stroke="#ff0000" stroke-width="0.8"/><polygon points="425.42,161.41 429.79,163.69 425.42,165.97" fill="none" stroke="#ff0000" stroke-width="0.8"/><polygon points="429.54,161.41 433.91,163.69 429.54,165.97" fill="none" stroke="#ff0000" stroke-width="0.8"/><polygon points="433.66,161.41 438.03,163.69 433.66,165.97" fill="none" stroke="#ff0000" stroke-width="0.8"/><polygon points="437.79,161.41 442.16,163.69 437.79,165.97" fill="none" stroke="#ff0000" stroke-width="0.8"/><polygon points="441.91,161.41 446.28,163.69 441.91,165.97" fill="none" stroke="#ff0000" stroke-width="0.8"/><polygon points="446.03,161.41 450.4,163.69 446.03,165.97" fill="none" stroke="#ff0000" stroke-width="0.8"/><polygon points="450.15,161.41 454.52,163.69 450.15,165.97" fill="none" stroke="#ff0000" stroke-width="0.8"/><polygon points="454.27,161.41 458.64,163.69 454.27,165.97" fill="none" stroke="#ff0000" stroke-width="0.8"/><polygon points="458.4,161.41 462.77,163.69 458.4,165.97" fill="none" stroke="#ff0000" stroke-width="0.8"/><polygon points="462.52,161.41 466.89,163.69 462.52,165.97" fill="none" stroke="#ff0000" stroke-width="0.8"/><polygon points="466.64,161.41 471.01,163.69 466.64,165.97" fill="none" stroke="#ff0000" stroke-width="0.8"/><polygon points="470.76,161.41 475.13,163.69 470.76,165.97" fill="none" stroke="#ff0000" stroke-width="0.8"/><polygon points="474.88,161.41 479.25,163.69 474.88,165.97" fill="none" stroke="#ff0000" stroke-width="0.8"/><polygon points="479.01,161.41 483.38,163.69 479.01,165.97" fill="none" stroke="#ff0000" stroke-width="0.8"/><polygon points="483.13,161.41 487.5,163.69 483.13,165.97" fill="none" stroke="#ff0000" stroke-width="0.8"/><polygon points="487.25,161.41 491.62,163.69 487.25,165.97" fill="none" stroke="#ff0000" stroke-width="0.8"/><polygon points="491.37,161.41 495.74,163.69 491.37,165.97" fill="none" stroke="#ff0000" stroke-width="0.8"/><polygon points="495.49,161.41 499.86,163.69 495.49,165.97" fill="none" stroke="#ff0000" stroke-width="0.8"/><polygon points="499.62,161.41 503.99,163.69 499.62,165.97" fill="none" stroke="#ff0000" stroke-width="0.8"/><polygon points="503.74,161.41 508.11,163.69 503.74,165.97" fill="none" stroke="#ff0000" stroke-width="0.8"/><polygon points="507.86,161.41 512.23,163.69 507.86,165.97" fill="none" stroke="#ff0000" stroke-width="0.8"/><polygon points="511.98,161.41 516.35,163.69 511.98,165.97" fill="none" stroke="#ff0000" stroke-width="0.8"/><polygon points="516.1,161.41 520.47,163.69 516.1,165.97" fill="none" stroke="#ff0000" stroke-width="0.8"/><polygon points="520.23,161.41 524.6,163.69 520.23,165.97" fill="none" stroke="#ff0000" stroke-width="0.8"/><polygon points="524.35,161.41 528.72,163.69 524.35,165.97" fill="none" stroke="#ff0000" stroke-width="0.8"/><polygon points="528.47,161.41 532.84,163.69 528.47,165.97" fill="none" stroke="#ff0000" stroke-width="0.8"/><polygon points="532.59,161.41 536.96,163.69 532.59,165.97" fill="none" stroke="#ff0000" stroke-width="0.8"/><polygon points="536.71,161.41 541.08,163.69 536.71,165.97" fill="none" stroke="#ff0000" stroke-width="0.8"/><polygon points="540.84,161.41 545.21,163.69 540.84,165.97" fill="none" stroke="#ff0000" stroke-width="0.8"/><polygon points="544.96,161.41 549.33,163.69 544.96,165.97" fill="none" stroke="#ff0000" stroke-width="0.8"/><polygon points="549.08,161.41 553.45,163.69 549.08,165.97" fill="none" stroke="#ff0000" stroke-width="0.8"/><polygon points="553.2,161.41 557.57,163.69 553.2,165.97" fill="none" stroke="#ff0000" stroke-width="0.8"/><polygon points="557.32,161.41 561.69,163.69 557.32,165.97" fill="none" stroke="#ff0000" stroke-width="0.8"/><polygon points="561.45,161.41 565.82,163.69 561.45,165.97" fill="none" stroke="#ff0000" stroke-width="0.8"/><polygon points="565.57,161.41 569.94,163.69 565.57,165.97" fill="none" stroke="#ff0000" stroke-width="0.8"/><polygon points="569.69,161.41 574.06,163.69 569.69,165.97" fill="none" stroke="#ff0000" stroke-width="0.8"/><polygon points="573.81,161.41 578.18,163.69 573.81,165.97" fill="none" stroke="#ff0000" stroke-width="0.8"/><polygon points="577.93,161.41 582.3,163.69 577.93,165.97" fill="none" stroke="#ff0000" stroke-width="0.8"/><polygon points="582.06,161.41 586.43,163.69 582.06,165.97" fill="none" stroke="#ff0000" stroke-width="0.8"/><polygon points="586.18,161.41 590.55,163.69 586.18,165.97" fill="none" stroke="#ff0000" stroke-width="0.8"/><polygon points="590.3,161.41 594.67,163.69 590.3,165.97" fill="none" stroke="#ff0000" stroke-width="0.8"/></g>
<rect x="386.1" y="3.3" width="206.1" height="160.3" fill="none" class="ax"/>
<line x1="386.1" y1="163.6" x2="386.1" y2="161.6" class="tk"/>
<line x1="386.1" y1="3.3" x2="386.1" y2="5.3" class="tk"/>
<text x="386.1" y="172.8" class="tl" text-anchor="middle">0</text>
<line x1="406.71" y1="163.6" x2="406.71" y2="161.6" class="tk"/>
<line x1="406.71" y1="3.3" x2="406.71" y2="5.3" class="tk"/>
<text x="406.71" y="172.8" class="tl" text-anchor="middle">50</text>
<line x1="427.32" y1="163.6" x2="427.32" y2="161.6" class="tk"/>
<line x1="427.32" y1="3.3" x2="427.32" y2="5.3" class="tk"/>
<text x="427.32" y="172.8" class="tl" text-anchor="middle">100</text>
<line x1="447.93" y1="163.6" x2="447.93" y2="161.6" class="tk"/>
<line x1="447.93" y1="3.3" x2="447.93" y2="5.3" class="tk"/>
<text x="447.93" y="172.8" class="tl" text-anchor="middle">150</text>
<line x1="468.54" y1="163.6" x2="468.54" y2="161.6" class="tk"/>
<line x1="468.54" y1="3.3" x2="468.54" y2="5.3" class="tk"/>
<text x="468.54" y="172.8" class="tl" text-anchor="middle">200</text>
<line x1="489.15" y1="163.6" x2="489.15" y2="161.6" class="tk"/>
<line x1="489.15" y1="3.3" x2="489.15" y2="5.3" class="tk"/>
<text x="489.15" y="172.8" class="tl" text-anchor="middle">250</text>
<line x1="509.76" y1="163.6" x2="509.76" y2="161.6" class="tk"/>
<line x1="509.76" y1="3.3" x2="509.76" y2="5.3" class="tk"/>
<text x="509.76" y="172.8" class="tl" text-anchor="middle">300</text>
<line x1="530.37" y1="163.6" x2="530.37" y2="161.6" class="tk"/>
<line x1="530.37" y1="3.3" x2="530.37" y2="5.3" class="tk"/>
<text x="530.37" y="172.8" class="tl" text-anchor="middle">350</text>
<line x1="550.98" y1="163.6" x2="550.98" y2="161.6" class="tk"/>
<line x1="550.98" y1="3.3" x2="550.98" y2="5.3" class="tk"/>
<text x="550.98" y="172.8" class="tl" text-anchor="middle">400</text>
<line x1="571.59" y1="163.6" x2="571.59" y2="161.6" class="tk"/>
<line x1="571.59" y1="3.3" x2="571.59" y2="5.3" class="tk"/>
<text x="571.59" y="172.8" class="tl" text-anchor="middle">450</text>
<line x1="592.2" y1="163.6" x2="592.2" y2="161.6" class="tk"/>
<line x1="592.2" y1="3.3" x2="592.2" y2="5.3" class="tk"/>
<text x="592.2" y="172.8" class="tl" text-anchor="middle">500</text>
<line x1="386.1" y1="157.17" x2="387.1" y2="157.17" class="tk"/>
<line x1="592.2" y1="157.17" x2="591.2" y2="157.17" class="tk"/>
<line x1="386.1" y1="150.84" x2="387.1" y2="150.84" class="tk"/>
<line x1="592.2" y1="150.84" x2="591.2" y2="150.84" class="tk"/>
<line x1="386.1" y1="144.7" x2="388.1" y2="144.7" class="tk"/>
<line x1="592.2" y1="144.7" x2="590.2" y2="144.7" class="tk"/>
<line x1="386.1" y1="138.73" x2="387.1" y2="138.73" class="tk"/>
<line x1="592.2" y1="138.73" x2="591.2" y2="138.73" class="tk"/>
<line x1="386.1" y1="132.92" x2="387.1" y2="132.92" class="tk"/>
<line x1="592.2" y1="132.92" x2="591.2" y2="132.92" class="tk"/>
<line x1="386.1" y1="127.27" x2="387.1" y2="127.27" class="tk"/>
<line x1="592.2" y1="127.27" x2="591.2" y2="127.27" class="tk"/>
<line x1="386.1" y1="121.77" x2="387.1" y2="121.77" class="tk"/>
<line x1="592.2" y1="121.77" x2="591.2" y2="121.77" class="tk"/>
<line x1="386.1" y1="116.4" x2="388.1" y2="116.4" class="tk"/>
<line x1="592.2" y1="116.4" x2="590.2" y2="116.4" class="tk"/>
<line x1="386.1" y1="111.17" x2="387.1" y2="111.17" class="tk"/>
<line x1="592.2" y1="111.17" x2="591.2" y2="111.17" class="tk"/>
<line x1="386.1" y1="106.06" x2="387.1" y2="106.06" class="tk"/>
<line x1="592.2" y1="106.06" x2="591.2" y2="106.06" class="tk"/>
<line x1="386.1" y1="101.07" x2="387.1" y2="101.07" class="tk"/>
<line x1="592.2" y1="101.07" x2="591.2" y2="101.07" class="tk"/>
<line x1="386.1" y1="96.2" x2="387.1" y2="96.2" class="tk"/>
<line x1="592.2" y1="96.2" x2="591.2" y2="96.2" class="tk"/>
<line x1="386.1" y1="91.44" x2="388.1" y2="91.44" class="tk"/>
<line x1="592.2" y1="91.44" x2="590.2" y2="91.44" class="tk"/>
<line x1="386.1" y1="86.78" x2="387.1" y2="86.78" class="tk"/>
<line x1="592.2" y1="86.78" x2="591.2" y2="86.78" class="tk"/>
<line x1="386.1" y1="82.22" x2="387.1" y2="82.22" class="tk"/>
<line x1="592.2" y1="82.22" x2="591.2" y2="82.22" class="tk"/>
<line x1="386.1" y1="77.76" x2="387.1" y2="77.76" class="tk"/>
<line x1="592.2" y1="77.76" x2="591.2" y2="77.76" class="tk"/>
<line x1="386.1" y1="73.39" x2="387.1" y2="73.39" class="tk"/>
<line x1="592.2" y1="73.39" x2="591.2" y2="73.39" class="tk"/>
<line x1="386.1" y1="69.11" x2="388.1" y2="69.11" class="tk"/>
<line x1="592.2" y1="69.11" x2="590.2" y2="69.11" class="tk"/>
<line x1="386.1" y1="64.91" x2="387.1" y2="64.91" class="tk"/>
<line x1="592.2" y1="64.91" x2="591.2" y2="64.91" class="tk"/>
<line x1="386.1" y1="60.8" x2="387.1" y2="60.8" class="tk"/>
<line x1="592.2" y1="60.8" x2="591.2" y2="60.8" class="tk"/>
<line x1="386.1" y1="56.76" x2="387.1" y2="56.76" class="tk"/>
<line x1="592.2" y1="56.76" x2="591.2" y2="56.76" class="tk"/>
<line x1="386.1" y1="52.8" x2="387.1" y2="52.8" class="tk"/>
<line x1="592.2" y1="52.8" x2="591.2" y2="52.8" class="tk"/>
<line x1="386.1" y1="48.91" x2="388.1" y2="48.91" class="tk"/>
<line x1="592.2" y1="48.91" x2="590.2" y2="48.91" class="tk"/>
<line x1="386.1" y1="45.09" x2="387.1" y2="45.09" class="tk"/>
<line x1="592.2" y1="45.09" x2="591.2" y2="45.09" class="tk"/>
<line x1="386.1" y1="41.34" x2="387.1" y2="41.34" class="tk"/>
<line x1="592.2" y1="41.34" x2="591.2" y2="41.34" class="tk"/>
<line x1="386.1" y1="37.65" x2="387.1" y2="37.65" class="tk"/>
<line x1="592.2" y1="37.65" x2="591.2" y2="37.65" class="tk"/>
<line x1="386.1" y1="34.03" x2="387.1" y2="34.03" class="tk"/>
<line x1="592.2" y1="34.03" x2="591.2" y2="34.03" class="tk"/>
<line x1="386.1" y1="30.47" x2="388.1" y2="30.47" class="tk"/>
<line x1="592.2" y1="30.47" x2="590.2" y2="30.47" class="tk"/>
<line x1="386.1" y1="26.96" x2="387.1" y2="26.96" class="tk"/>
<line x1="592.2" y1="26.96" x2="591.2" y2="26.96" class="tk"/>
<line x1="386.1" y1="23.52" x2="387.1" y2="23.52" class="tk"/>
<line x1="592.2" y1="23.52" x2="591.2" y2="23.52" class="tk"/>
<line x1="386.1" y1="20.13" x2="387.1" y2="20.13" class="tk"/>
<line x1="592.2" y1="20.13" x2="591.2" y2="20.13" class="tk"/>
<line x1="386.1" y1="16.79" x2="387.1" y2="16.79" class="tk"/>
<line x1="592.2" y1="16.79" x2="591.2" y2="16.79" class="tk"/>
<line x1="386.1" y1="13.5" x2="388.1" y2="13.5" class="tk"/>
<line x1="592.2" y1="13.5" x2="590.2" y2="13.5" class="tk"/>
<line x1="386.1" y1="10.27" x2="387.1" y2="10.27" class="tk"/>
<line x1="592.2" y1="10.27" x2="591.2" y2="10.27" class="tk"/>
<line x1="386.1" y1="7.08" x2="387.1" y2="7.08" class="tk"/>
<line x1="592.2" y1="7.08" x2="591.2" y2="7.08" class="tk"/>
<line x1="386.1" y1="3.94" x2="387.1" y2="3.94" class="tk"/>
<line x1="592.2" y1="3.94" x2="591.2" y2="3.94" class="tk"/>
<text x="383.7" y="146.9" class="tl" text-anchor="end">350</text>
<text x="383.7" y="118.6" class="tl" text-anchor="end">400</text>
<text x="383.7" y="93.64" class="tl" text-anchor="end">450</text>
<text x="383.7" y="71.31" class="tl" text-anchor="end">500</text>
<text x="383.7" y="51.11" class="tl" text-anchor="end">550</text>
<text x="383.7" y="32.67" class="tl" text-anchor="end">600</text>
<text x="383.7" y="15.7" class="tl" text-anchor="end">650</text>
<text x="485" y="185" class="al" text-anchor="middle">iteration times</text>
<text transform="translate(371.3,84) rotate(-90)" class="al" text-anchor="middle">error values</text>
<rect x="530.7" y="27.3" width="43.1" height="63.1" fill="#fff" stroke="#999" stroke-width="0.6"/>
<line x1="532.8" y1="31.9" x2="551.2" y2="31.9" stroke="#ff00ff" stroke-width="1"/>
<rect x="540.3" y="30.2" width="3.4" height="3.4" fill="none" stroke="#ff00ff" stroke-width="0.95"/>
<text x="552.8" y="34" class="lg">BWO</text>
<line x1="532.8" y1="39.62" x2="551.2" y2="39.62" stroke="#0000ff" stroke-width="1"/>
<circle cx="542" cy="39.62" r="1.78" fill="none" stroke="#0000ff" stroke-width="0.95"/>
<text x="552.8" y="41.72" class="lg">HHO</text>
<line x1="532.8" y1="47.34" x2="551.2" y2="47.34" stroke="#000000" stroke-width="1"/>
<polygon points="542,44.62 542.68,46.4 544.59,46.5 543.1,47.7 543.6,49.54 542,48.5 540.4,49.54 540.9,47.7 539.41,46.5 541.32,46.4" fill="#000000" stroke="#000000" stroke-width="0.3"/>
<text x="552.8" y="49.44" class="lg">DBO</text>
<line x1="532.8" y1="55.06" x2="551.2" y2="55.06" stroke="#00ffff" stroke-width="1"/>
<polygon points="542,52.85 543.7,55.06 542,57.27 540.3,55.06" fill="none" stroke="#00ffff" stroke-width="0.95"/>
<text x="552.8" y="57.16" class="lg">GJO</text>
<line x1="532.8" y1="62.78" x2="551.2" y2="62.78" stroke="#00ff00" stroke-width="1"/>
<path d="M540.64,61.42L543.36,64.14M540.64,64.14L543.36,61.42" stroke="#00ff00" stroke-width="1.3"/>
<text x="552.8" y="64.88" class="lg">RSO</text>
<line x1="532.8" y1="70.5" x2="551.2" y2="70.5" stroke="#0000ff" stroke-width="1"/>
<polygon points="542,68.2 542.68,69.32 543.99,69.35 543.36,70.5 543.99,71.65 542.68,71.68 542,72.8 541.32,71.68 540.01,71.65 540.64,70.5 540.01,69.35 541.32,69.32" fill="#0000ff" stroke="#0000ff" stroke-width="0.3"/>
<text x="552.8" y="72.6" class="lg">WOA</text>
<line x1="532.8" y1="78.22" x2="551.2" y2="78.22" stroke="#000000" stroke-width="1"/>
<path d="M540.13,78.22L543.87,78.22M542,76.35L542,80.09" stroke="#000000" stroke-width="0.8"/>
<text x="552.8" y="80.32" class="lg">SO</text>
<line x1="532.8" y1="85.94" x2="551.2" y2="85.94" stroke="#ff0000" stroke-width="1"/>
<polygon points="540.3,83.9 544.21,85.94 540.3,87.98" fill="none" stroke="#ff0000" stroke-width="0.8"/>
<text x="552.8" y="88.04" class="lg">W-SO</text>
<line x1="43" y1="446.35" x2="43" y2="447.02" stroke="#666" stroke-width="0.5" stroke-dasharray="1.5 1"/>
<line x1="39.5" y1="446.35" x2="46.5" y2="446.35" stroke="#666" stroke-width="0.5"/>
<line x1="43" y1="447.89" x2="43" y2="447.51" stroke="#666" stroke-width="0.5" stroke-dasharray="1.5 1"/>
<line x1="39.5" y1="447.89" x2="46.5" y2="447.89" stroke="#666" stroke-width="0.5"/>
<rect x="36" y="447.02" width="14" height="0.48" fill="none" stroke="#666" stroke-width="0.55"/>
<line x1="36" y1="447.31" x2="50" y2="447.31" stroke="#333" stroke-width="0.6"/>
<line x1="70.37" y1="447.02" x2="70.37" y2="447.41" stroke="#666" stroke-width="0.5" stroke-dasharray="1.5 1"/>
<line x1="66.87" y1="447.02" x2="73.87" y2="447.02" stroke="#666" stroke-width="0.5"/>
<line x1="70.37" y1="447.99" x2="70.37" y2="447.79" stroke="#666" stroke-width="0.5" stroke-dasharray="1.5 1"/>
<line x1="66.87" y1="447.99" x2="73.87" y2="447.99" stroke="#666" stroke-width="0.5"/>
<rect x="63.37" y="447.41" width="14" height="0.38" fill="none" stroke="#666" stroke-width="0.55"/>
<line x1="63.37" y1="447.65" x2="77.37" y2="447.65" stroke="#333" stroke-width="0.6"/>
<line x1="97.74" y1="446.93" x2="97.74" y2="447.07" stroke="#666" stroke-width="0.5" stroke-dasharray="1.5 1"/>
<line x1="94.24" y1="446.93" x2="101.24" y2="446.93" stroke="#666" stroke-width="0.5"/>
<line x1="97.74" y1="447.41" x2="97.74" y2="447.26" stroke="#666" stroke-width="0.5" stroke-dasharray="1.5 1"/>
<line x1="94.24" y1="447.41" x2="101.24" y2="447.41" stroke="#666" stroke-width="0.5"/>
<rect x="90.74" y="447.07" width="14" height="0.19" fill="none" stroke="#666" stroke-width="0.55"/>
<line x1="90.74" y1="447.17" x2="104.74" y2="447.17" stroke="#333" stroke-width="0.6"/>
<rect x="118.11" y="435.43" width="14" height="0.01" fill="none" stroke="#909090" stroke-width="0.55"/>
<line x1="118.11" y1="435.43" x2="132.11" y2="435.43" stroke="#888" stroke-width="0.6"/>
<line x1="152.48" y1="442.41" x2="152.48" y2="443.9" stroke="#666" stroke-width="0.5" stroke-dasharray="1.5 1"/>
<line x1="148.98" y1="442.41" x2="155.98" y2="442.41" stroke="#666" stroke-width="0.5"/>
<line x1="152.48" y1="446.83" x2="152.48" y2="446.5" stroke="#666" stroke-width="0.5" stroke-dasharray="1.5 1"/>
<line x1="148.98" y1="446.83" x2="155.98" y2="446.83" stroke="#666" stroke-width="0.5"/>
<rect x="145.48" y="443.9" width="14" height="2.6" fill="none" stroke="#666" stroke-width="0.55"/>
<line x1="145.48" y1="445.2" x2="159.48" y2="445.2" stroke="#333" stroke-width="0.6"/>
<line x1="179.85" y1="447.17" x2="179.85" y2="447.41" stroke="#666" stroke-width="0.5" stroke-dasharray="1.5 1"/>
<line x1="176.35" y1="447.17" x2="183.35" y2="447.17" stroke="#666" stroke-width="0.5"/>
<line x1="179.85" y1="447.89" x2="179.85" y2="447.75" stroke="#666" stroke-width="0.5" stroke-dasharray="1.5 1"/>
<line x1="176.35" y1="447.89" x2="183.35" y2="447.89" stroke="#666" stroke-width="0.5"/>
<rect x="172.85" y="447.41" width="14" height="0.34" fill="none" stroke="#666" stroke-width="0.55"/>
<line x1="172.85" y1="447.6" x2="186.85" y2="447.6" stroke="#333" stroke-width="0.6"/>
<line x1="207.22" y1="406.28" x2="207.22" y2="410.47" stroke="#666" stroke-width="0.5" stroke-dasharray="1.5 1"/>
<line x1="203.72" y1="406.28" x2="210.72" y2="406.28" stroke="#666" stroke-width="0.5"/>
<line x1="207.22" y1="414.7" x2="207.22" y2="414.46" stroke="#666" stroke-width="0.5" stroke-dasharray="1.5 1"/>
<line x1="203.72" y1="414.7" x2="210.72" y2="414.7" stroke="#666" stroke-width="0.5"/>
<rect x="200.22" y="410.47" width="14" height="3.99" fill="none" stroke="#666" stroke-width="0.55"/>
<line x1="200.22" y1="414.22" x2="214.22" y2="414.22" stroke="#333" stroke-width="0.6"/>
<rect x="227.59" y="446.69" width="14" height="0.01" fill="none" stroke="#aaa" stroke-width="0.55"/>
<line x1="227.59" y1="446.69" x2="241.59" y2="446.69" stroke="#999" stroke-width="0.6"/>
<rect x="29.6" y="289.8" width="218.8" height="165.6" fill="none" class="axb"/>
<line x1="43" y1="455.4" x2="43" y2="453.6" class="tkb"/>
<line x1="43" y1="289.8" x2="43" y2="291.6" class="tkb"/>
<text x="43" y="465.8" class="bl" text-anchor="middle">W-SO</text>
<line x1="70.37" y1="455.4" x2="70.37" y2="453.6" class="tkb"/>
<line x1="70.37" y1="289.8" x2="70.37" y2="291.6" class="tkb"/>
<text x="70.37" y="465.8" class="bl" text-anchor="middle">SO</text>
<line x1="97.74" y1="455.4" x2="97.74" y2="453.6" class="tkb"/>
<line x1="97.74" y1="289.8" x2="97.74" y2="291.6" class="tkb"/>
<text x="97.74" y="465.8" class="bl" text-anchor="middle">WOA</text>
<line x1="125.11" y1="455.4" x2="125.11" y2="453.6" class="tkb"/>
<line x1="125.11" y1="289.8" x2="125.11" y2="291.6" class="tkb"/>
<text x="125.11" y="465.8" class="bl" text-anchor="middle">BWO</text>
<line x1="152.48" y1="455.4" x2="152.48" y2="453.6" class="tkb"/>
<line x1="152.48" y1="289.8" x2="152.48" y2="291.6" class="tkb"/>
<text x="152.48" y="465.8" class="bl" text-anchor="middle">GJO</text>
<line x1="179.85" y1="455.4" x2="179.85" y2="453.6" class="tkb"/>
<line x1="179.85" y1="289.8" x2="179.85" y2="291.6" class="tkb"/>
<text x="179.85" y="465.8" class="bl" text-anchor="middle">DBO</text>
<line x1="207.22" y1="455.4" x2="207.22" y2="453.6" class="tkb"/>
<line x1="207.22" y1="289.8" x2="207.22" y2="291.6" class="tkb"/>
<text x="207.22" y="465.8" class="bl" text-anchor="middle">RSO</text>
<line x1="234.59" y1="455.4" x2="234.59" y2="453.6" class="tkb"/>
<line x1="234.59" y1="289.8" x2="234.59" y2="291.6" class="tkb"/>
<text x="234.59" y="465.8" class="bl" text-anchor="middle">HHO</text>
<line x1="29.6" y1="452.7" x2="31.400000000000002" y2="452.7" class="tkb"/>
<line x1="248.4" y1="452.7" x2="246.6" y2="452.7" class="tkb"/>
<text x="25.8" y="455.5" class="tl" text-anchor="end">0</text>
<line x1="29.6" y1="428.65" x2="31.400000000000002" y2="428.65" class="tkb"/>
<line x1="248.4" y1="428.65" x2="246.6" y2="428.65" class="tkb"/>
<text x="25.8" y="431.45" class="tl" text-anchor="end">500</text>
<line x1="29.6" y1="404.6" x2="31.400000000000002" y2="404.6" class="tkb"/>
<line x1="248.4" y1="404.6" x2="246.6" y2="404.6" class="tkb"/>
<text x="25.8" y="407.4" class="tl" text-anchor="end">1000</text>
<line x1="29.6" y1="380.55" x2="31.400000000000002" y2="380.55" class="tkb"/>
<line x1="248.4" y1="380.55" x2="246.6" y2="380.55" class="tkb"/>
<text x="25.8" y="383.35" class="tl" text-anchor="end">1500</text>
<line x1="29.6" y1="356.5" x2="31.400000000000002" y2="356.5" class="tkb"/>
<line x1="248.4" y1="356.5" x2="246.6" y2="356.5" class="tkb"/>
<text x="25.8" y="359.3" class="tl" text-anchor="end">2000</text>
<line x1="29.6" y1="332.45" x2="31.400000000000002" y2="332.45" class="tkb"/>
<line x1="248.4" y1="332.45" x2="246.6" y2="332.45" class="tkb"/>
<text x="25.8" y="335.25" class="tl" text-anchor="end">2500</text>
<line x1="29.6" y1="308.4" x2="31.400000000000002" y2="308.4" class="tkb"/>
<line x1="248.4" y1="308.4" x2="246.6" y2="308.4" class="tkb"/>
<text x="25.8" y="311.2" class="tl" text-anchor="end">3000</text>
<text transform="translate(4.7,377.2) rotate(-90)" class="al3" text-anchor="middle">error values</text>
<rect x="392.6" y="454.21" width="13.2" height="0.17" fill="none" stroke="#666" stroke-width="0.55"/>
<line x1="392.6" y1="454.3" x2="405.8" y2="454.3" stroke="#333" stroke-width="0.6"/>
<line x1="424.88" y1="451.47" x2="424.88" y2="452.08" stroke="#666" stroke-width="0.5" stroke-dasharray="1.5 1"/>
<line x1="421.58" y1="451.47" x2="428.18" y2="451.47" stroke="#666" stroke-width="0.5"/>
<line x1="424.88" y1="452.77" x2="424.88" y2="452.56" stroke="#666" stroke-width="0.5" stroke-dasharray="1.5 1"/>
<line x1="421.58" y1="452.77" x2="428.18" y2="452.77" stroke="#666" stroke-width="0.5"/>
<rect x="418.28" y="452.08" width="13.2" height="0.48" fill="none" stroke="#666" stroke-width="0.55"/>
<line x1="418.28" y1="452.34" x2="431.48" y2="452.34" stroke="#333" stroke-width="0.6"/>
<rect x="443.96" y="439.33" width="13.2" height="0.17" fill="none" stroke="#666" stroke-width="0.55"/>
<line x1="443.96" y1="439.42" x2="457.16" y2="439.42" stroke="#333" stroke-width="0.6"/>
<rect x="469.64" y="400.23" width="13.2" height="0.01" fill="none" stroke="#666" stroke-width="0.55"/>
<line x1="469.64" y1="400.23" x2="482.84" y2="400.23" stroke="#333" stroke-width="0.6"/>
<line x1="501.92" y1="430.15" x2="501.92" y2="431.02" stroke="#666" stroke-width="0.5" stroke-dasharray="1.5 1"/>
<line x1="498.62" y1="430.15" x2="505.22" y2="430.15" stroke="#666" stroke-width="0.5"/>
<line x1="501.92" y1="434.5" x2="501.92" y2="433.68" stroke="#666" stroke-width="0.5" stroke-dasharray="1.5 1"/>
<line x1="498.62" y1="434.5" x2="505.22" y2="434.5" stroke="#666" stroke-width="0.5"/>
<rect x="495.32" y="431.02" width="13.2" height="2.65" fill="none" stroke="#666" stroke-width="0.55"/>
<line x1="495.32" y1="432.5" x2="508.52" y2="432.5" stroke="#333" stroke-width="0.6"/>
<line x1="527.6" y1="446.25" x2="527.6" y2="447.12" stroke="#666" stroke-width="0.5" stroke-dasharray="1.5 1"/>
<line x1="524.3" y1="446.25" x2="530.9" y2="446.25" stroke="#666" stroke-width="0.5"/>
<line x1="527.6" y1="449.73" x2="527.6" y2="448.86" stroke="#666" stroke-width="0.5" stroke-dasharray="1.5 1"/>
<line x1="524.3" y1="449.73" x2="530.9" y2="449.73" stroke="#666" stroke-width="0.5"/>
<rect x="521" y="447.12" width="13.2" height="1.74" fill="none" stroke="#666" stroke-width="0.55"/>
<line x1="521" y1="448.21" x2="534.2" y2="448.21" stroke="#333" stroke-width="0.6"/>
<rect x="546.68" y="323.28" width="13.2" height="0.09" fill="none" stroke="#666" stroke-width="0.55"/>
<line x1="546.68" y1="323.32" x2="559.88" y2="323.32" stroke="#333" stroke-width="0.6"/>
<line x1="578.96" y1="434.94" x2="578.96" y2="435.16" stroke="#666" stroke-width="0.5" stroke-dasharray="1.5 1"/>
<line x1="575.66" y1="434.94" x2="582.26" y2="434.94" stroke="#666" stroke-width="0.5"/>
<line x1="578.96" y1="435.81" x2="578.96" y2="435.59" stroke="#666" stroke-width="0.5" stroke-dasharray="1.5 1"/>
<line x1="575.66" y1="435.81" x2="582.26" y2="435.81" stroke="#666" stroke-width="0.5"/>
<rect x="572.36" y="435.16" width="13.2" height="0.44" fill="none" stroke="#666" stroke-width="0.55"/>
<line x1="572.36" y1="435.38" x2="585.56" y2="435.38" stroke="#333" stroke-width="0.6"/>
<rect x="386.2" y="290.5" width="205.8" height="171.5" fill="none" class="axb"/>
<line x1="399.2" y1="462.0" x2="399.2" y2="460.2" class="tkb"/>
<line x1="399.2" y1="290.5" x2="399.2" y2="292.3" class="tkb"/>
<text x="399.2" y="472.8" class="bl" text-anchor="middle">W-SO</text>
<line x1="424.88" y1="462.0" x2="424.88" y2="460.2" class="tkb"/>
<line x1="424.88" y1="290.5" x2="424.88" y2="292.3" class="tkb"/>
<text x="424.88" y="472.8" class="bl" text-anchor="middle">SO</text>
<line x1="450.56" y1="462.0" x2="450.56" y2="460.2" class="tkb"/>
<line x1="450.56" y1="290.5" x2="450.56" y2="292.3" class="tkb"/>
<text x="450.56" y="472.8" class="bl" text-anchor="middle">WOA</text>
<line x1="476.24" y1="462.0" x2="476.24" y2="460.2" class="tkb"/>
<line x1="476.24" y1="290.5" x2="476.24" y2="292.3" class="tkb"/>
<text x="476.24" y="472.8" class="bl" text-anchor="middle">BWO</text>
<line x1="501.92" y1="462.0" x2="501.92" y2="460.2" class="tkb"/>
<line x1="501.92" y1="290.5" x2="501.92" y2="292.3" class="tkb"/>
<text x="501.92" y="472.8" class="bl" text-anchor="middle">GJO</text>
<line x1="527.6" y1="462.0" x2="527.6" y2="460.2" class="tkb"/>
<line x1="527.6" y1="290.5" x2="527.6" y2="292.3" class="tkb"/>
<text x="527.6" y="472.8" class="bl" text-anchor="middle">DBO</text>
<line x1="553.28" y1="462.0" x2="553.28" y2="460.2" class="tkb"/>
<line x1="553.28" y1="290.5" x2="553.28" y2="292.3" class="tkb"/>
<text x="553.28" y="472.8" class="bl" text-anchor="middle">RSO</text>
<line x1="578.96" y1="462.0" x2="578.96" y2="460.2" class="tkb"/>
<line x1="578.96" y1="290.5" x2="578.96" y2="292.3" class="tkb"/>
<text x="578.96" y="472.8" class="bl" text-anchor="middle">HHO</text>
<line x1="386.2" y1="441.9" x2="388.0" y2="441.9" class="tkb"/>
<line x1="592.0" y1="441.9" x2="590.2" y2="441.9" class="tkb"/>
<text x="383.5" y="444.2" class="tl" text-anchor="end">350</text>
<line x1="386.2" y1="420.15" x2="388.0" y2="420.15" class="tkb"/>
<line x1="592.0" y1="420.15" x2="590.2" y2="420.15" class="tkb"/>
<text x="383.5" y="422.45" class="tl" text-anchor="end">400</text>
<line x1="386.2" y1="398.4" x2="388.0" y2="398.4" class="tkb"/>
<line x1="592.0" y1="398.4" x2="590.2" y2="398.4" class="tkb"/>
<text x="383.5" y="400.7" class="tl" text-anchor="end">450</text>
<line x1="386.2" y1="376.65" x2="388.0" y2="376.65" class="tkb"/>
<line x1="592.0" y1="376.65" x2="590.2" y2="376.65" class="tkb"/>
<text x="383.5" y="378.95" class="tl" text-anchor="end">500</text>
<line x1="386.2" y1="354.9" x2="388.0" y2="354.9" class="tkb"/>
<line x1="592.0" y1="354.9" x2="590.2" y2="354.9" class="tkb"/>
<text x="383.5" y="357.2" class="tl" text-anchor="end">550</text>
<line x1="386.2" y1="333.15" x2="388.0" y2="333.15" class="tkb"/>
<line x1="592.0" y1="333.15" x2="590.2" y2="333.15" class="tkb"/>
<text x="383.5" y="335.45" class="tl" text-anchor="end">600</text>
<line x1="386.2" y1="311.4" x2="388.0" y2="311.4" class="tkb"/>
<line x1="592.0" y1="311.4" x2="590.2" y2="311.4" class="tkb"/>
<text x="383.5" y="313.7" class="tl" text-anchor="end">650</text>
<text transform="translate(366,381.3) rotate(-90)" class="al2" text-anchor="middle">error values</text>
<g transform="translate(0,243.6) scale(1,1.055)"><text y="0" class="cap"><tspan x="0.2">(a) Error convergence curve of the </tspan><tspan x="230.4">F</tspan><tspan x="239.4" y="2.2" class="sub">22</tspan><tspan x="253.1" y="0">test function</tspan></text>
<text y="0" class="cap"><tspan x="350.2">(b) Error convergence curve of the </tspan><tspan x="580.6">F</tspan><tspan x="588.9" y="2.2" class="sub">23</tspan><tspan x="604.3" y="0">test function</tspan></text></g>
<g transform="translate(0,529.6) scale(1,1.055)"><text y="0" class="cap"><tspan x="0.2">(c) Error box plot of the </tspan><tspan x="162">F</tspan><tspan x="170.3" y="2.2" class="sub">22</tspan><tspan x="184.9" y="0">test function</tspan></text>
<text y="0" class="cap"><tspan x="350.2">(d) Error box plot of the </tspan><tspan x="513.8">F</tspan><tspan x="522.5" y="2.2" class="sub">23</tspan><tspan x="537.9" y="0">test function</tspan></text></g>
</svg>
</body></html>
